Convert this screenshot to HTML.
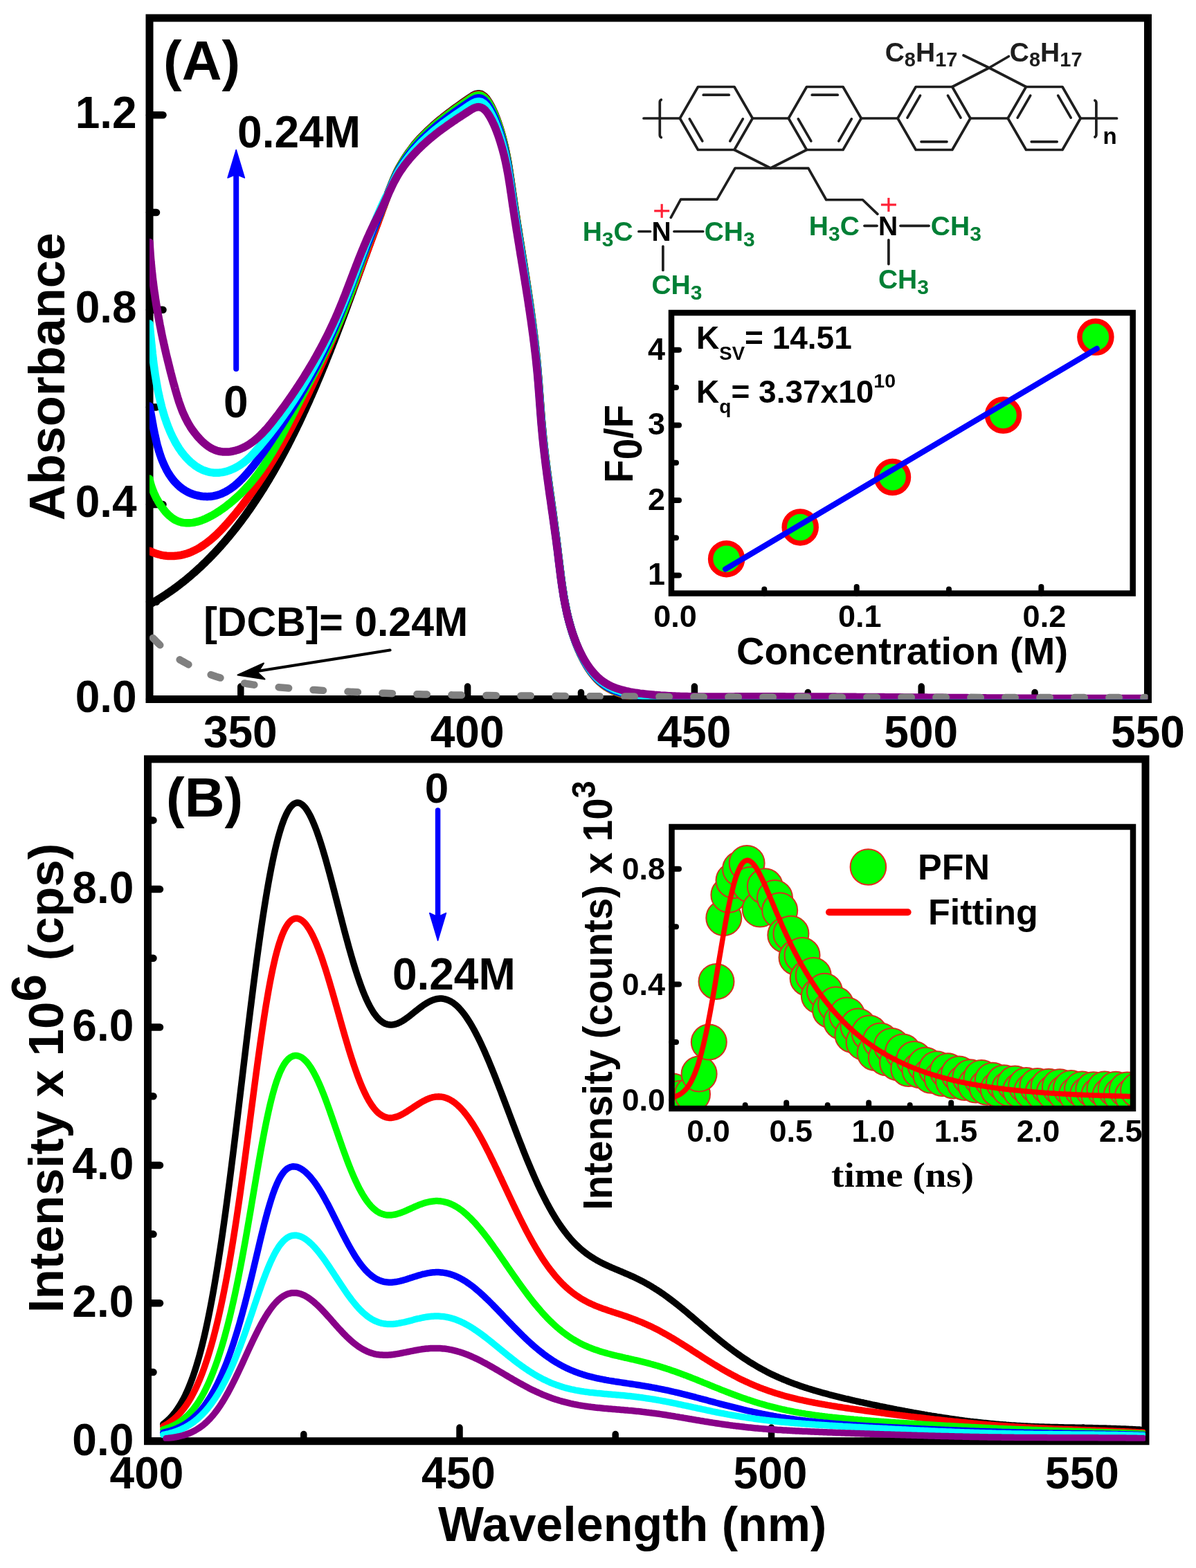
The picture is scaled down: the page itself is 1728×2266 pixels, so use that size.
<!DOCTYPE html>
<html><head><meta charset="utf-8"><title>PFN absorption and emission quenching</title>
<style>html,body{margin:0;padding:0;background:#fff;}svg{display:block;}</style>
</head><body>
<svg xmlns="http://www.w3.org/2000/svg" width="1728" height="2266" viewBox="0 0 1728 2266">
<rect x="0" y="0" width="1728" height="2266" fill="#fff"/>
<rect x="216" y="26" width="1442.5" height="984.5" fill="none" stroke="#000" stroke-width="11" stroke-linejoin="miter"/>
<rect x="213.5" y="1097" width="1441.5" height="985.7" fill="none" stroke="#000" stroke-width="11" stroke-linejoin="miter"/>
<line x1="216" y1="1010.5" x2="235.5" y2="1010.5" stroke="#000" stroke-width="10.5" stroke-linecap="round"/>
<line x1="216" y1="869.8" x2="226" y2="869.8" stroke="#000" stroke-width="10.5" stroke-linecap="round"/>
<line x1="216" y1="729.1" x2="235.5" y2="729.1" stroke="#000" stroke-width="10.5" stroke-linecap="round"/>
<line x1="216" y1="588.4" x2="226" y2="588.4" stroke="#000" stroke-width="10.5" stroke-linecap="round"/>
<line x1="216" y1="447.7" x2="235.5" y2="447.7" stroke="#000" stroke-width="10.5" stroke-linecap="round"/>
<line x1="216" y1="307" x2="226" y2="307" stroke="#000" stroke-width="10.5" stroke-linecap="round"/>
<line x1="216" y1="166.3" x2="235.5" y2="166.3" stroke="#000" stroke-width="10.5" stroke-linecap="round"/>
<line x1="347.8" y1="1010.5" x2="347.8" y2="992" stroke="#000" stroke-width="9.5" stroke-linecap="round"/>
<line x1="675.6" y1="1010.5" x2="675.6" y2="992" stroke="#000" stroke-width="9.5" stroke-linecap="round"/>
<line x1="839.5" y1="1010.5" x2="839.5" y2="1000.5" stroke="#000" stroke-width="9.5" stroke-linecap="round"/>
<line x1="1003.4" y1="1010.5" x2="1003.4" y2="992" stroke="#000" stroke-width="9.5" stroke-linecap="round"/>
<line x1="1167.3" y1="1010.5" x2="1167.3" y2="1000.5" stroke="#000" stroke-width="9.5" stroke-linecap="round"/>
<line x1="1331.2" y1="1010.5" x2="1331.2" y2="992" stroke="#000" stroke-width="9.5" stroke-linecap="round"/>
<line x1="1495.1" y1="1010.5" x2="1495.1" y2="1000.5" stroke="#000" stroke-width="9.5" stroke-linecap="round"/>
<line x1="213.5" y1="2082.7" x2="231" y2="2082.7" stroke="#000" stroke-width="10.5" stroke-linecap="round"/>
<line x1="213.5" y1="1983" x2="221.5" y2="1983" stroke="#000" stroke-width="10.5" stroke-linecap="round"/>
<line x1="213.5" y1="1883.3" x2="231" y2="1883.3" stroke="#000" stroke-width="10.5" stroke-linecap="round"/>
<line x1="213.5" y1="1783.6" x2="221.5" y2="1783.6" stroke="#000" stroke-width="10.5" stroke-linecap="round"/>
<line x1="213.5" y1="1683.9" x2="231" y2="1683.9" stroke="#000" stroke-width="10.5" stroke-linecap="round"/>
<line x1="213.5" y1="1584.2" x2="221.5" y2="1584.2" stroke="#000" stroke-width="10.5" stroke-linecap="round"/>
<line x1="213.5" y1="1484.5" x2="231" y2="1484.5" stroke="#000" stroke-width="10.5" stroke-linecap="round"/>
<line x1="213.5" y1="1384.8" x2="221.5" y2="1384.8" stroke="#000" stroke-width="10.5" stroke-linecap="round"/>
<line x1="213.5" y1="1285.1" x2="231" y2="1285.1" stroke="#000" stroke-width="10.5" stroke-linecap="round"/>
<line x1="213.5" y1="1185.4" x2="221.5" y2="1185.4" stroke="#000" stroke-width="10.5" stroke-linecap="round"/>
<line x1="438.8" y1="2082.7" x2="438.8" y2="2072.5" stroke="#000" stroke-width="9.5" stroke-linecap="round"/>
<line x1="664" y1="2082.7" x2="664" y2="2063" stroke="#000" stroke-width="9.5" stroke-linecap="round"/>
<line x1="889.2" y1="2082.7" x2="889.2" y2="2072.5" stroke="#000" stroke-width="9.5" stroke-linecap="round"/>
<line x1="1114.5" y1="2082.7" x2="1114.5" y2="2063" stroke="#000" stroke-width="9.5" stroke-linecap="round"/>
<line x1="1339.8" y1="2082.7" x2="1339.8" y2="2072.5" stroke="#000" stroke-width="9.5" stroke-linecap="round"/>
<line x1="1565" y1="2082.7" x2="1565" y2="2063" stroke="#000" stroke-width="9.5" stroke-linecap="round"/>
<defs><clipPath id="clipA"><rect x="216" y="26" width="1442.5" height="984.5"/></clipPath><clipPath id="clipB"><rect x="213.5" y="1097" width="1441.5" height="985.7"/></clipPath><clipPath id="clipIB"><rect x="970.5" y="1195" width="666.5" height="407"/></clipPath></defs>
<g clip-path="url(#clipA)">
<path d="M216.6 873.2 L218.7 872 L220.8 870.8 L222.9 869.6 L224.9 868.4 L227 867.2 L229 865.9 L231 864.7 L233.1 863.4 L235.1 862.1 L237.1 860.8 L239.1 859.5 L241 858.2 L243 856.8 L245 855.5 L246.9 854.1 L248.9 852.8 L250.8 851.4 L252.7 850 L254.6 848.6 L256.5 847.2 L258.4 845.7 L260.3 844.3 L262.2 842.8 L264 841.4 L265.9 839.9 L267.7 838.4 L269.6 836.9 L271.4 835.4 L273.2 833.9 L275 832.3 L276.8 830.8 L278.6 829.2 L280.4 827.7 L282.2 826.1 L283.9 824.5 L285.7 822.9 L287.4 821.3 L289.2 819.7 L290.9 818.1 L292.6 816.4 L294.3 814.8 L296 813.2 L297.7 811.5 L299.4 809.8 L301.1 808.1 L302.8 806.4 L304.4 804.8 L306.1 803 L307.7 801.3 L309.4 799.6 L311 797.9 L312.6 796.1 L314.2 794.4 L315.8 792.6 L317.4 790.9 L319 789.1 L320.6 787.3 L322.1 785.5 L323.7 783.7 L325.3 781.9 L326.8 780.1 L328.3 778.3 L329.9 776.5 L331.4 774.6 L332.9 772.8 L334.4 770.9 L335.9 769.1 L337.4 767.2 L338.9 765.3 L340.4 763.5 L341.9 761.6 L343.3 759.7 L344.8 757.8 L346.2 755.9 L347.7 754 L349.1 752.1 L350.5 750.2 L351.9 748.2 L353.4 746.3 L354.8 744.4 L356.2 742.4 L357.5 740.5 L358.9 738.5 L360.3 736.6 L361.7 734.6 L363 732.6 L364.4 730.6 L365.8 728.7 L367.1 726.7 L368.4 724.7 L369.8 722.7 L371.1 720.7 L372.4 718.7 L373.7 716.7 L375 714.6 L376.3 712.6 L377.6 710.6 L378.9 708.5 L380.2 706.5 L381.5 704.5 L382.7 702.4 L384 700.4 L385.2 698.3 L386.5 696.2 L387.7 694.2 L389 692.1 L390.2 690 L391.4 688 L392.6 685.9 L393.9 683.8 L395.1 681.7 L396.3 679.6 L397.5 677.5 L398.7 675.4 L399.8 673.3 L401 671.2 L402.2 669.1 L403.4 667 L404.5 664.8 L405.7 662.7 L406.8 660.6 L408 658.5 L409.1 656.3 L410.3 654.2 L411.4 652.1 L412.5 649.9 L413.6 647.8 L414.8 645.6 L415.9 643.5 L417 641.3 L418.1 639.2 L419.2 637 L420.3 634.9 L421.3 632.7 L422.4 630.5 L423.5 628.4 L424.6 626.2 L425.6 624 L426.7 621.9 L427.8 619.7 L428.8 617.5 L429.9 615.3 L430.9 613.2 L432 611 L433 608.8 L434 606.6 L435.1 604.4 L436.1 602.2 L437.1 600 L438.1 597.9 L439.1 595.7 L440.1 593.5 L441.1 591.3 L442.1 589.1 L443.1 586.9 L444.1 584.7 L445.1 582.5 L446.1 580.3 L447.1 578.1 L448 575.9 L449 573.7 L450 571.5 L450.9 569.3 L451.9 567.1 L452.9 564.9 L453.8 562.7 L454.8 560.5 L455.7 558.3 L456.7 556.1 L457.6 553.9 L458.5 551.6 L459.5 549.4 L460.4 547.2 L461.3 545 L462.3 542.8 L463.2 540.6 L464.1 538.4 L465 536.2 L465.9 534 L466.8 531.7 L467.8 529.5 L468.7 527.3 L469.6 525.1 L470.5 522.9 L471.4 520.7 L472.2 518.4 L473.1 516.2 L474 514 L474.9 511.8 L475.8 509.6 L476.7 507.3 L477.6 505.1 L478.4 502.9 L479.3 500.7 L480.2 498.4 L481 496.2 L481.9 494 L482.8 491.8 L483.6 489.5 L484.5 487.3 L485.4 485.1 L486.2 482.8 L487.1 480.6 L487.9 478.4 L488.8 476.1 L489.6 473.9 L490.5 471.7 L491.3 469.5 L492.2 467.2 L493 465 L493.8 462.8 L494.7 460.5 L495.5 458.3 L496.4 456 L497.2 453.8 L498 451.6 L498.9 449.3 L499.7 447.1 L500.5 444.9 L501.4 442.6 L502.2 440.4 L503 438.1 L503.8 435.9 L504.7 433.7 L505.5 431.4 L506.3 429.2 L507.1 426.9 L507.9 424.7 L508.8 422.5 L509.6 420.2 L510.4 418 L511.2 415.7 L512 413.5 L512.8 411.2 L513.7 409 L514.5 406.8 L515.3 404.5 L516.1 402.3 L516.9 400 L517.7 397.8 L518.5 395.5 L519.3 393.3 L520.2 391 L521 388.8 L521.8 386.5 L522.6 384.3 L523.4 382 L524.2 379.8 L525 377.6 L525.8 375.3 L526.6 373.1 L527.4 370.8 L528.3 368.6 L529.1 366.3 L529.9 364.1 L530.7 361.8 L531.5 359.6 L532.3 357.3 L533.1 355.1 L533.9 352.8 L534.7 350.6 L535.6 348.3 L536.4 346.1 L537.2 343.8 L538 341.6 L538.8 339.3 L539.6 337 L540.5 334.8 L541.3 332.5 L542.1 330.3 L542.9 328 L543.7 325.8 L544.6 323.5 L545.4 321.3 L546.2 319 L547 316.8 L547.9 314.5 L548.7 312.3 L549.5 310 L550.3 307.8 L551.2 305.5 L552 303.3 L552.8 301 L553.7 298.8 L554.5 296.5 L555.3 294.3 L556.2 292 L557 289.7 L557.9 287.5 L558.7 285.2 L559.3 283.1 L561.6 277 L564 271 L566.4 265 L568.8 259 L571.5 252.9 L574.2 246.9 L577.2 241.3 L580.4 235.8 L583.8 230.4 L587.3 225 L591 219.6 L594.9 214.3 L598.9 209 L603.1 204.1 L607.3 199.5 L611.7 195 L616.2 190.5 L620.8 186.2 L625.4 181.9 L630.1 177.7 L634.9 173.8 L639.7 169.9 L644.6 166.1 L649.4 162.3 L654.3 158.7 L659.1 155.1 L664 151.7 L668.8 148.3 L673.5 145 L678.2 141.7 L682.7 138.7 L687.2 136.4 L691.5 135.7 L695.6 136.5 L699.4 139 L703 142.8 L706.3 147.7 L709.4 153.1 L712.3 159 L715 165.1 L717.4 171.3 L719.7 177.7 L721.8 184 L723.7 190.2 L725.5 196.4 L727.1 202.5 L728.6 208.6 L730 214.6 L731.2 220.5 L732.4 226.4 L733.5 232.3 L734.5 238.2 L735.4 244 L736.3 249.8 L737.2 255.6 L738 261.4 L738.9 267.1 L739.7 272.9 L740.5 278.7 L741.4 284.5 L742.2 290.3 L743.1 296.1 L744 301.9 L744.9 307.7 L745.8 313.6 L746.7 319.4 L747.6 325.3 L748.6 331.1 L749.5 337 L750.4 342.9 L751.4 348.8 L752.3 354.7 L753.3 360.6 L754.2 366.5 L755.2 372.4 L756.1 378.3 L757.1 384.2 L758 390.2 L758.9 396.1 L759.9 402 L760.8 408 L761.7 413.9 L762.6 419.9 L763.5 425.8 L764.4 431.8 L765.3 437.8 L766.1 443.7 L767 449.7 L767.8 455.7 L768.6 461.6 L769.4 467.6 L770.2 473.6 L770.9 479.6 L771.7 485.5 L772.4 491.5 L773.1 497.5 L773.8 503.5 L774.4 509.5 L775 515.5 L775.6 521.4 L776.2 527.4 L776.7 533.4 L777.2 539.4 L777.7 545.4 L778.2 551.3 L778.6 557.3 L779.1 563.3 L779.5 569.3 L780 575.2 L780.4 581.2 L780.8 587.2 L781.3 593.1 L781.7 599.1 L782.2 605.1 L782.7 611 L783.3 617 L783.8 623 L784.4 628.9 L785 634.9 L785.7 640.9 L786.3 646.8 L787 652.8 L787.7 658.7 L788.4 664.7 L789.2 670.7 L789.9 676.6 L790.7 682.6 L791.5 688.5 L792.3 694.5 L793.1 700.4 L793.9 706.4 L794.7 712.3 L795.6 718.3 L796.4 724.3 L797.2 730.2 L798.1 736.2 L798.9 742.1 L799.7 748.1 L800.5 754 L801.3 760 L802.1 765.9 L802.9 771.9 L803.7 777.8 L804.4 783.8 L805.2 789.7 L805.9 795.7 L806.6 801.6 L807.3 807.6 L808 813.5 L808.8 819.5 L809.5 825.4 L810.2 831.4 L811 837.3 L811.8 843.3 L812.7 849.2 L813.6 855.2 L814.5 861.1 L815.6 867 L816.7 873 L817.9 878.9 L819.1 884.8 L820.5 890.8 L822 896.7 L823.6 902.6 L825.3 908.5 L827.1 914.4 L829.1 920.3 L831.2 926.2 L833.5 932.1 L835.9 937.9 L838.5 943.7 L841.3 949.4 L844.2 955 L847.4 960.4 L850.7 965.6 L854.2 970.6 L858 975.3 L861.9 979.8 L866.1 983.9 L870.6 987.6 L875.2 990.9 L880.1 993.8 L885.2 996.4 L890.5 998.6 L896 1000.5 L901.6 1002.1 L907.3 1003.5 L913.1 1004.7 L918.9 1005.7 L924.8 1006.5 L930.7 1007.3 L936.6 1008 L942.5 1008.6 L948.4 1009.1 L954.3 1009.6 L960.2 1010 L966.1 1010.4 L972 1010.7 L977.8 1010.9 L983.7 1011.1 L989.6 1011.3 L995.4 1011.4 L1001.3 1011.5 L1007.2 1011.6 L1013 1011.7 L1018.9 1011.7 L1024.7 1011.7 L1030.6 1011.7 L1036.5 1011.7 L1042.3 1011.7 L1048.2 1011.6 L1054 1011.6 L1059.9 1011.6 L1065.7 1011.6 L1071.6 1011.6 L1077.4 1011.6 L1083.3 1011.6 L1089.2 1011.6 L1095 1011.6 L1100.9 1011.6 L1106.7 1011.6 L1112.6 1011.6 L1118.5 1011.6 L1124.3 1011.6 L1130.2 1011.6 L1136 1011.6 L1141.9 1011.6 L1147.8 1011.6 L1153.6 1011.7 L1159.5 1011.7 L1165.3 1011.7 L1171.2 1011.7 L1177.1 1011.8 L1182.9 1011.8 L1188.8 1011.8 L1194.7 1011.9 L1200.5 1011.9 L1206.4 1011.9 L1212.2 1012 L1218.1 1012 L1224 1012 L1229.8 1012.1 L1235.7 1012.1 L1241.6 1012.2 L1247.4 1012.2 L1253.3 1012.3 L1259.2 1012.3 L1265 1012.3 L1270.9 1012.4 L1276.8 1012.4 L1282.6 1012.5 L1288.5 1012.5 L1294.3 1012.6 L1300.2 1012.6 L1306.1 1012.7 L1311.9 1012.7 L1317.8 1012.8 L1323.7 1012.8 L1329.5 1012.9 L1335.4 1013 L1341.3 1013 L1347.1 1013.1 L1353 1013.1 L1358.9 1013.2 L1364.7 1013.2 L1370.6 1013.3 L1376.5 1013.3 L1382.3 1013.4 L1388.2 1013.4 L1394.1 1013.5 L1399.9 1013.5 L1405.8 1013.6 L1411.7 1013.6 L1417.5 1013.7 L1423.4 1013.7 L1429.3 1013.8 L1435.1 1013.8 L1441 1013.9 L1446.9 1013.9 L1452.7 1014 L1458.6 1014 L1464.5 1014 L1470.3 1014.1 L1476.2 1014.1 L1482.1 1014.2 L1487.9 1014.2 L1493.8 1014.2 L1499.6 1014.3 L1505.5 1014.3 L1511.4 1014.3 L1517.2 1014.4 L1523.1 1014.4 L1529 1014.4 L1534.8 1014.4 L1540.7 1014.5 L1546.6 1014.5 L1552.4 1014.5 L1558.3 1014.5 L1564.2 1014.5 L1570 1014.5 L1575.9 1014.5 L1581.7 1014.6 L1587.6 1014.6 L1593.5 1014.6 L1599.3 1014.6 L1605.2 1014.6 L1611 1014.6 L1616.9 1014.5 L1622.8 1014.5 L1628.6 1014.5 L1634.5 1014.5 L1640.4 1014.5 L1646.2 1014.5 L1652.1 1014.4" fill="none" stroke="#000000" stroke-width="11.5" stroke-linejoin="round" stroke-linecap="round"/>
<path d="M216.4 796.2 L218.6 797.2 L220.8 798.2 L223 799.1 L225.2 799.9 L227.4 800.6 L229.6 801.2 L231.8 801.8 L234 802.3 L236.2 802.7 L238.5 803 L240.6 803.3 L242.8 803.5 L245 803.6 L247.2 803.6 L249.4 803.6 L251.5 803.5 L253.7 803.3 L255.8 803.1 L257.9 802.8 L260 802.5 L262.1 802.1 L264.2 801.6 L266.3 801.1 L268.3 800.5 L270.3 799.9 L272.3 799.2 L274.3 798.5 L276.2 797.7 L278.2 796.8 L280.1 795.9 L282 795 L283.9 794 L285.8 793 L287.7 791.9 L289.5 790.8 L291.3 789.6 L293.1 788.4 L294.9 787.2 L296.7 785.9 L298.5 784.6 L300.2 783.3 L302 781.9 L303.7 780.5 L305.4 779.1 L307.1 777.6 L308.8 776.1 L310.5 774.6 L312.2 773.1 L313.8 771.5 L315.4 769.9 L317.1 768.3 L318.7 766.6 L320.3 765 L321.9 763.3 L323.5 761.6 L325 759.9 L326.6 758.2 L328.1 756.5 L329.7 754.8 L331.2 753 L332.7 751.2 L334.2 749.5 L335.7 747.7 L337.2 745.9 L338.7 744.2 L340.2 742.4 L341.7 740.6 L343.1 738.8 L344.6 737 L346 735.2 L347.5 733.4 L348.9 731.6 L350.3 729.7 L351.7 727.9 L353.1 726.1 L354.5 724.2 L355.9 722.4 L357.3 720.5 L358.7 718.7 L360 716.8 L361.4 715 L362.7 713.1 L364.1 711.3 L365.4 709.4 L366.7 707.5 L368 705.6 L369.4 703.7 L370.7 701.8 L372 700 L373.3 698.1 L374.5 696.2 L375.8 694.2 L377.1 692.3 L378.4 690.4 L379.6 688.5 L380.9 686.6 L382.1 684.7 L383.3 682.7 L384.6 680.8 L385.8 678.9 L387 676.9 L388.2 675 L389.4 673 L390.6 671.1 L391.8 669.1 L393 667.2 L394.2 665.2 L395.4 663.3 L396.6 661.3 L397.7 659.3 L398.9 657.4 L400 655.4 L401.2 653.4 L402.3 651.4 L403.5 649.4 L404.6 647.5 L405.7 645.5 L406.9 643.5 L408 641.5 L409.1 639.5 L410.2 637.5 L411.3 635.5 L412.4 633.5 L413.5 631.5 L414.6 629.5 L415.7 627.5 L416.7 625.5 L417.8 623.4 L418.9 621.4 L420 619.4 L421 617.4 L422.1 615.4 L423.1 613.4 L424.2 611.3 L425.2 609.3 L426.3 607.3 L427.3 605.2 L428.3 603.2 L429.4 601.2 L430.4 599.1 L431.4 597.1 L432.4 595.1 L433.5 593 L434.5 591 L435.5 589 L436.5 586.9 L437.5 584.9 L438.5 582.8 L439.5 580.8 L440.5 578.7 L441.5 576.7 L442.4 574.6 L443.4 572.6 L444.4 570.6 L445.4 568.5 L446.4 566.5 L447.3 564.4 L448.3 562.3 L449.3 560.3 L450.2 558.2 L451.2 556.2 L452.1 554.1 L453.1 552.1 L454 550 L455 548 L455.9 545.9 L456.9 543.8 L457.8 541.8 L458.8 539.7 L459.7 537.6 L460.6 535.6 L461.5 533.5 L462.5 531.4 L463.4 529.4 L464.3 527.3 L465.2 525.2 L466.2 523.2 L467.1 521.1 L468 519 L468.9 516.9 L469.8 514.9 L470.7 512.8 L471.6 510.7 L472.5 508.6 L473.4 506.6 L474.3 504.5 L475.2 502.4 L476.1 500.3 L477 498.3 L477.8 496.2 L478.7 494.1 L479.6 492 L480.5 489.9 L481.4 487.8 L482.2 485.8 L483.1 483.7 L484 481.6 L484.9 479.5 L485.7 477.4 L486.6 475.3 L487.4 473.2 L488.3 471.1 L489.2 469 L490 466.9 L490.9 464.9 L491.7 462.8 L492.6 460.7 L493.4 458.6 L494.3 456.5 L495.1 454.4 L496 452.3 L496.8 450.2 L497.7 448.1 L498.5 446 L499.3 443.9 L500.2 441.8 L501 439.7 L501.8 437.6 L502.7 435.5 L503.5 433.4 L504.3 431.3 L505.2 429.1 L506 427 L506.8 424.9 L507.6 422.8 L508.4 420.7 L509.3 418.6 L510.1 416.5 L510.9 414.4 L511.7 412.3 L512.5 410.2 L513.4 408 L514.2 405.9 L515 403.8 L515.8 401.7 L516.6 399.6 L517.4 397.5 L518.2 395.4 L519 393.2 L519.8 391.1 L520.6 389 L521.4 386.9 L522.2 384.8 L523 382.6 L523.8 380.5 L524.6 378.4 L525.4 376.3 L526.2 374.1 L527 372 L527.8 369.9 L528.6 367.8 L529.4 365.7 L530.2 363.5 L531 361.4 L531.8 359.3 L532.6 357.1 L533.4 355 L534.2 352.9 L534.9 350.8 L535.7 348.6 L536.5 346.5 L537.3 344.4 L538.1 342.2 L538.9 340.1 L539.7 338 L540.5 335.8 L541.2 333.7 L542 331.6 L542.8 329.4 L543.6 327.3 L544.4 325.2 L545.2 323 L546 320.9 L546.7 318.7 L547.5 316.6 L548.3 314.5 L549.1 312.3 L549.9 310.2 L550.7 308.1 L551.4 305.9 L552.2 303.8 L553 301.6 L553.8 299.5 L554.6 297.3 L555.3 295.2 L556.1 293.1 L556.9 290.9 L557.7 288.8 L558.5 286.6 L559.3 284.5 L559.3 283.2 L561.6 277.2 L564 271.2 L566.4 265.2 L568.8 259.2 L571.5 253.3 L574.2 247.3 L577.2 241.7 L580.4 236.3 L583.8 230.9 L587.3 225.5 L591 220.2 L594.9 214.9 L598.9 209.6 L603.1 204.8 L607.3 200.2 L611.7 195.7 L616.2 191.3 L620.8 186.9 L625.4 182.7 L630.1 178.5 L634.9 174.6 L639.7 170.7 L644.6 166.9 L649.4 163.2 L654.3 159.6 L659.1 156 L664 152.6 L668.8 149.2 L673.5 145.9 L678.2 142.7 L682.7 139.7 L687.2 137.4 L691.5 136.7 L695.6 137.5 L699.4 140 L703 143.8 L706.3 148.7 L709.4 154.1 L712.3 159.9 L715 166 L717.4 172.3 L719.7 178.6 L721.8 184.9 L723.7 191.2 L725.5 197.3 L727.1 203.4 L728.6 209.5 L730 215.5 L731.2 221.4 L732.4 227.3 L733.5 233.2 L734.5 239.1 L735.4 244.9 L736.3 250.7 L737.2 256.4 L738 262.2 L738.9 268 L739.7 273.7 L740.5 279.5 L741.4 285.3 L742.2 291.1 L743.1 296.9 L744 302.7 L744.9 308.5 L745.8 314.4 L746.7 320.2 L747.6 326.1 L748.6 331.9 L749.5 337.8 L750.4 343.7 L751.4 349.5 L752.3 355.4 L753.3 361.3 L754.2 367.2 L755.2 373.1 L756.1 379 L757.1 385 L758 390.9 L758.9 396.8 L759.9 402.7 L760.8 408.7 L761.7 414.6 L762.6 420.6 L763.5 426.5 L764.4 432.5 L765.3 438.4 L766.1 444.4 L767 450.3 L767.8 456.3 L768.6 462.3 L769.4 468.2 L770.2 474.2 L770.9 480.2 L771.7 486.1 L772.4 492.1 L773.1 498.1 L773.8 504.1 L774.4 510 L775 516 L775.6 522 L776.2 528 L776.7 533.9 L777.2 539.9 L777.7 545.9 L778.2 551.9 L778.6 557.8 L779.1 563.8 L779.5 569.8 L780 575.7 L780.4 581.7 L780.8 587.7 L781.3 593.6 L781.7 599.6 L782.2 605.5 L782.7 611.5 L783.3 617.5 L783.8 623.4 L784.4 629.4 L785 635.3 L785.7 641.3 L786.3 647.3 L787 653.2 L787.7 659.2 L788.4 665.1 L789.2 671.1 L789.9 677 L790.7 683 L791.5 688.9 L792.3 694.9 L793.1 700.9 L793.9 706.8 L794.7 712.8 L795.6 718.7 L796.4 724.7 L797.2 730.6 L798.1 736.6 L798.9 742.5 L799.7 748.5 L800.5 754.4 L801.3 760.4 L802.1 766.3 L802.9 772.3 L803.7 778.3 L804.4 784.2 L805.2 790.2 L805.9 796.1 L806.6 802.1 L807.3 808.1 L808 814 L808.8 820 L809.5 825.9 L810.2 831.9 L811 837.9 L811.8 843.8 L812.7 849.8 L813.6 855.8 L814.5 861.7 L815.6 867.7 L816.7 873.6 L817.9 879.6 L819.1 885.6 L820.5 891.5 L822 897.5 L823.6 903.4 L825.3 909.3 L827.1 915.3 L829.1 921.2 L831.2 927.1 L833.5 933.1 L835.9 939 L838.5 944.8 L841.3 950.6 L844.2 956.2 L847.4 961.7 L850.7 967 L854.2 972 L858 976.8 L861.9 981.3 L866.1 985.4 L870.6 989.2 L875.2 992.6 L880.1 995.5 L885.2 998.1 L890.5 1000.3 L896 1002.2 L901.6 1003.9 L907.3 1005.3 L913.1 1006.5 L918.9 1007.5 L924.8 1008.4 L930.7 1009.1 L936.6 1009.8 L942.5 1010.5 L948.4 1011 L954.3 1011.5 L960.2 1011.9 L966.1 1012.3 L972 1012.6 L977.8 1012.8 L983.7 1013.1 L989.6 1013.2 L995.4 1013.4 L1001.3 1013.5 L1007.2 1013.6 L1013 1013.6 L1018.9 1013.6 L1024.7 1013.6 L1030.6 1013.6 L1036.5 1013.6 L1042.3 1013.6 L1048.2 1013.6 L1054 1013.6 L1059.9 1013.5 L1065.7 1013.5 L1071.6 1013.5 L1077.4 1013.5 L1083.3 1013.5 L1089.2 1013.5 L1095 1013.5 L1100.9 1013.5 L1106.7 1013.5 L1112.6 1013.5 L1118.5 1013.5 L1124.3 1013.5 L1130.2 1013.5 L1136 1013.5 L1141.9 1013.6 L1147.8 1013.6 L1153.6 1013.6 L1159.5 1013.6 L1165.3 1013.6 L1171.2 1013.7 L1177.1 1013.7 L1182.9 1013.7 L1188.8 1013.8 L1194.7 1013.8 L1200.5 1013.8 L1206.4 1013.9 L1212.2 1013.9 L1218.1 1013.9 L1224 1014 L1229.8 1014 L1235.7 1014.1 L1241.6 1014.1 L1247.4 1014.2 L1253.3 1014.2 L1259.2 1014.2 L1265 1014.3 L1270.9 1014.3 L1276.8 1014.4 L1282.6 1014.4 L1288.5 1014.5 L1294.3 1014.5 L1300.2 1014.6 L1306.1 1014.6 L1311.9 1014.7 L1317.8 1014.8 L1323.7 1014.8 L1329.5 1014.9 L1335.4 1014.9 L1341.3 1015 L1347.1 1015 L1353 1015.1 L1358.9 1015.1 L1364.7 1015.2 L1370.6 1015.2 L1376.5 1015.3 L1382.3 1015.3 L1388.2 1015.4 L1394.1 1015.4 L1399.9 1015.5 L1405.8 1015.5 L1411.7 1015.6 L1417.5 1015.7 L1423.4 1015.7 L1429.3 1015.7 L1435.1 1015.8 L1441 1015.8 L1446.9 1015.9 L1452.7 1015.9 L1458.6 1016 L1464.5 1016 L1470.3 1016.1 L1476.2 1016.1 L1482.1 1016.1 L1487.9 1016.2 L1493.8 1016.2 L1499.6 1016.2 L1505.5 1016.3 L1511.4 1016.3 L1517.2 1016.3 L1523.1 1016.4 L1529 1016.4 L1534.8 1016.4 L1540.7 1016.4 L1546.6 1016.5 L1552.4 1016.5 L1558.3 1016.5 L1564.2 1016.5 L1570 1016.5 L1575.9 1016.5 L1581.7 1016.5 L1587.6 1016.5 L1593.5 1016.5 L1599.3 1016.5 L1605.2 1016.5 L1611 1016.5 L1616.9 1016.5 L1622.8 1016.5 L1628.6 1016.5 L1634.5 1016.5 L1640.4 1016.5 L1646.2 1016.5 L1652.1 1016.4" fill="none" stroke="#ff0000" stroke-width="11.5" stroke-linejoin="round" stroke-linecap="round"/>
<path d="M215.9 692 L216.3 693.8 L216.7 695.7 L217.2 697.7 L217.8 699.7 L218.4 701.8 L219.1 703.9 L219.8 706 L220.7 708.2 L221.6 710.4 L222.5 712.7 L223.5 714.9 L224.6 717.1 L225.7 719.4 L226.9 721.6 L228.1 723.8 L229.4 726 L230.7 728.2 L232.1 730.3 L233.5 732.4 L235 734.4 L236.5 736.4 L238 738.3 L239.6 740.2 L241.2 741.9 L242.9 743.6 L244.6 745.2 L246.4 746.7 L248.1 748.1 L249.9 749.4 L251.8 750.6 L253.6 751.6 L255.5 752.5 L257.5 753.3 L259.4 754 L261.4 754.6 L263.3 755.1 L265.4 755.4 L267.4 755.6 L269.4 755.8 L271.5 755.8 L273.5 755.8 L275.6 755.6 L277.7 755.4 L279.8 755.1 L281.9 754.6 L284 754.2 L286.1 753.6 L288.3 753 L290.4 752.3 L292.5 751.5 L294.6 750.6 L296.7 749.8 L298.8 748.8 L300.9 747.8 L303 746.7 L305.1 745.6 L307.2 744.5 L309.3 743.3 L311.3 742.1 L313.3 740.8 L315.4 739.5 L317.4 738.2 L319.3 736.8 L321.3 735.5 L323.2 734.1 L325.2 732.7 L327 731.3 L328.9 729.8 L330.7 728.4 L332.6 726.9 L334.4 725.4 L336.1 724 L337.9 722.4 L339.6 720.9 L341.3 719.4 L343 717.8 L344.7 716.3 L346.3 714.7 L348 713.1 L349.6 711.5 L351.2 709.9 L352.8 708.3 L354.3 706.6 L355.8 705 L357.4 703.3 L358.9 701.7 L360.4 700 L361.8 698.3 L363.3 696.6 L364.7 694.8 L366.1 693.1 L367.5 691.4 L368.9 689.6 L370.3 687.8 L371.7 686.1 L373 684.3 L374.3 682.5 L375.7 680.7 L377 678.9 L378.3 677 L379.5 675.2 L380.8 673.4 L382.1 671.5 L383.3 669.7 L384.5 667.8 L385.8 665.9 L387 664 L388.2 662.1 L389.4 660.2 L390.5 658.3 L391.7 656.4 L392.9 654.5 L394 652.6 L395.2 650.6 L396.3 648.7 L397.5 646.8 L398.6 644.8 L399.7 642.8 L400.8 640.9 L401.9 638.9 L403 636.9 L404.1 635 L405.2 633 L406.3 631 L407.4 629 L408.4 627 L409.5 625 L410.6 623 L411.6 621 L412.7 618.9 L413.7 616.9 L414.8 614.9 L415.9 612.9 L416.9 610.8 L418 608.8 L419 606.8 L420 604.7 L421.1 602.7 L422.1 600.6 L423.2 598.6 L424.2 596.6 L425.3 594.5 L426.3 592.5 L427.4 590.4 L428.4 588.4 L429.5 586.3 L430.6 584.3 L431.6 582.2 L432.7 580.2 L433.8 578.1 L434.8 576.1 L435.9 574 L437 571.9 L438 569.9 L439.1 567.8 L440.2 565.8 L441.3 563.7 L442.4 561.7 L443.4 559.6 L444.5 557.6 L445.6 555.5 L446.7 553.4 L447.8 551.4 L448.8 549.3 L449.9 547.3 L451 545.2 L452.1 543.1 L453.2 541.1 L454.2 539 L455.3 537 L456.4 534.9 L457.5 532.8 L458.5 530.8 L459.6 528.7 L460.7 526.6 L461.7 524.6 L462.8 522.5 L463.8 520.5 L464.9 518.4 L465.9 516.3 L467 514.3 L468 512.2 L469.1 510.1 L470.1 508 L471.1 506 L472.1 503.9 L473.2 501.8 L474.2 499.8 L475.2 497.7 L476.2 495.6 L477.2 493.6 L478.2 491.5 L479.2 489.4 L480.1 487.3 L481.1 485.3 L482.1 483.2 L483 481.1 L484 479 L484.9 476.9 L485.9 474.9 L486.8 472.8 L487.7 470.7 L488.6 468.6 L489.5 466.6 L490.4 464.5 L491.3 462.4 L492.2 460.3 L493.1 458.2 L493.9 456.1 L494.8 454.1 L495.6 452 L496.5 449.9 L497.3 447.8 L498.1 445.7 L498.9 443.6 L499.7 441.5 L500.5 439.4 L501.3 437.4 L502.1 435.3 L502.9 433.2 L503.7 431.1 L504.4 429 L505.2 426.9 L505.9 424.8 L506.7 422.7 L507.5 420.6 L508.2 418.5 L509 416.4 L509.7 414.3 L510.4 412.2 L511.2 410.1 L511.9 408 L512.6 405.9 L513.4 403.8 L514.1 401.7 L514.8 399.6 L515.6 397.5 L516.3 395.4 L517 393.3 L517.8 391.2 L518.5 389.1 L519.3 387 L520 384.9 L520.7 382.8 L521.5 380.7 L522.2 378.5 L523 376.4 L523.7 374.3 L524.5 372.2 L525.2 370.1 L526 368 L526.8 365.9 L527.5 363.7 L528.3 361.6 L529.1 359.5 L529.9 357.4 L530.7 355.3 L531.5 353.1 L532.3 351 L533.1 348.9 L533.9 346.8 L534.7 344.6 L535.6 342.5 L536.4 340.4 L537.2 338.3 L538.1 336.1 L538.9 334 L539.8 331.9 L540.6 329.7 L541.5 327.6 L542.3 325.5 L543.2 323.4 L544 321.2 L544.9 319.1 L545.8 316.9 L546.6 314.8 L547.5 312.7 L548.4 310.5 L549.2 308.4 L550.1 306.2 L551 304.1 L551.8 302 L552.7 299.8 L553.6 297.7 L554.4 295.5 L555.3 293.4 L556.2 291.2 L557 289.1 L557.9 286.9 L558.7 284.8 L559.3 283.3 L561.6 277.3 L564 271.3 L566.4 265.4 L568.8 259.5 L571.5 253.6 L574.2 247.7 L577.2 242.1 L580.4 236.7 L583.8 231.4 L587.3 226 L591 220.7 L594.9 215.5 L598.9 210.3 L603.1 205.5 L607.3 200.9 L611.7 196.4 L616.2 192 L620.8 187.7 L625.4 183.5 L630.1 179.4 L634.9 175.4 L639.7 171.6 L644.6 167.8 L649.4 164.1 L654.3 160.5 L659.1 157 L664 153.5 L668.8 150.2 L673.5 146.9 L678.2 143.6 L682.7 140.6 L687.2 138.4 L691.5 137.7 L695.6 138.5 L699.4 141 L703 144.8 L706.3 149.6 L709.4 155.1 L712.3 160.9 L715 167 L717.4 173.2 L719.7 179.6 L721.8 185.9 L723.7 192.1 L725.5 198.3 L727.1 204.4 L728.6 210.4 L730 216.4 L731.2 222.3 L732.4 228.2 L733.5 234.1 L734.5 239.9 L735.4 245.7 L736.3 251.5 L737.2 257.3 L738 263.1 L738.9 268.8 L739.7 274.6 L740.5 280.4 L741.4 286.1 L742.2 291.9 L743.1 297.7 L744 303.5 L744.9 309.3 L745.8 315.2 L746.7 321 L747.6 326.8 L748.6 332.7 L749.5 338.6 L750.4 344.4 L751.4 350.3 L752.3 356.2 L753.3 362.1 L754.2 368 L755.2 373.8 L756.1 379.8 L757.1 385.7 L758 391.6 L758.9 397.5 L759.9 403.4 L760.8 409.4 L761.7 415.3 L762.6 421.2 L763.5 427.2 L764.4 433.1 L765.3 439.1 L766.1 445 L767 451 L767.8 456.9 L768.6 462.9 L769.4 468.9 L770.2 474.8 L770.9 480.8 L771.7 486.7 L772.4 492.7 L773.1 498.7 L773.8 504.6 L774.4 510.6 L775 516.6 L775.6 522.6 L776.2 528.5 L776.7 534.5 L777.2 540.4 L777.7 546.4 L778.2 552.4 L778.6 558.3 L779.1 564.3 L779.5 570.3 L780 576.2 L780.4 582.2 L780.8 588.1 L781.3 594.1 L781.7 600 L782.2 606 L782.7 612 L783.3 617.9 L783.8 623.9 L784.4 629.8 L785 635.8 L785.7 641.7 L786.3 647.7 L787 653.6 L787.7 659.6 L788.4 665.5 L789.2 671.5 L789.9 677.4 L790.7 683.3 L791.5 689.3 L792.3 695.2 L793.1 701.2 L793.9 707.1 L794.7 713.1 L795.6 719 L796.4 724.9 L797.2 730.9 L798.1 736.8 L798.9 742.8 L799.7 748.7 L800.5 754.7 L801.3 760.6 L802.1 766.5 L802.9 772.5 L803.7 778.4 L804.4 784.4 L805.2 790.3 L805.9 796.3 L806.6 802.2 L807.3 808.2 L808 814.1 L808.8 820.1 L809.5 826 L810.2 832 L811 837.9 L811.8 843.9 L812.7 849.8 L813.6 855.7 L814.5 861.7 L815.6 867.6 L816.7 873.6 L817.9 879.5 L819.1 885.4 L820.5 891.3 L822 897.3 L823.6 903.2 L825.3 909.1 L827.1 915 L829.1 920.9 L831.2 926.8 L833.5 932.7 L835.9 938.6 L838.5 944.4 L841.3 950.1 L844.2 955.7 L847.4 961.1 L850.7 966.4 L854.2 971.4 L858 976.1 L861.9 980.6 L866.1 984.7 L870.6 988.4 L875.2 991.8 L880.1 994.7 L885.2 997.3 L890.5 999.5 L896 1001.4 L901.6 1003 L907.3 1004.4 L913.1 1005.6 L918.9 1006.6 L924.8 1007.5 L930.7 1008.2 L936.6 1008.9 L942.5 1009.5 L948.4 1010.1 L954.3 1010.5 L960.2 1011 L966.1 1011.3 L972 1011.6 L977.8 1011.9 L983.7 1012.1 L989.6 1012.3 L995.4 1012.4 L1001.3 1012.5 L1007.2 1012.6 L1013 1012.6 L1018.9 1012.7 L1024.7 1012.7 L1030.6 1012.7 L1036.5 1012.7 L1042.3 1012.6 L1048.2 1012.6 L1054 1012.6 L1059.9 1012.6 L1065.7 1012.6 L1071.6 1012.5 L1077.4 1012.5 L1083.3 1012.5 L1089.2 1012.5 L1095 1012.5 L1100.9 1012.5 L1106.7 1012.5 L1112.6 1012.5 L1118.5 1012.5 L1124.3 1012.6 L1130.2 1012.6 L1136 1012.6 L1141.9 1012.6 L1147.8 1012.6 L1153.6 1012.6 L1159.5 1012.7 L1165.3 1012.7 L1171.2 1012.7 L1177.1 1012.7 L1182.9 1012.8 L1188.8 1012.8 L1194.7 1012.8 L1200.5 1012.9 L1206.4 1012.9 L1212.2 1012.9 L1218.1 1013 L1224 1013 L1229.8 1013.1 L1235.7 1013.1 L1241.6 1013.1 L1247.4 1013.2 L1253.3 1013.2 L1259.2 1013.3 L1265 1013.3 L1270.9 1013.4 L1276.8 1013.4 L1282.6 1013.5 L1288.5 1013.5 L1294.3 1013.6 L1300.2 1013.6 L1306.1 1013.7 L1311.9 1013.7 L1317.8 1013.8 L1323.7 1013.8 L1329.5 1013.9 L1335.4 1013.9 L1341.3 1014 L1347.1 1014 L1353 1014.1 L1358.9 1014.2 L1364.7 1014.2 L1370.6 1014.3 L1376.5 1014.3 L1382.3 1014.4 L1388.2 1014.4 L1394.1 1014.5 L1399.9 1014.5 L1405.8 1014.6 L1411.7 1014.6 L1417.5 1014.7 L1423.4 1014.7 L1429.3 1014.8 L1435.1 1014.8 L1441 1014.9 L1446.9 1014.9 L1452.7 1014.9 L1458.6 1015 L1464.5 1015 L1470.3 1015.1 L1476.2 1015.1 L1482.1 1015.2 L1487.9 1015.2 L1493.8 1015.2 L1499.6 1015.3 L1505.5 1015.3 L1511.4 1015.3 L1517.2 1015.4 L1523.1 1015.4 L1529 1015.4 L1534.8 1015.4 L1540.7 1015.5 L1546.6 1015.5 L1552.4 1015.5 L1558.3 1015.5 L1564.2 1015.5 L1570 1015.5 L1575.9 1015.5 L1581.7 1015.6 L1587.6 1015.6 L1593.5 1015.6 L1599.3 1015.6 L1605.2 1015.6 L1611 1015.6 L1616.9 1015.5 L1622.8 1015.5 L1628.6 1015.5 L1634.5 1015.5 L1640.4 1015.5 L1646.2 1015.5 L1652.1 1015.4" fill="none" stroke="#00ff00" stroke-width="11.5" stroke-linejoin="round" stroke-linecap="round"/>
<path d="M216 587 L216.4 589 L216.8 591.1 L217.1 593.1 L217.5 595.2 L217.9 597.4 L218.3 599.6 L218.7 601.8 L219.1 604.1 L219.5 606.3 L219.9 608.6 L220.3 611 L220.8 613.3 L221.2 615.7 L221.6 618.1 L222.1 620.5 L222.6 622.9 L223.1 625.3 L223.6 627.8 L224.1 630.2 L224.7 632.7 L225.2 635.1 L225.8 637.6 L226.4 640.1 L227 642.5 L227.7 645 L228.4 647.4 L229.1 649.9 L229.8 652.3 L230.6 654.7 L231.3 657.1 L232.2 659.5 L233 661.9 L233.9 664.2 L234.8 666.5 L235.8 668.8 L236.8 671.1 L237.8 673.3 L238.9 675.5 L240 677.7 L241.1 679.9 L242.3 682 L243.5 684 L244.8 686.1 L246.1 688 L247.5 690 L248.9 691.9 L250.3 693.7 L251.8 695.5 L253.4 697.2 L255 698.9 L256.6 700.5 L258.3 702.1 L260 703.6 L261.8 705 L263.7 706.4 L265.6 707.7 L267.5 708.9 L269.5 710.1 L271.6 711.2 L273.7 712.2 L275.9 713.1 L278.1 714 L280.4 714.7 L282.7 715.4 L285.1 716 L287.5 716.5 L289.8 717 L292.2 717.3 L294.6 717.5 L297 717.6 L299.3 717.7 L301.6 717.6 L303.9 717.5 L306.1 717.2 L308.3 716.9 L310.5 716.4 L312.7 715.9 L314.8 715.3 L316.9 714.6 L318.9 713.9 L320.9 713.1 L322.9 712.1 L324.9 711.2 L326.9 710.1 L328.8 709 L330.7 707.8 L332.6 706.6 L334.4 705.3 L336.3 704 L338.1 702.6 L339.8 701.2 L341.6 699.7 L343.3 698.1 L345 696.6 L346.7 695 L348.4 693.3 L350.1 691.6 L351.7 689.9 L353.3 688.2 L354.9 686.4 L356.5 684.6 L358.1 682.8 L359.6 681 L361.2 679.1 L362.7 677.3 L364.2 675.4 L365.7 673.6 L367.2 671.7 L368.6 669.8 L370.1 667.9 L371.5 666 L373 664.1 L374.4 662.1 L375.8 660.2 L377.2 658.3 L378.6 656.3 L380 654.4 L381.4 652.4 L382.7 650.5 L384.1 648.5 L385.5 646.6 L386.8 644.6 L388.1 642.6 L389.5 640.6 L390.8 638.6 L392.2 636.6 L393.5 634.7 L394.8 632.7 L396.1 630.7 L397.5 628.7 L398.8 626.7 L400.1 624.7 L401.4 622.6 L402.7 620.6 L404 618.6 L405.4 616.6 L406.7 614.6 L408 612.6 L409.3 610.5 L410.6 608.5 L411.9 606.5 L413.1 604.5 L414.4 602.4 L415.7 600.4 L417 598.4 L418.3 596.3 L419.6 594.3 L420.8 592.2 L422.1 590.2 L423.4 588.1 L424.6 586.1 L425.9 584 L427.1 582 L428.4 579.9 L429.6 577.9 L430.8 575.8 L432.1 573.7 L433.3 571.7 L434.5 569.6 L435.7 567.5 L436.9 565.5 L438.2 563.4 L439.4 561.3 L440.6 559.2 L441.7 557.1 L442.9 555.1 L444.1 553 L445.3 550.9 L446.4 548.8 L447.6 546.7 L448.8 544.6 L449.9 542.5 L451.1 540.4 L452.2 538.3 L453.3 536.2 L454.4 534.1 L455.6 532 L456.7 529.9 L457.8 527.8 L458.9 525.7 L460 523.6 L461 521.5 L462.1 519.3 L463.2 517.2 L464.2 515.1 L465.3 513 L466.3 510.9 L467.4 508.7 L468.4 506.6 L469.4 504.5 L470.4 502.4 L471.4 500.2 L472.4 498.1 L473.4 496 L474.4 493.8 L475.4 491.7 L476.3 489.6 L477.3 487.4 L478.3 485.3 L479.2 483.1 L480.2 481 L481.1 478.8 L482 476.7 L483 474.6 L483.9 472.4 L484.8 470.2 L485.7 468.1 L486.6 465.9 L487.5 463.8 L488.4 461.6 L489.3 459.5 L490.2 457.3 L491.1 455.2 L492 453 L492.8 450.8 L493.7 448.7 L494.6 446.5 L495.5 444.3 L496.3 442.2 L497.2 440 L498 437.8 L498.9 435.6 L499.7 433.5 L500.6 431.3 L501.4 429.1 L502.3 427 L503.1 424.8 L504 422.6 L504.8 420.4 L505.7 418.2 L506.5 416.1 L507.3 413.9 L508.2 411.7 L509 409.5 L509.8 407.3 L510.7 405.1 L511.5 402.9 L512.3 400.8 L513.2 398.6 L514 396.4 L514.9 394.2 L515.7 392 L516.5 389.8 L517.4 387.6 L518.2 385.4 L519 383.2 L519.9 381 L520.7 378.8 L521.6 376.6 L522.4 374.4 L523.3 372.2 L524.1 370 L525 367.8 L525.8 365.6 L526.7 363.4 L527.5 361.2 L528.4 359 L529.3 356.8 L530.1 354.6 L531 352.4 L531.9 350.2 L532.8 348 L533.7 345.8 L534.5 343.6 L535.4 341.4 L536.3 339.2 L537.2 337 L538.1 334.8 L539 332.6 L539.9 330.4 L540.8 328.2 L541.7 326 L542.6 323.7 L543.5 321.5 L544.4 319.3 L545.3 317.1 L546.2 314.9 L547.1 312.7 L548.1 310.5 L549 308.3 L549.9 306.1 L550.8 303.9 L551.7 301.6 L552.6 299.4 L553.5 297.2 L554.5 295 L555.4 292.8 L556.3 290.6 L557.2 288.4 L558.1 286.2 L559 283.9 L559.3 283.5 L561.6 277.7 L564 272 L566.4 266.3 L568.8 260.6 L571.5 254.9 L574.2 249.2 L577.2 243.8 L580.4 238.6 L583.8 233.4 L587.3 228.2 L591 223.1 L594.9 218 L598.9 213 L603.1 208.3 L607.3 203.8 L611.7 199.4 L616.2 195.1 L620.8 190.8 L625.4 186.7 L630.1 182.6 L634.9 178.8 L639.7 175 L644.6 171.3 L649.4 167.6 L654.3 164.1 L659.1 160.6 L664 157.2 L668.8 153.9 L673.5 150.7 L678.2 147.5 L682.7 144.6 L687.2 142.4 L691.5 141.7 L695.6 142.5 L699.4 144.9 L703 148.8 L706.3 153.6 L709.4 159 L712.3 164.8 L715 170.9 L717.4 177.1 L719.7 183.4 L721.8 189.6 L723.7 195.8 L725.5 202 L727.1 208 L728.6 214.1 L730 220 L731.2 225.9 L732.4 231.8 L733.5 237.6 L734.5 243.5 L735.4 249.2 L736.3 255 L737.2 260.7 L738 266.5 L738.9 272.2 L739.7 277.9 L740.5 283.7 L741.4 289.4 L742.2 295.2 L743.1 301 L744 306.8 L744.9 312.5 L745.8 318.3 L746.7 324.2 L747.6 330 L748.6 335.8 L749.5 341.6 L750.4 347.5 L751.4 353.3 L752.3 359.2 L753.3 365 L754.2 370.9 L755.2 376.8 L756.1 382.6 L757.1 388.5 L758 394.4 L758.9 400.3 L759.9 406.2 L760.8 412.1 L761.7 418 L762.6 423.9 L763.5 429.8 L764.4 435.8 L765.3 441.7 L766.1 447.6 L767 453.5 L767.8 459.5 L768.6 465.4 L769.4 471.3 L770.2 477.3 L770.9 483.2 L771.7 489.1 L772.4 495.1 L773.1 501 L773.8 507 L774.4 512.9 L775 518.8 L775.6 524.8 L776.2 530.7 L776.7 536.7 L777.2 542.6 L777.7 548.5 L778.2 554.5 L778.6 560.4 L779.1 566.3 L779.5 572.3 L780 578.2 L780.4 584.1 L780.8 590.1 L781.3 596 L781.7 601.9 L782.2 607.8 L782.7 613.8 L783.3 619.7 L783.8 625.6 L784.4 631.5 L785 637.5 L785.7 643.4 L786.3 649.3 L787 655.2 L787.7 661.1 L788.4 667.1 L789.2 673 L789.9 678.9 L790.7 684.8 L791.5 690.7 L792.3 696.6 L793.1 702.6 L793.9 708.5 L794.7 714.4 L795.6 720.3 L796.4 726.2 L797.2 732.1 L798.1 738 L798.9 743.9 L799.7 749.9 L800.5 755.8 L801.3 761.7 L802.1 767.6 L802.9 773.5 L803.7 779.4 L804.4 785.3 L805.2 791.2 L805.9 797.1 L806.6 803.1 L807.3 809 L808 814.9 L808.8 820.8 L809.5 826.7 L810.2 832.6 L811 838.5 L811.8 844.4 L812.7 850.3 L813.6 856.2 L814.5 862.1 L815.6 868 L816.7 873.9 L817.9 879.8 L819.1 885.7 L820.5 891.6 L822 897.5 L823.6 903.3 L825.3 909.2 L827.1 915.1 L829.1 920.9 L831.2 926.8 L833.5 932.6 L835.9 938.4 L838.5 944.2 L841.3 949.8 L844.2 955.4 L847.4 960.8 L850.7 966 L854.2 970.9 L858 975.6 L861.9 980 L866.1 984.1 L870.6 987.8 L875.2 991.1 L880.1 994 L885.2 996.5 L890.5 998.7 L896 1000.6 L901.6 1002.2 L907.3 1003.6 L913.1 1004.7 L918.9 1005.7 L924.8 1006.6 L930.7 1007.3 L936.6 1008 L942.5 1008.6 L948.4 1009.1 L954.3 1009.6 L960.2 1010 L966.1 1010.4 L972 1010.7 L977.8 1011 L983.7 1011.2 L989.6 1011.3 L995.4 1011.5 L1001.3 1011.6 L1007.2 1011.6 L1013 1011.7 L1018.9 1011.7 L1024.7 1011.7 L1030.6 1011.7 L1036.5 1011.7 L1042.3 1011.7 L1048.2 1011.7 L1054 1011.6 L1059.9 1011.6 L1065.7 1011.6 L1071.6 1011.6 L1077.4 1011.6 L1083.3 1011.6 L1089.2 1011.6 L1095 1011.6 L1100.9 1011.6 L1106.7 1011.6 L1112.6 1011.6 L1118.5 1011.6 L1124.3 1011.6 L1130.2 1011.6 L1136 1011.6 L1141.9 1011.6 L1147.8 1011.7 L1153.6 1011.7 L1159.5 1011.7 L1165.3 1011.7 L1171.2 1011.8 L1177.1 1011.8 L1182.9 1011.8 L1188.8 1011.8 L1194.7 1011.9 L1200.5 1011.9 L1206.4 1011.9 L1212.2 1012 L1218.1 1012 L1224 1012.1 L1229.8 1012.1 L1235.7 1012.1 L1241.6 1012.2 L1247.4 1012.2 L1253.3 1012.3 L1259.2 1012.3 L1265 1012.4 L1270.9 1012.4 L1276.8 1012.5 L1282.6 1012.5 L1288.5 1012.6 L1294.3 1012.6 L1300.2 1012.7 L1306.1 1012.7 L1311.9 1012.8 L1317.8 1012.8 L1323.7 1012.9 L1329.5 1012.9 L1335.4 1013 L1341.3 1013 L1347.1 1013.1 L1353 1013.1 L1358.9 1013.2 L1364.7 1013.2 L1370.6 1013.3 L1376.5 1013.3 L1382.3 1013.4 L1388.2 1013.4 L1394.1 1013.5 L1399.9 1013.5 L1405.8 1013.6 L1411.7 1013.6 L1417.5 1013.7 L1423.4 1013.7 L1429.3 1013.8 L1435.1 1013.8 L1441 1013.9 L1446.9 1013.9 L1452.7 1014 L1458.6 1014 L1464.5 1014.1 L1470.3 1014.1 L1476.2 1014.1 L1482.1 1014.2 L1487.9 1014.2 L1493.8 1014.2 L1499.6 1014.3 L1505.5 1014.3 L1511.4 1014.3 L1517.2 1014.4 L1523.1 1014.4 L1529 1014.4 L1534.8 1014.4 L1540.7 1014.5 L1546.6 1014.5 L1552.4 1014.5 L1558.3 1014.5 L1564.2 1014.5 L1570 1014.5 L1575.9 1014.6 L1581.7 1014.6 L1587.6 1014.6 L1593.5 1014.6 L1599.3 1014.6 L1605.2 1014.6 L1611 1014.6 L1616.9 1014.6 L1622.8 1014.5 L1628.6 1014.5 L1634.5 1014.5 L1640.4 1014.5 L1646.2 1014.5 L1652.1 1014.5" fill="none" stroke="#0000ff" stroke-width="11.5" stroke-linejoin="round" stroke-linecap="round"/>
<path d="M216 468 L216.3 470.7 L216.5 473.4 L216.8 476 L217 478.6 L217.3 481.2 L217.5 483.8 L217.8 486.3 L218 488.9 L218.3 491.4 L218.5 493.9 L218.8 496.4 L219 498.9 L219.3 501.4 L219.5 503.8 L219.8 506.3 L220.1 508.7 L220.3 511.1 L220.6 513.6 L220.9 516 L221.1 518.4 L221.4 520.8 L221.7 523.2 L222 525.6 L222.3 528 L222.7 530.4 L223 532.8 L223.3 535.2 L223.7 537.7 L224 540.1 L224.4 542.5 L224.8 544.9 L225.2 547.4 L225.6 549.8 L226 552.3 L226.4 554.7 L226.9 557.2 L227.3 559.7 L227.8 562.2 L228.3 564.8 L228.8 567.3 L229.4 569.8 L229.9 572.4 L230.5 575 L231.1 577.5 L231.7 580.1 L232.3 582.7 L233 585.3 L233.6 587.9 L234.3 590.5 L235 593 L235.8 595.6 L236.5 598.2 L237.3 600.8 L238.1 603.3 L239 605.9 L239.9 608.4 L240.7 610.9 L241.7 613.5 L242.6 616 L243.6 618.4 L244.6 620.9 L245.6 623.4 L246.7 625.8 L247.8 628.2 L248.9 630.6 L250.1 632.9 L251.3 635.2 L252.5 637.5 L253.7 639.8 L255 642 L256.4 644.2 L257.7 646.4 L259.1 648.6 L260.6 650.6 L262 652.7 L263.5 654.7 L265.1 656.7 L266.7 658.6 L268.3 660.5 L270 662.3 L271.7 664.1 L273.4 665.8 L275.2 667.5 L277 669.1 L278.9 670.6 L280.8 672.1 L282.7 673.5 L284.7 674.8 L286.7 676 L288.8 677.2 L290.8 678.2 L293 679.2 L295.2 680.1 L297.4 680.8 L299.6 681.5 L301.9 682.1 L304.3 682.6 L306.6 682.9 L309 683.2 L311.4 683.3 L313.8 683.3 L316.2 683.2 L318.6 682.9 L321 682.6 L323.4 682.1 L325.8 681.6 L328.2 680.9 L330.6 680.1 L332.9 679.3 L335.2 678.3 L337.5 677.3 L339.8 676.1 L342.1 674.9 L344.3 673.6 L346.4 672.3 L348.6 670.9 L350.7 669.4 L352.7 667.9 L354.7 666.3 L356.7 664.7 L358.5 663 L360.4 661.3 L362.2 659.5 L363.9 657.7 L365.6 655.9 L367.3 654.1 L369 652.2 L370.6 650.4 L372.2 648.5 L373.9 646.6 L375.5 644.7 L377.1 642.8 L378.7 640.9 L380.3 639 L381.9 637 L383.5 635.1 L385 633.2 L386.6 631.2 L388.2 629.3 L389.7 627.3 L391.3 625.3 L392.8 623.3 L394.3 621.4 L395.9 619.4 L397.4 617.4 L398.9 615.3 L400.4 613.3 L401.9 611.3 L403.4 609.3 L404.9 607.2 L406.3 605.2 L407.8 603.1 L409.3 601.1 L410.7 599 L412.2 596.9 L413.6 594.9 L415.1 592.8 L416.5 590.7 L417.9 588.6 L419.3 586.5 L420.7 584.4 L422.1 582.3 L423.5 580.1 L424.9 578 L426.3 575.9 L427.6 573.7 L429 571.6 L430.3 569.5 L431.7 567.3 L433 565.1 L434.3 563 L435.7 560.8 L437 558.6 L438.3 556.4 L439.6 554.3 L440.9 552.1 L442.2 549.9 L443.4 547.7 L444.7 545.5 L446 543.2 L447.2 541 L448.5 538.8 L449.7 536.6 L450.9 534.4 L452.2 532.1 L453.4 529.9 L454.6 527.6 L455.8 525.4 L457 523.1 L458.2 520.9 L459.3 518.6 L460.5 516.4 L461.7 514.1 L462.8 511.8 L464 509.6 L465.1 507.3 L466.3 505 L467.4 502.7 L468.5 500.4 L469.6 498.1 L470.8 495.9 L471.9 493.6 L473 491.3 L474.1 489 L475.1 486.6 L476.2 484.3 L477.3 482 L478.4 479.7 L479.4 477.4 L480.5 475.1 L481.5 472.8 L482.6 470.4 L483.6 468.1 L484.6 465.8 L485.7 463.5 L486.7 461.1 L487.7 458.8 L488.7 456.5 L489.7 454.1 L490.7 451.8 L491.7 449.4 L492.7 447.1 L493.7 444.7 L494.6 442.4 L495.6 440 L496.6 437.7 L497.5 435.3 L498.5 433 L499.4 430.6 L500.4 428.3 L501.3 425.9 L502.3 423.6 L503.2 421.2 L504.1 418.9 L505.1 416.5 L506 414.1 L506.9 411.8 L507.8 409.4 L508.7 407.1 L509.6 404.7 L510.5 402.3 L511.4 400 L512.3 397.6 L513.2 395.3 L514.1 392.9 L514.9 390.5 L515.8 388.2 L516.7 385.8 L517.6 383.5 L518.5 381.1 L519.3 378.7 L520.2 376.4 L521.1 374 L522 371.7 L522.8 369.3 L523.7 366.9 L524.6 364.6 L525.5 362.2 L526.4 359.9 L527.2 357.5 L528.1 355.2 L529 352.8 L529.9 350.5 L530.8 348.1 L531.7 345.8 L532.6 343.4 L533.5 341.1 L534.4 338.8 L535.3 336.4 L536.3 334.1 L537.2 331.7 L538.1 329.4 L539.1 327.1 L540 324.7 L541 322.4 L541.9 320.1 L542.9 317.8 L543.8 315.4 L544.8 313.1 L545.8 310.8 L546.8 308.5 L547.8 306.2 L548.8 303.9 L549.8 301.6 L550.9 299.3 L551.9 297 L552.9 294.7 L554 292.4 L555.1 290.1 L556.2 287.8 L557.3 285.5 L558.4 283.3 L559.3 283.9 L561.6 278.3 L564 272.8 L566.4 267.4 L568.8 261.9 L571.5 256.5 L574.2 251.1 L577.2 245.9 L580.4 240.9 L583.8 235.8 L587.3 230.9 L591 226 L594.9 221.1 L598.9 216.3 L603.1 211.8 L607.3 207.4 L611.7 203.1 L616.2 198.8 L620.8 194.7 L625.4 190.7 L630.1 186.7 L634.9 183 L639.7 179.2 L644.6 175.6 L649.4 172.1 L654.3 168.6 L659.1 165.2 L664 161.9 L668.8 158.7 L673.5 155.5 L678.2 152.4 L682.7 149.5 L687.2 147.4 L691.5 146.7 L695.6 147.5 L699.4 149.9 L703 153.7 L706.3 158.5 L709.4 163.9 L712.3 169.6 L715 175.7 L717.4 181.9 L719.7 188.1 L721.8 194.4 L723.7 200.5 L725.5 206.6 L727.1 212.7 L728.6 218.6 L730 224.6 L731.2 230.4 L732.4 236.3 L733.5 242.1 L734.5 247.9 L735.4 253.6 L736.3 259.3 L737.2 265 L738 270.7 L738.9 276.5 L739.7 282.2 L740.5 287.9 L741.4 293.6 L742.2 299.3 L743.1 305 L744 310.8 L744.9 316.6 L745.8 322.3 L746.7 328.1 L747.6 333.9 L748.6 339.7 L749.5 345.5 L750.4 351.3 L751.4 357.1 L752.3 362.9 L753.3 368.7 L754.2 374.6 L755.2 380.4 L756.1 386.2 L757.1 392.1 L758 397.9 L758.9 403.8 L759.9 409.7 L760.8 415.5 L761.7 421.4 L762.6 427.3 L763.5 433.2 L764.4 439.1 L765.3 444.9 L766.1 450.8 L767 456.7 L767.8 462.6 L768.6 468.5 L769.4 474.4 L770.2 480.3 L770.9 486.2 L771.7 492.1 L772.4 498 L773.1 503.9 L773.8 509.8 L774.4 515.8 L775 521.7 L775.6 527.6 L776.2 533.5 L776.7 539.4 L777.2 545.3 L777.7 551.2 L778.2 557.1 L778.6 563 L779.1 568.9 L779.5 574.8 L780 580.7 L780.4 586.6 L780.8 592.5 L781.3 598.4 L781.7 604.3 L782.2 610.1 L782.7 616 L783.3 621.9 L783.8 627.8 L784.4 633.7 L785 639.6 L785.7 645.5 L786.3 651.4 L787 657.2 L787.7 663.1 L788.4 669 L789.2 674.9 L789.9 680.8 L790.7 686.6 L791.5 692.5 L792.3 698.4 L793.1 704.3 L793.9 710.1 L794.7 716 L795.6 721.9 L796.4 727.8 L797.2 733.6 L798.1 739.5 L798.9 745.4 L799.7 751.2 L800.5 757.1 L801.3 763 L802.1 768.8 L802.9 774.7 L803.7 780.6 L804.4 786.4 L805.2 792.3 L805.9 798.2 L806.6 804 L807.3 809.9 L808 815.8 L808.8 821.6 L809.5 827.5 L810.2 833.3 L811 839.2 L811.8 845 L812.7 850.9 L813.6 856.7 L814.5 862.6 L815.6 868.4 L816.7 874.2 L817.9 880 L819.1 885.9 L820.5 891.7 L822 897.5 L823.6 903.3 L825.3 909.1 L827.1 914.8 L829.1 920.6 L831.2 926.4 L833.5 932.1 L835.9 937.9 L838.5 943.5 L841.3 949.1 L844.2 954.6 L847.4 959.9 L850.7 965 L854.2 969.8 L858 974.4 L861.9 978.8 L866.1 982.7 L870.6 986.4 L875.2 989.6 L880.1 992.4 L885.2 994.9 L890.5 997.1 L896 998.9 L901.6 1000.5 L907.3 1001.8 L913.1 1003 L918.9 1003.9 L924.8 1004.8 L930.7 1005.5 L936.6 1006.2 L942.5 1006.8 L948.4 1007.3 L954.3 1007.8 L960.2 1008.2 L966.1 1008.5 L972 1008.8 L977.8 1009.1 L983.7 1009.3 L989.6 1009.4 L995.4 1009.6 L1001.3 1009.7 L1007.2 1009.7 L1013 1009.8 L1018.9 1009.8 L1024.7 1009.8 L1030.6 1009.8 L1036.5 1009.8 L1042.3 1009.8 L1048.2 1009.8 L1054 1009.7 L1059.9 1009.7 L1065.7 1009.7 L1071.6 1009.7 L1077.4 1009.7 L1083.3 1009.7 L1089.2 1009.7 L1095 1009.7 L1100.9 1009.7 L1106.7 1009.7 L1112.6 1009.7 L1118.5 1009.7 L1124.3 1009.7 L1130.2 1009.7 L1136 1009.7 L1141.9 1009.7 L1147.8 1009.7 L1153.6 1009.8 L1159.5 1009.8 L1165.3 1009.8 L1171.2 1009.8 L1177.1 1009.9 L1182.9 1009.9 L1188.8 1009.9 L1194.7 1010 L1200.5 1010 L1206.4 1010 L1212.2 1010.1 L1218.1 1010.1 L1224 1010.1 L1229.8 1010.2 L1235.7 1010.2 L1241.6 1010.3 L1247.4 1010.3 L1253.3 1010.3 L1259.2 1010.4 L1265 1010.4 L1270.9 1010.5 L1276.8 1010.5 L1282.6 1010.6 L1288.5 1010.6 L1294.3 1010.7 L1300.2 1010.7 L1306.1 1010.8 L1311.9 1010.8 L1317.8 1010.9 L1323.7 1010.9 L1329.5 1011 L1335.4 1011 L1341.3 1011.1 L1347.1 1011.1 L1353 1011.2 L1358.9 1011.2 L1364.7 1011.3 L1370.6 1011.3 L1376.5 1011.4 L1382.3 1011.4 L1388.2 1011.5 L1394.1 1011.5 L1399.9 1011.6 L1405.8 1011.6 L1411.7 1011.7 L1417.5 1011.7 L1423.4 1011.8 L1429.3 1011.8 L1435.1 1011.9 L1441 1011.9 L1446.9 1012 L1452.7 1012 L1458.6 1012 L1464.5 1012.1 L1470.3 1012.1 L1476.2 1012.2 L1482.1 1012.2 L1487.9 1012.2 L1493.8 1012.3 L1499.6 1012.3 L1505.5 1012.3 L1511.4 1012.4 L1517.2 1012.4 L1523.1 1012.4 L1529 1012.4 L1534.8 1012.5 L1540.7 1012.5 L1546.6 1012.5 L1552.4 1012.5 L1558.3 1012.5 L1564.2 1012.6 L1570 1012.6 L1575.9 1012.6 L1581.7 1012.6 L1587.6 1012.6 L1593.5 1012.6 L1599.3 1012.6 L1605.2 1012.6 L1611 1012.6 L1616.9 1012.6 L1622.8 1012.6 L1628.6 1012.6 L1634.5 1012.5 L1640.4 1012.5 L1646.2 1012.5 L1652.1 1012.5" fill="none" stroke="#00ffff" stroke-width="11.5" stroke-linejoin="round" stroke-linecap="round"/>
<path d="M216.1 350.4 L216.3 353.3 L216.4 356.2 L216.6 359.1 L216.8 362 L217 364.9 L217.2 367.8 L217.4 370.7 L217.6 373.6 L217.9 376.5 L218.1 379.4 L218.4 382.4 L218.7 385.3 L218.9 388.2 L219.2 391.1 L219.6 394 L219.9 396.9 L220.2 399.8 L220.5 402.8 L220.9 405.7 L221.3 408.6 L221.6 411.5 L222 414.4 L222.4 417.4 L222.8 420.3 L223.2 423.2 L223.7 426.1 L224.1 429 L224.5 432 L225 434.9 L225.4 437.8 L225.9 440.7 L226.4 443.6 L226.9 446.5 L227.4 449.4 L227.9 452.4 L228.4 455.3 L228.9 458.2 L229.5 461.1 L230 464 L230.6 466.9 L231.1 469.8 L231.7 472.7 L232.3 475.6 L232.8 478.5 L233.4 481.4 L234 484.3 L234.6 487.1 L235.2 490 L235.9 492.9 L236.5 495.8 L237.1 498.7 L237.8 501.5 L238.4 504.4 L239.1 507.3 L239.7 510.1 L240.4 513 L241.1 515.8 L241.8 518.7 L242.5 521.5 L243.2 524.4 L243.9 527.2 L244.6 530 L245.3 532.9 L246 535.7 L246.7 538.5 L247.5 541.3 L248.2 544.1 L248.9 547 L249.7 549.8 L250.4 552.6 L251.2 555.3 L252 558.1 L252.7 560.9 L253.5 563.7 L254.3 566.5 L255.1 569.2 L255.9 572 L256.7 574.7 L257.6 577.4 L258.4 580.2 L259.4 582.9 L260.3 585.6 L261.3 588.3 L262.3 591 L263.3 593.6 L264.4 596.3 L265.6 598.9 L266.8 601.5 L268 604.2 L269.3 606.7 L270.7 609.3 L272.1 611.9 L273.6 614.4 L275.1 616.9 L276.8 619.4 L278.5 621.9 L280.3 624.4 L282.2 626.8 L284.1 629.2 L286.2 631.6 L288.3 633.9 L290.5 636.2 L292.8 638.5 L295.2 640.6 L297.6 642.6 L300.1 644.5 L302.6 646.2 L305.2 647.8 L307.9 649.1 L310.5 650.3 L313.2 651.2 L315.9 652 L318.7 652.5 L321.4 652.9 L324.2 653.1 L327 653.1 L329.7 653 L332.4 652.7 L335.2 652.3 L337.9 651.7 L340.5 651.1 L343.2 650.3 L345.8 649.3 L348.3 648.3 L350.8 647.2 L353.3 646 L355.7 644.7 L358 643.3 L360.4 641.9 L362.7 640.3 L364.9 638.7 L367.1 637 L369.3 635.2 L371.4 633.4 L373.5 631.5 L375.6 629.6 L377.6 627.5 L379.7 625.5 L381.6 623.4 L383.6 621.2 L385.6 619.1 L387.5 616.8 L389.4 614.6 L391.3 612.3 L393.1 610 L395 607.6 L396.8 605.3 L398.6 602.9 L400.5 600.5 L402.3 598.2 L404.1 595.8 L405.8 593.4 L407.6 591 L409.4 588.5 L411.2 586.1 L412.9 583.7 L414.6 581.3 L416.4 578.8 L418.1 576.4 L419.8 573.9 L421.5 571.4 L423.2 569 L424.9 566.5 L426.6 564 L428.2 561.5 L429.9 559 L431.5 556.6 L433.2 554 L434.8 551.5 L436.4 549 L438 546.5 L439.6 544 L441.1 541.4 L442.7 538.9 L444.3 536.4 L445.8 533.8 L447.3 531.3 L448.9 528.7 L450.4 526.1 L451.9 523.6 L453.4 521 L454.8 518.4 L456.3 515.9 L457.7 513.3 L459.2 510.7 L460.6 508.1 L462 505.5 L463.4 502.9 L464.8 500.3 L466.2 497.7 L467.5 495.1 L468.9 492.4 L470.2 489.8 L471.6 487.2 L472.9 484.6 L474.2 481.9 L475.5 479.3 L476.7 476.7 L478 474 L479.2 471.4 L480.5 468.7 L481.7 466.1 L482.9 463.4 L484.1 460.8 L485.3 458.1 L486.4 455.5 L487.6 452.8 L488.7 450.2 L489.8 447.5 L490.9 444.8 L492 442.1 L493.1 439.5 L494.2 436.8 L495.3 434.1 L496.3 431.4 L497.4 428.8 L498.5 426.1 L499.5 423.4 L500.5 420.7 L501.6 418 L502.6 415.4 L503.6 412.7 L504.7 410 L505.7 407.3 L506.7 404.6 L507.7 401.9 L508.8 399.2 L509.8 396.5 L510.8 393.8 L511.8 391.2 L512.9 388.5 L513.9 385.8 L514.9 383.1 L516 380.4 L517 377.7 L518.1 375 L519.1 372.3 L520.2 369.6 L521.3 366.9 L522.4 364.2 L523.5 361.5 L524.6 358.9 L525.7 356.2 L526.8 353.5 L528 350.8 L529.1 348.1 L530.3 345.4 L531.5 342.7 L532.7 340.1 L533.9 337.4 L535.1 334.7 L536.4 332 L537.6 329.4 L538.9 326.7 L540.2 324 L541.5 321.3 L542.9 318.7 L544.2 316 L545.6 313.3 L546.9 310.7 L548.2 308 L549.6 305.4 L550.9 302.7 L552.1 300.1 L553.4 297.5 L554.6 294.9 L555.8 292.2 L557 289.6 L558.2 287 L559.3 284.4 L560.5 281.9 L561.6 279.3 L562.8 276.7 L564 274.2 L565.2 271.6 L566.4 269.1 L567.6 266.6 L568.8 264.1 L570.1 261.6 L571.5 259.1 L572.8 256.7 L574.2 254.2 L575.7 251.8 L577.2 249.3 L578.8 246.9 L580.4 244.6 L582.1 242.2 L583.8 239.8 L585.5 237.5 L587.3 235.2 L589.2 232.9 L591 230.6 L593 228.3 L594.9 226.1 L596.9 223.9 L598.9 221.7 L601 219.5 L603.1 217.3 L605.2 215.2 L607.3 213.1 L609.5 211 L611.7 208.9 L613.9 206.9 L616.2 204.9 L618.5 202.9 L620.8 200.9 L623.1 199 L625.4 197.1 L627.8 195.2 L630.1 193.3 L632.5 191.5 L634.9 189.6 L637.3 187.8 L639.7 186.1 L642.2 184.3 L644.6 182.6 L647 180.8 L649.4 179.2 L651.9 177.5 L654.3 175.8 L656.7 174.2 L659.1 172.5 L661.6 170.9 L664 169.3 L666.4 167.8 L668.8 166.2 L671.1 164.7 L673.5 163.1 L675.8 161.6 L678.2 160.1 L680.5 158.7 L682.7 157.4 L685 156.2 L687.2 155.3 L689.4 154.8 L691.5 154.6 L693.6 154.9 L695.6 155.5 L697.5 156.5 L699.4 157.9 L701.3 159.6 L703 161.6 L704.7 163.9 L706.3 166.4 L707.9 169 L709.4 171.7 L710.9 174.5 L712.3 177.4 L713.7 180.4 L715 183.4 L716.2 186.4 L717.4 189.5 L718.6 192.6 L719.7 195.7 L720.8 198.8 L721.8 201.9 L722.8 205 L723.7 208 L724.6 211 L725.5 214 L726.3 217 L727.1 220 L727.9 223 L728.6 225.9 L729.3 228.9 L730 231.8 L730.6 234.7 L731.2 237.6 L731.8 240.5 L732.4 243.4 L732.9 246.3 L733.5 249.2 L734 252 L734.5 254.9 L735 257.7 L735.4 260.6 L735.9 263.4 L736.3 266.3 L736.8 269.1 L737.2 271.9 L737.6 274.8 L738 277.6 L738.5 280.4 L738.9 283.2 L739.3 286.1 L739.7 288.9 L740.1 291.7 L740.5 294.5 L740.9 297.4 L741.4 300.2 L741.8 303 L742.2 305.9 L742.7 308.7 L743.1 311.6 L743.5 314.4 L744 317.3 L744.4 320.1 L744.9 323 L745.3 325.8 L745.8 328.7 L746.2 331.5 L746.7 334.4 L747.2 337.3 L747.6 340.1 L748.1 343 L748.6 345.9 L749 348.7 L749.5 351.6 L750 354.5 L750.4 357.4 L750.9 360.2 L751.4 363.1 L751.8 366 L752.3 368.9 L752.8 371.8 L753.3 374.7 L753.7 377.5 L754.2 380.4 L754.7 383.3 L755.2 386.2 L755.6 389.1 L756.1 392 L756.6 394.9 L757.1 397.8 L757.5 400.7 L758 403.6 L758.5 406.5 L758.9 409.4 L759.4 412.3 L759.9 415.2 L760.3 418.1 L760.8 421 L761.2 423.9 L761.7 426.9 L762.2 429.8 L762.6 432.7 L763.1 435.6 L763.5 438.5 L763.9 441.4 L764.4 444.3 L764.8 447.2 L765.3 450.2 L765.7 453.1 L766.1 456 L766.5 458.9 L767 461.8 L767.4 464.8 L767.8 467.7 L768.2 470.6 L768.6 473.5 L769 476.4 L769.4 479.4 L769.8 482.3 L770.2 485.2 L770.6 488.1 L770.9 491.1 L771.3 494 L771.7 496.9 L772 499.8 L772.4 502.8 L772.7 505.7 L773.1 508.6 L773.4 511.5 L773.8 514.5 L774.1 517.4 L774.4 520.3 L774.7 523.2 L775 526.2 L775.3 529.1 L775.6 532 L775.9 534.9 L776.2 537.9 L776.5 540.8 L776.7 543.7 L777 546.6 L777.2 549.6 L777.5 552.5 L777.7 555.4 L778 558.3 L778.2 561.3 L778.4 564.2 L778.6 567.1 L778.9 570 L779.1 572.9 L779.3 575.9 L779.5 578.8 L779.7 581.7 L780 584.6 L780.2 587.6 L780.4 590.5 L780.6 593.4 L780.8 596.3 L781.1 599.2 L781.3 602.1 L781.5 605.1 L781.7 608 L782 610.9 L782.2 613.8 L782.5 616.7 L782.7 619.7 L783 622.6 L783.3 625.5 L783.5 628.4 L783.8 631.3 L784.1 634.2 L784.4 637.1 L784.7 640.1 L785 643 L785.3 645.9 L785.7 648.8 L786 651.7 L786.3 654.6 L786.7 657.5 L787 660.5 L787.4 663.4 L787.7 666.3 L788.1 669.2 L788.4 672.1 L788.8 675 L789.2 677.9 L789.6 680.8 L789.9 683.7 L790.3 686.6 L790.7 689.6 L791.1 692.5 L791.5 695.4 L791.9 698.3 L792.3 701.2 L792.7 704.1 L793.1 707 L793.5 709.9 L793.9 712.8 L794.3 715.7 L794.7 718.6 L795.2 721.5 L795.6 724.4 L796 727.3 L796.4 730.2 L796.8 733.1 L797.2 736 L797.6 739 L798.1 741.9 L798.5 744.8 L798.9 747.7 L799.3 750.6 L799.7 753.5 L800.1 756.4 L800.5 759.3 L800.9 762.2 L801.3 765.1 L801.7 768 L802.1 770.9 L802.5 773.8 L802.9 776.6 L803.3 779.5 L803.7 782.4 L804.1 785.3 L804.4 788.2 L804.8 791.1 L805.2 794 L805.6 796.9 L805.9 799.8 L806.3 802.7 L806.6 805.6 L807 808.5 L807.3 811.4 L807.7 814.3 L808 817.2 L808.4 820.1 L808.8 822.9 L809.1 825.8 L809.5 828.7 L809.8 831.6 L810.2 834.5 L810.6 837.4 L811 840.3 L811.4 843.1 L811.8 846 L812.2 848.9 L812.7 851.8 L813.1 854.6 L813.6 857.5 L814 860.4 L814.5 863.3 L815 866.1 L815.6 869 L816.1 871.9 L816.7 874.7 L817.3 877.6 L817.9 880.4 L818.5 883.3 L819.1 886.2 L819.8 889 L820.5 891.9 L821.2 894.7 L822 897.6 L822.8 900.4 L823.6 903.2 L824.4 906.1 L825.3 908.9 L826.2 911.7 L827.1 914.6 L828.1 917.4 L829.1 920.2 L830.2 923.1 L831.2 925.9 L832.3 928.7 L833.5 931.5 L834.7 934.3 L835.9 937.1 L837.2 939.9 L838.5 942.6 L839.9 945.4 L841.3 948.1 L842.7 950.7 L844.2 953.4 L845.8 956 L847.4 958.5 L849 961 L850.7 963.5 L852.4 965.9 L854.2 968.2 L856.1 970.5 L858 972.7 L859.9 974.8 L861.9 976.9 L864 978.9 L866.1 980.8 L868.3 982.6 L870.6 984.3 L872.9 985.9 L875.2 987.4 L877.6 988.8 L880.1 990.2 L882.6 991.4 L885.2 992.6 L887.9 993.6 L890.5 994.6 L893.2 995.5 L896 996.4 L898.8 997.2 L901.6 997.9 L904.4 998.6 L907.3 999.2 L910.2 999.8 L913.1 1000.3 L916 1000.8 L918.9 1001.3 L921.9 1001.7 L924.8 1002.1 L927.8 1002.4 L930.7 1002.8 L933.7 1003.1 L936.6 1003.4 L939.6 1003.7 L942.5 1004 L945.5 1004.3 L948.4 1004.5 L951.4 1004.7 L954.3 1005 L957.3 1005.2 L960.2 1005.3 L963.1 1005.5 L966.1 1005.7 L969 1005.8 L972 1006 L974.9 1006.1 L977.8 1006.2 L980.8 1006.3 L983.7 1006.4 L986.6 1006.5 L989.6 1006.6 L992.5 1006.6 L995.4 1006.7 L998.4 1006.8 L1001.3 1006.8 L1004.2 1006.8 L1007.2 1006.9 L1010.1 1006.9 L1013 1006.9 L1016 1006.9 L1018.9 1006.9 L1021.8 1006.9 L1024.7 1006.9 L1027.7 1006.9 L1030.6 1006.9 L1033.5 1006.9 L1036.5 1006.9 L1039.4 1006.9 L1042.3 1006.9 L1045.2 1006.9 L1048.2 1006.9 L1051.1 1006.9 L1054 1006.9 L1056.9 1006.9 L1059.9 1006.9 L1062.8 1006.8 L1065.7 1006.8 L1068.7 1006.8 L1071.6 1006.8 L1074.5 1006.8 L1077.4 1006.8 L1080.4 1006.8 L1083.3 1006.8 L1086.2 1006.8 L1089.2 1006.8 L1092.1 1006.8 L1095 1006.8 L1097.9 1006.8 L1100.9 1006.8 L1103.8 1006.8 L1106.7 1006.8 L1109.7 1006.8 L1112.6 1006.8 L1115.5 1006.8 L1118.5 1006.8 L1121.4 1006.8 L1124.3 1006.8 L1127.2 1006.8 L1130.2 1006.8 L1133.1 1006.8 L1136 1006.9 L1139 1006.9 L1141.9 1006.9 L1144.8 1006.9 L1147.8 1006.9 L1150.7 1006.9 L1153.6 1006.9 L1156.5 1006.9 L1159.5 1006.9 L1162.4 1006.9 L1165.3 1006.9 L1168.3 1007 L1171.2 1007 L1174.1 1007 L1177.1 1007 L1180 1007 L1182.9 1007 L1185.9 1007 L1188.8 1007.1 L1191.7 1007.1 L1194.7 1007.1 L1197.6 1007.1 L1200.5 1007.1 L1203.4 1007.1 L1206.4 1007.1 L1209.3 1007.2 L1212.2 1007.2 L1215.2 1007.2 L1218.1 1007.2 L1221 1007.2 L1224 1007.3 L1226.9 1007.3 L1229.8 1007.3 L1232.8 1007.3 L1235.7 1007.3 L1238.6 1007.4 L1241.6 1007.4 L1244.5 1007.4 L1247.4 1007.4 L1250.4 1007.4 L1253.3 1007.5 L1256.2 1007.5 L1259.2 1007.5 L1262.1 1007.5 L1265 1007.5 L1268 1007.6 L1270.9 1007.6 L1273.8 1007.6 L1276.8 1007.6 L1279.7 1007.7 L1282.6 1007.7 L1285.5 1007.7 L1288.5 1007.7 L1291.4 1007.8 L1294.3 1007.8 L1297.3 1007.8 L1300.2 1007.8 L1303.1 1007.8 L1306.1 1007.9 L1309 1007.9 L1311.9 1007.9 L1314.9 1007.9 L1317.8 1008 L1320.7 1008 L1323.7 1008 L1326.6 1008 L1329.5 1008.1 L1332.5 1008.1 L1335.4 1008.1 L1338.3 1008.1 L1341.3 1008.2 L1344.2 1008.2 L1347.1 1008.2 L1350.1 1008.2 L1353 1008.3 L1355.9 1008.3 L1358.9 1008.3 L1361.8 1008.3 L1364.7 1008.4 L1367.7 1008.4 L1370.6 1008.4 L1373.5 1008.4 L1376.5 1008.5 L1379.4 1008.5 L1382.3 1008.5 L1385.3 1008.5 L1388.2 1008.6 L1391.1 1008.6 L1394.1 1008.6 L1397 1008.6 L1399.9 1008.7 L1402.9 1008.7 L1405.8 1008.7 L1408.7 1008.7 L1411.7 1008.8 L1414.6 1008.8 L1417.5 1008.8 L1420.5 1008.8 L1423.4 1008.8 L1426.3 1008.9 L1429.3 1008.9 L1432.2 1008.9 L1435.1 1008.9 L1438.1 1009 L1441 1009 L1443.9 1009 L1446.9 1009 L1449.8 1009 L1452.7 1009.1 L1455.7 1009.1 L1458.6 1009.1 L1461.5 1009.1 L1464.5 1009.1 L1467.4 1009.2 L1470.3 1009.2 L1473.3 1009.2 L1476.2 1009.2 L1479.1 1009.2 L1482.1 1009.2 L1485 1009.3 L1487.9 1009.3 L1490.9 1009.3 L1493.8 1009.3 L1496.7 1009.3 L1499.6 1009.3 L1502.6 1009.4 L1505.5 1009.4 L1508.4 1009.4 L1511.4 1009.4 L1514.3 1009.4 L1517.2 1009.4 L1520.2 1009.4 L1523.1 1009.5 L1526 1009.5 L1529 1009.5 L1531.9 1009.5 L1534.8 1009.5 L1537.8 1009.5 L1540.7 1009.5 L1543.6 1009.5 L1546.6 1009.5 L1549.5 1009.6 L1552.4 1009.6 L1555.4 1009.6 L1558.3 1009.6 L1561.2 1009.6 L1564.2 1009.6 L1567.1 1009.6 L1570 1009.6 L1572.9 1009.6 L1575.9 1009.6 L1578.8 1009.6 L1581.7 1009.6 L1584.7 1009.6 L1587.6 1009.6 L1590.5 1009.6 L1593.5 1009.6 L1596.4 1009.6 L1599.3 1009.6 L1602.3 1009.6 L1605.2 1009.6 L1608.1 1009.6 L1611 1009.6 L1614 1009.6 L1616.9 1009.6 L1619.8 1009.6 L1622.8 1009.6 L1625.7 1009.6 L1628.6 1009.6 L1631.6 1009.6 L1634.5 1009.6 L1637.4 1009.6 L1640.4 1009.6 L1643.3 1009.5 L1646.2 1009.5 L1649.1 1009.5 L1652.1 1009.5 L1655 1009.5" fill="none" stroke="#880088" stroke-width="11.5" stroke-linejoin="round" stroke-linecap="round"/>
<path d="M221 922 L222.2 923.2 L223.5 924.5 L224.7 925.7 L225.9 927 L227.1 928.2 L228.4 929.5 L229.6 930.7 L231 932 L232.6 933.5 L234.2 935 L235.8 936.5 L237.5 938 L239.3 939.5 L241.1 941 L243 942.5 L245 944 L247.6 945.8 L250.3 947.6 L253.1 949.4 L256.1 951.2 L259.1 953 L262.1 954.7 L265.1 956.4 L268 958 L270.7 959.5 L273.5 961 L276.2 962.4 L278.9 963.8 L281.7 965.1 L284.4 966.4 L287.2 967.7 L290 969 L292.8 970.2 L295.7 971.5 L298.5 972.7 L301.4 973.8 L304.3 974.9 L307.2 976 L310.1 977 L313 978 L316 978.9 L318.9 979.7 L321.9 980.5 L324.9 981.3 L327.9 982 L331 982.7 L334 983.3 L337 984 L339.9 984.7 L342.8 985.3 L345.6 985.9 L348.4 986.5 L351.3 987.1 L354.4 987.7 L357.6 988.3 L361 988.8 L366.5 989.6 L372.4 990.3 L378.8 991 L385.4 991.6 L392.1 992.3 L398.9 992.9 L405.5 993.4 L412 994 L418.2 994.5 L424.3 995 L430.4 995.5 L436.5 995.9 L442.6 996.3 L448.7 996.7 L454.8 997.1 L461 997.5 L467.3 997.9 L473.7 998.2 L480.1 998.5 L486.5 998.8 L492.9 999.1 L499.3 999.4 L505.6 999.7 L512 1000 L518.3 1000.3 L524.5 1000.5 L530.8 1000.8 L537 1001.1 L543.3 1001.3 L549.5 1001.5 L555.8 1001.8 L562 1002 L568.3 1002.2 L574.5 1002.4 L580.8 1002.6 L587 1002.8 L593.3 1003 L599.5 1003.2 L605.8 1003.3 L612 1003.5 L618 1003.6 L623.9 1003.8 L629.7 1003.9 L635.5 1004 L641.4 1004.2 L647.6 1004.3 L654.1 1004.4 L661 1004.5 L671.6 1004.6 L682.9 1004.8 L694.8 1004.9 L707.3 1005 L720.1 1005.2 L733.2 1005.3 L746.6 1005.4 L760 1005.5 L776.2 1005.6 L792.7 1005.8 L809.6 1005.9 L826.9 1006 L844.6 1006.1 L862.7 1006.3 L881.1 1006.4 L900 1006.5 L922.6 1006.6 L945.2 1006.8 L968 1006.9 L991.5 1007 L1016.1 1007.2 L1042.1 1007.3 L1070 1007.4 L1100 1007.5 L1156.1 1007.6 L1219.3 1007.7 L1287.8 1007.8 L1360.2 1007.8 L1434.7 1007.9 L1509.8 1007.9 L1583.7 1007.9 L1655 1008" fill="none" stroke="#808080" stroke-width="10.5" stroke-linejoin="round" stroke-linecap="round" stroke-dasharray="14.5 35.5"/>
</g>
<g clip-path="url(#clipB)">
<path d="M235.8 2058.1 L237.8 2056.6 L239.8 2054.9 L241.8 2053.2 L243.8 2051.3 L245.8 2049.3 L247.8 2047.1 L249.8 2044.8 L251.8 2042.4 L253.8 2039.8 L255.8 2037 L257.8 2034 L259.8 2030.9 L261.8 2027.5 L263.8 2023.9 L265.8 2020.1 L267.8 2016.1 L269.8 2011.8 L271.8 2007.3 L273.8 2002.4 L275.8 1997.3 L277.8 1992 L279.8 1986.3 L281.8 1980.2 L283.8 1973.9 L285.8 1967.2 L287.8 1960.2 L289.8 1952.8 L291.8 1945 L293.8 1936.9 L295.8 1928.3 L297.8 1919.4 L299.8 1910.1 L301.8 1900.3 L303.8 1890.2 L305.8 1879.6 L307.8 1868.6 L309.8 1857.2 L311.8 1845.4 L313.8 1833.2 L315.8 1820.6 L317.8 1807.5 L319.8 1794.1 L321.8 1780.3 L323.8 1766.2 L325.8 1751.7 L327.8 1736.9 L329.8 1721.7 L331.8 1706.3 L333.8 1690.6 L335.8 1674.6 L337.8 1658.5 L339.8 1642.1 L341.8 1625.6 L343.8 1609 L345.8 1592.2 L347.8 1575.4 L349.8 1558.6 L351.8 1541.8 L353.8 1525 L355.8 1508.2 L357.8 1491.6 L359.8 1475.2 L361.8 1458.9 L363.8 1442.8 L365.8 1426.9 L367.8 1411.3 L369.8 1396 L371.8 1381.1 L373.8 1366.5 L375.8 1352.3 L377.8 1338.5 L379.8 1325.1 L381.8 1312.2 L383.8 1299.7 L385.8 1287.7 L387.8 1276.3 L389.8 1265.3 L391.8 1254.9 L393.8 1245 L395.8 1235.6 L397.8 1226.8 L399.8 1218.5 L401.8 1210.8 L403.8 1203.7 L405.8 1197.1 L407.8 1191 L409.8 1185.6 L411.8 1180.6 L413.8 1176.2 L415.8 1172.4 L417.8 1169.1 L419.8 1166.3 L421.8 1164.1 L423.8 1162.3 L425.8 1161.1 L427.8 1160.3 L429.8 1160.1 L431.8 1160.3 L433.8 1161 L435.8 1162.2 L437.8 1163.8 L439.8 1165.8 L441.8 1168.3 L443.8 1171.2 L445.8 1174.5 L447.8 1178.1 L449.8 1182.2 L451.8 1186.6 L453.8 1191.3 L455.8 1196.3 L457.8 1201.7 L459.8 1207.4 L461.8 1213.3 L463.8 1219.5 L465.8 1225.9 L467.8 1232.6 L469.8 1239.4 L471.8 1246.5 L473.8 1253.7 L475.8 1261 L477.8 1268.5 L479.8 1276.1 L481.8 1283.8 L483.8 1291.5 L485.8 1299.3 L487.8 1307.1 L489.8 1314.9 L491.8 1322.6 L493.8 1330.4 L495.8 1338.1 L497.8 1345.7 L499.8 1353.2 L501.8 1360.6 L503.8 1367.9 L505.8 1375.1 L507.8 1382 L509.8 1388.9 L511.8 1395.5 L513.8 1401.9 L515.8 1408.1 L517.8 1414.1 L519.8 1419.9 L521.8 1425.4 L523.8 1430.7 L525.8 1435.7 L527.8 1440.5 L529.8 1445 L531.8 1449.2 L533.8 1453.2 L535.8 1456.8 L537.8 1460.2 L539.8 1463.4 L541.8 1466.2 L543.8 1468.8 L545.8 1471.2 L547.8 1473.2 L549.8 1475 L551.8 1476.6 L553.8 1477.9 L555.8 1479 L557.8 1479.8 L559.8 1480.4 L561.8 1480.8 L563.8 1481 L565.8 1481 L567.8 1480.8 L569.8 1480.5 L571.8 1479.9 L573.8 1479.3 L575.8 1478.4 L577.8 1477.5 L579.8 1476.4 L581.8 1475.3 L583.8 1474 L585.8 1472.6 L587.8 1471.2 L589.8 1469.7 L591.8 1468.2 L593.8 1466.6 L595.8 1465 L597.8 1463.4 L599.8 1461.8 L601.8 1460.2 L603.8 1458.6 L605.8 1457.1 L607.8 1455.6 L609.8 1454.1 L611.8 1452.7 L613.8 1451.3 L615.8 1450.1 L617.8 1448.9 L619.8 1447.8 L621.8 1446.8 L623.8 1445.9 L625.8 1445.1 L627.8 1444.5 L629.8 1443.9 L631.8 1443.5 L633.8 1443.3 L635.8 1443.1 L637.8 1443.1 L639.8 1443.3 L641.8 1443.6 L643.8 1444.1 L645.8 1444.7 L647.8 1445.4 L649.8 1446.4 L651.8 1447.5 L653.8 1448.7 L655.8 1450.1 L657.8 1451.7 L659.8 1453.4 L661.8 1455.3 L663.8 1457.4 L665.8 1459.6 L667.8 1462 L669.8 1464.5 L671.8 1467.2 L673.8 1470 L675.8 1473 L677.8 1476.1 L679.8 1479.3 L681.8 1482.7 L683.8 1486.3 L685.8 1489.9 L687.8 1493.7 L689.8 1497.6 L691.8 1501.6 L693.8 1505.8 L695.8 1510 L697.8 1514.4 L699.8 1518.8 L701.8 1523.4 L703.8 1528 L705.8 1532.7 L707.8 1537.5 L709.8 1542.4 L711.8 1547.3 L713.8 1552.3 L715.8 1557.3 L717.8 1562.4 L719.8 1567.6 L721.8 1572.7 L723.8 1577.9 L725.8 1583.2 L727.8 1588.5 L729.8 1593.7 L731.8 1599 L733.8 1604.3 L735.8 1609.6 L737.8 1614.9 L739.8 1620.2 L741.8 1625.5 L743.8 1630.8 L745.8 1636 L747.8 1641.2 L749.8 1646.4 L751.8 1651.5 L753.8 1656.6 L755.8 1661.7 L757.8 1666.7 L759.8 1671.7 L761.8 1676.6 L763.8 1681.4 L765.8 1686.2 L767.8 1690.9 L769.8 1695.5 L771.8 1700.1 L773.8 1704.6 L775.8 1709.1 L777.8 1713.4 L779.8 1717.7 L781.8 1721.9 L783.8 1726 L785.8 1730 L787.8 1733.9 L789.8 1737.8 L791.8 1741.5 L793.8 1745.2 L795.8 1748.8 L797.8 1752.3 L799.8 1755.7 L801.8 1759 L803.8 1762.2 L805.8 1765.3 L807.8 1768.4 L809.8 1771.3 L811.8 1774.2 L813.8 1776.9 L815.8 1779.6 L817.8 1782.2 L819.8 1784.7 L821.8 1787.2 L823.8 1789.5 L825.8 1791.8 L827.8 1794 L829.8 1796.1 L831.8 1798.1 L833.8 1800.1 L835.8 1801.9 L837.8 1803.8 L839.8 1805.5 L841.8 1807.2 L843.8 1808.8 L845.8 1810.4 L847.8 1811.9 L849.8 1813.3 L851.8 1814.7 L853.8 1816.1 L855.8 1817.3 L857.8 1818.6 L859.8 1819.8 L861.8 1821 L863.8 1822.1 L865.8 1823.2 L867.8 1824.2 L869.8 1825.3 L871.8 1826.3 L873.8 1827.2 L875.8 1828.2 L877.8 1829.1 L879.8 1830 L881.8 1830.9 L883.8 1831.8 L885.8 1832.6 L887.8 1833.5 L889.8 1834.4 L891.8 1835.2 L893.8 1836 L895.8 1836.9 L897.8 1837.7 L899.8 1838.6 L901.8 1839.4 L903.8 1840.3 L905.8 1841.1 L907.8 1842 L909.8 1842.9 L911.8 1843.8 L913.8 1844.7 L915.8 1845.6 L917.8 1846.6 L919.8 1847.5 L921.8 1848.5 L923.8 1849.5 L925.8 1850.5 L927.8 1851.6 L929.8 1852.6 L931.8 1853.7 L933.8 1854.8 L935.8 1855.9 L937.8 1857.1 L939.8 1858.2 L941.8 1859.4 L943.8 1860.7 L945.8 1861.9 L947.8 1863.2 L949.8 1864.4 L951.8 1865.8 L953.8 1867.1 L955.8 1868.5 L957.8 1869.8 L959.8 1871.2 L961.8 1872.7 L963.8 1874.1 L965.8 1875.6 L967.8 1877.1 L969.8 1878.6 L971.8 1880.1 L973.8 1881.6 L975.8 1883.2 L977.8 1884.8 L979.8 1886.4 L981.8 1888 L983.8 1889.6 L985.8 1891.2 L987.8 1892.9 L989.8 1894.5 L991.8 1896.2 L993.8 1897.9 L995.8 1899.6 L997.8 1901.3 L999.8 1902.9 L1001.8 1904.7 L1003.8 1906.4 L1005.8 1908.1 L1007.8 1909.8 L1009.8 1911.5 L1011.8 1913.2 L1013.8 1914.9 L1015.8 1916.6 L1017.8 1918.3 L1019.8 1920.1 L1021.8 1921.8 L1023.8 1923.5 L1025.8 1925.1 L1027.8 1926.8 L1029.8 1928.5 L1031.8 1930.2 L1033.8 1931.8 L1035.8 1933.5 L1037.8 1935.1 L1039.8 1936.8 L1041.8 1938.4 L1043.8 1940 L1045.8 1941.6 L1047.8 1943.1 L1049.8 1944.7 L1051.8 1946.2 L1053.8 1947.8 L1055.8 1949.3 L1057.8 1950.8 L1059.8 1952.3 L1061.8 1953.7 L1063.8 1955.2 L1065.8 1956.6 L1067.8 1958 L1069.8 1959.4 L1071.8 1960.8 L1073.8 1962.2 L1075.8 1963.5 L1077.8 1964.8 L1079.8 1966.1 L1081.8 1967.4 L1083.8 1968.7 L1085.8 1969.9 L1087.8 1971.1 L1089.8 1972.3 L1091.8 1973.5 L1093.8 1974.7 L1095.8 1975.9 L1097.8 1977 L1099.8 1978.1 L1101.8 1979.2 L1103.8 1980.3 L1105.8 1981.3 L1107.8 1982.4 L1109.8 1983.4 L1111.8 1984.4 L1113.8 1985.4 L1115.8 1986.4 L1117.8 1987.3 L1119.8 1988.3 L1121.8 1989.2 L1123.8 1990.1 L1125.8 1991 L1127.8 1991.9 L1129.8 1992.7 L1131.8 1993.6 L1133.8 1994.4 L1135.8 1995.2 L1137.8 1996 L1139.8 1996.8 L1141.8 1997.6 L1143.8 1998.4 L1145.8 1999.1 L1147.8 1999.9 L1149.8 2000.6 L1151.8 2001.3 L1153.8 2002 L1155.8 2002.7 L1157.8 2003.4 L1159.8 2004.1 L1161.8 2004.7 L1163.8 2005.4 L1165.8 2006 L1167.8 2006.7 L1169.8 2007.3 L1171.8 2007.9 L1173.8 2008.5 L1175.8 2009.1 L1177.8 2009.7 L1179.8 2010.3 L1181.8 2010.9 L1183.8 2011.4 L1185.8 2012 L1187.8 2012.6 L1189.8 2013.1 L1191.8 2013.7 L1193.8 2014.2 L1195.8 2014.7 L1197.8 2015.3 L1199.8 2015.8 L1201.8 2016.3 L1203.8 2016.8 L1205.8 2017.3 L1207.8 2017.8 L1209.8 2018.3 L1211.8 2018.8 L1213.8 2019.3 L1215.8 2019.8 L1217.8 2020.3 L1219.8 2020.8 L1221.8 2021.3 L1223.8 2021.7 L1225.8 2022.2 L1227.8 2022.7 L1229.8 2023.1 L1231.8 2023.6 L1233.8 2024 L1235.8 2024.5 L1237.8 2025 L1239.8 2025.4 L1241.8 2025.8 L1243.8 2026.3 L1245.8 2026.7 L1247.8 2027.2 L1249.8 2027.6 L1251.8 2028 L1253.8 2028.5 L1255.8 2028.9 L1257.8 2029.3 L1259.8 2029.8 L1261.8 2030.2 L1263.8 2030.6 L1265.8 2031 L1267.8 2031.4 L1269.8 2031.9 L1271.8 2032.3 L1273.8 2032.7 L1275.8 2033.1 L1277.8 2033.5 L1279.8 2033.9 L1281.8 2034.3 L1283.8 2034.7 L1285.8 2035.1 L1287.8 2035.5 L1289.8 2035.9 L1291.8 2036.3 L1293.8 2036.7 L1295.8 2037.1 L1297.8 2037.4 L1299.8 2037.8 L1301.8 2038.2 L1303.8 2038.6 L1305.8 2039 L1307.8 2039.4 L1309.8 2039.7 L1311.8 2040.1 L1313.8 2040.5 L1315.8 2040.8 L1317.8 2041.2 L1319.8 2041.6 L1321.8 2041.9 L1323.8 2042.3 L1325.8 2042.6 L1327.8 2043 L1329.8 2043.3 L1331.8 2043.7 L1333.8 2044 L1335.8 2044.4 L1337.8 2044.7 L1339.8 2045.1 L1341.8 2045.4 L1343.8 2045.7 L1345.8 2046.1 L1347.8 2046.4 L1349.8 2046.7 L1351.8 2047 L1353.8 2047.4 L1355.8 2047.7 L1357.8 2048 L1359.8 2048.3 L1361.8 2048.6 L1363.8 2048.9 L1365.8 2049.2 L1367.8 2049.5 L1369.8 2049.8 L1371.8 2050.1 L1373.8 2050.4 L1375.8 2050.7 L1377.8 2051 L1379.8 2051.3 L1381.8 2051.6 L1383.8 2051.8 L1385.8 2052.1 L1387.8 2052.4 L1389.8 2052.6 L1391.8 2052.9 L1393.8 2053.2 L1395.8 2053.4 L1397.8 2053.7 L1399.8 2053.9 L1401.8 2054.2 L1403.8 2054.4 L1405.8 2054.6 L1407.8 2054.9 L1409.8 2055.1 L1411.8 2055.3 L1413.8 2055.6 L1415.8 2055.8 L1417.8 2056 L1419.8 2056.2 L1421.8 2056.4 L1423.8 2056.6 L1425.8 2056.8 L1427.8 2057 L1429.8 2057.2 L1431.8 2057.4 L1433.8 2057.6 L1435.8 2057.8 L1437.8 2058 L1439.8 2058.2 L1441.8 2058.3 L1443.8 2058.5 L1445.8 2058.7 L1447.8 2058.8 L1449.8 2059 L1451.8 2059.1 L1453.8 2059.3 L1455.8 2059.4 L1457.8 2059.6 L1459.8 2059.7 L1461.8 2059.9 L1463.8 2060 L1465.8 2060.1 L1467.8 2060.2 L1469.8 2060.4 L1471.8 2060.5 L1473.8 2060.6 L1475.8 2060.7 L1477.8 2060.8 L1479.8 2060.9 L1481.8 2061 L1483.8 2061.1 L1485.8 2061.2 L1487.8 2061.3 L1489.8 2061.4 L1491.8 2061.5 L1493.8 2061.6 L1495.8 2061.7 L1497.8 2061.7 L1499.8 2061.8 L1501.8 2061.9 L1503.8 2062 L1505.8 2062 L1507.8 2062.1 L1509.8 2062.2 L1511.8 2062.2 L1513.8 2062.3 L1515.8 2062.3 L1517.8 2062.4 L1519.8 2062.4 L1521.8 2062.5 L1523.8 2062.6 L1525.8 2062.6 L1527.8 2062.6 L1529.8 2062.7 L1531.8 2062.7 L1533.8 2062.8 L1535.8 2062.8 L1537.8 2062.9 L1539.8 2062.9 L1541.8 2062.9 L1543.8 2063 L1545.8 2063 L1547.8 2063.1 L1549.8 2063.1 L1551.8 2063.1 L1553.8 2063.2 L1555.8 2063.2 L1557.8 2063.2 L1559.8 2063.3 L1561.8 2063.3 L1563.8 2063.4 L1565.8 2063.4 L1567.8 2063.4 L1569.8 2063.5 L1571.8 2063.5 L1573.8 2063.6 L1575.8 2063.6 L1577.8 2063.6 L1579.8 2063.7 L1581.8 2063.7 L1583.8 2063.8 L1585.8 2063.8 L1587.8 2063.9 L1589.8 2063.9 L1591.8 2064 L1593.8 2064 L1595.8 2064.1 L1597.8 2064.1 L1599.8 2064.2 L1601.8 2064.3 L1603.8 2064.3 L1605.8 2064.4 L1607.8 2064.4 L1609.8 2064.5 L1611.8 2064.6 L1613.8 2064.7 L1615.8 2064.7 L1617.8 2064.8 L1619.8 2064.9 L1621.8 2065 L1623.8 2065.1 L1625.8 2065.1 L1627.8 2065.2 L1629.8 2065.3 L1631.8 2065.4 L1633.8 2065.5 L1635.8 2065.6 L1637.8 2065.7 L1639.8 2065.8 L1641.8 2065.9 L1643.8 2066 L1645.8 2066.1 L1647.8 2066.3 L1649.8 2066.4 L1651.8 2066.5" fill="none" stroke="#000000" stroke-width="9.5" stroke-linejoin="round" stroke-linecap="round"/>
<path d="M235.8 2061.2 L237.8 2060.1 L239.8 2059 L241.8 2057.8 L243.8 2056.5 L245.8 2055.1 L247.8 2053.6 L249.8 2052.1 L251.8 2050.4 L253.8 2048.6 L255.8 2046.7 L257.8 2044.7 L259.8 2042.5 L261.8 2040.2 L263.8 2037.8 L265.8 2035.3 L267.8 2032.5 L269.8 2029.7 L271.8 2026.6 L273.8 2023.4 L275.8 2020 L277.8 2016.4 L279.8 2012.6 L281.8 2008.6 L283.8 2004.4 L285.8 2000 L287.8 1995.4 L289.8 1990.5 L291.8 1985.4 L293.8 1980.1 L295.8 1974.5 L297.8 1968.6 L299.8 1962.5 L301.8 1956.1 L303.8 1949.4 L305.8 1942.5 L307.8 1935.2 L309.8 1927.6 L311.8 1919.8 L313.8 1911.6 L315.8 1903.1 L317.8 1894.2 L319.8 1885 L321.8 1875.5 L323.8 1865.6 L325.8 1855.4 L327.8 1844.8 L329.8 1833.8 L331.8 1822.5 L333.8 1810.8 L335.8 1798.7 L337.8 1786.3 L339.8 1773.5 L341.8 1760.4 L343.8 1746.9 L345.8 1733.2 L347.8 1719.1 L349.8 1704.7 L351.8 1690.1 L353.8 1675.3 L355.8 1660.2 L357.8 1645.1 L359.8 1629.8 L361.8 1614.5 L363.8 1599.1 L365.8 1583.8 L367.8 1568.5 L369.8 1553.4 L371.8 1538.5 L373.8 1523.9 L375.8 1509.5 L377.8 1495.5 L379.8 1481.9 L381.8 1468.8 L383.8 1456.1 L385.8 1444 L387.8 1432.4 L389.8 1421.4 L391.8 1411 L393.8 1401.3 L395.8 1392.2 L397.8 1383.7 L399.8 1375.9 L401.8 1368.7 L403.8 1362.2 L405.8 1356.3 L407.8 1351 L409.8 1346.3 L411.8 1342.1 L413.8 1338.6 L415.8 1335.5 L417.8 1333 L419.8 1330.9 L421.8 1329.3 L423.8 1328.2 L425.8 1327.5 L427.8 1327.2 L429.8 1327.3 L431.8 1327.8 L433.8 1328.7 L435.8 1329.9 L437.8 1331.5 L439.8 1333.4 L441.8 1335.7 L443.8 1338.3 L445.8 1341.3 L447.8 1344.5 L449.8 1348.1 L451.8 1352 L453.8 1356.2 L455.8 1360.6 L457.8 1365.4 L459.8 1370.4 L461.8 1375.7 L463.8 1381.2 L465.8 1386.9 L467.8 1392.9 L469.8 1399 L471.8 1405.4 L473.8 1411.9 L475.8 1418.5 L477.8 1425.3 L479.8 1432.1 L481.8 1439.1 L483.8 1446.1 L485.8 1453.2 L487.8 1460.3 L489.8 1467.4 L491.8 1474.5 L493.8 1481.6 L495.8 1488.6 L497.8 1495.6 L499.8 1502.4 L501.8 1509.2 L503.8 1515.8 L505.8 1522.3 L507.8 1528.6 L509.8 1534.8 L511.8 1540.7 L513.8 1546.5 L515.8 1552.1 L517.8 1557.5 L519.8 1562.7 L521.8 1567.6 L523.8 1572.3 L525.8 1576.7 L527.8 1580.9 L529.8 1584.9 L531.8 1588.6 L533.8 1592.1 L535.8 1595.3 L537.8 1598.2 L539.8 1600.9 L541.8 1603.4 L543.8 1605.6 L545.8 1607.6 L547.8 1609.3 L549.8 1610.8 L551.8 1612.1 L553.8 1613.1 L555.8 1614 L557.8 1614.6 L559.8 1615.1 L561.8 1615.4 L563.8 1615.4 L565.8 1615.4 L567.8 1615.1 L569.8 1614.7 L571.8 1614.2 L573.8 1613.6 L575.8 1612.8 L577.8 1612 L579.8 1611 L581.8 1609.9 L583.8 1608.8 L585.8 1607.6 L587.8 1606.4 L589.8 1605.1 L591.8 1603.8 L593.8 1602.5 L595.8 1601.2 L597.8 1599.8 L599.8 1598.5 L601.8 1597.2 L603.8 1595.9 L605.8 1594.7 L607.8 1593.4 L609.8 1592.3 L611.8 1591.2 L613.8 1590.2 L615.8 1589.2 L617.8 1588.3 L619.8 1587.5 L621.8 1586.8 L623.8 1586.2 L625.8 1585.7 L627.8 1585.3 L629.8 1585.1 L631.8 1584.9 L633.8 1584.8 L635.8 1584.9 L637.8 1585.1 L639.8 1585.4 L641.8 1585.9 L643.8 1586.5 L645.8 1587.2 L647.8 1588.1 L649.8 1589 L651.8 1590.2 L653.8 1591.4 L655.8 1592.8 L657.8 1594.3 L659.8 1596 L661.8 1597.8 L663.8 1599.7 L665.8 1601.7 L667.8 1603.9 L669.8 1606.2 L671.8 1608.6 L673.8 1611.2 L675.8 1613.8 L677.8 1616.6 L679.8 1619.5 L681.8 1622.5 L683.8 1625.5 L685.8 1628.7 L687.8 1632 L689.8 1635.4 L691.8 1638.9 L693.8 1642.4 L695.8 1646 L697.8 1649.7 L699.8 1653.5 L701.8 1657.4 L703.8 1661.3 L705.8 1665.2 L707.8 1669.2 L709.8 1673.3 L711.8 1677.4 L713.8 1681.5 L715.8 1685.7 L717.8 1689.9 L719.8 1694.1 L721.8 1698.4 L723.8 1702.6 L725.8 1706.9 L727.8 1711.2 L729.8 1715.5 L731.8 1719.7 L733.8 1724 L735.8 1728.3 L737.8 1732.5 L739.8 1736.8 L741.8 1741 L743.8 1745.1 L745.8 1749.3 L747.8 1753.4 L749.8 1757.5 L751.8 1761.5 L753.8 1765.5 L755.8 1769.5 L757.8 1773.4 L759.8 1777.3 L761.8 1781.1 L763.8 1784.8 L765.8 1788.5 L767.8 1792.1 L769.8 1795.7 L771.8 1799.2 L773.8 1802.6 L775.8 1806 L777.8 1809.3 L779.8 1812.5 L781.8 1815.7 L783.8 1818.8 L785.8 1821.8 L787.8 1824.7 L789.8 1827.6 L791.8 1830.4 L793.8 1833.1 L795.8 1835.8 L797.8 1838.3 L799.8 1840.8 L801.8 1843.3 L803.8 1845.6 L805.8 1847.9 L807.8 1850.1 L809.8 1852.2 L811.8 1854.3 L813.8 1856.3 L815.8 1858.2 L817.8 1860.1 L819.8 1861.9 L821.8 1863.6 L823.8 1865.3 L825.8 1866.9 L827.8 1868.5 L829.8 1870 L831.8 1871.4 L833.8 1872.8 L835.8 1874.1 L837.8 1875.4 L839.8 1876.7 L841.8 1877.9 L843.8 1879 L845.8 1880.1 L847.8 1881.2 L849.8 1882.2 L851.8 1883.2 L853.8 1884.1 L855.8 1885 L857.8 1885.9 L859.8 1886.8 L861.8 1887.6 L863.8 1888.4 L865.8 1889.2 L867.8 1889.9 L869.8 1890.7 L871.8 1891.4 L873.8 1892.1 L875.8 1892.8 L877.8 1893.5 L879.8 1894.2 L881.8 1894.8 L883.8 1895.5 L885.8 1896.2 L887.8 1896.8 L889.8 1897.5 L891.8 1898.1 L893.8 1898.8 L895.8 1899.4 L897.8 1900.1 L899.8 1900.8 L901.8 1901.4 L903.8 1902.1 L905.8 1902.8 L907.8 1903.5 L909.8 1904.2 L911.8 1904.9 L913.8 1905.7 L915.8 1906.4 L917.8 1907.2 L919.8 1908 L921.8 1908.8 L923.8 1909.6 L925.8 1910.4 L927.8 1911.2 L929.8 1912.1 L931.8 1913 L933.8 1913.8 L935.8 1914.8 L937.8 1915.7 L939.8 1916.6 L941.8 1917.6 L943.8 1918.6 L945.8 1919.5 L947.8 1920.6 L949.8 1921.6 L951.8 1922.6 L953.8 1923.7 L955.8 1924.8 L957.8 1925.9 L959.8 1927 L961.8 1928.1 L963.8 1929.2 L965.8 1930.4 L967.8 1931.5 L969.8 1932.7 L971.8 1933.9 L973.8 1935.1 L975.8 1936.3 L977.8 1937.5 L979.8 1938.8 L981.8 1940 L983.8 1941.2 L985.8 1942.5 L987.8 1943.8 L989.8 1945 L991.8 1946.3 L993.8 1947.6 L995.8 1948.8 L997.8 1950.1 L999.8 1951.4 L1001.8 1952.7 L1003.8 1954 L1005.8 1955.3 L1007.8 1956.6 L1009.8 1957.8 L1011.8 1959.1 L1013.8 1960.4 L1015.8 1961.7 L1017.8 1963 L1019.8 1964.2 L1021.8 1965.5 L1023.8 1966.7 L1025.8 1968 L1027.8 1969.2 L1029.8 1970.5 L1031.8 1971.7 L1033.8 1972.9 L1035.8 1974.1 L1037.8 1975.3 L1039.8 1976.5 L1041.8 1977.7 L1043.8 1978.9 L1045.8 1980 L1047.8 1981.2 L1049.8 1982.3 L1051.8 1983.4 L1053.8 1984.5 L1055.8 1985.6 L1057.8 1986.7 L1059.8 1987.8 L1061.8 1988.8 L1063.8 1989.8 L1065.8 1990.9 L1067.8 1991.9 L1069.8 1992.9 L1071.8 1993.9 L1073.8 1994.8 L1075.8 1995.8 L1077.8 1996.7 L1079.8 1997.6 L1081.8 1998.6 L1083.8 1999.4 L1085.8 2000.3 L1087.8 2001.2 L1089.8 2002 L1091.8 2002.9 L1093.8 2003.7 L1095.8 2004.5 L1097.8 2005.3 L1099.8 2006.1 L1101.8 2006.8 L1103.8 2007.6 L1105.8 2008.3 L1107.8 2009 L1109.8 2009.7 L1111.8 2010.4 L1113.8 2011.1 L1115.8 2011.8 L1117.8 2012.4 L1119.8 2013.1 L1121.8 2013.7 L1123.8 2014.3 L1125.8 2014.9 L1127.8 2015.5 L1129.8 2016.1 L1131.8 2016.7 L1133.8 2017.3 L1135.8 2017.8 L1137.8 2018.3 L1139.8 2018.9 L1141.8 2019.4 L1143.8 2019.9 L1145.8 2020.4 L1147.8 2020.9 L1149.8 2021.4 L1151.8 2021.9 L1153.8 2022.3 L1155.8 2022.8 L1157.8 2023.2 L1159.8 2023.7 L1161.8 2024.1 L1163.8 2024.5 L1165.8 2025 L1167.8 2025.4 L1169.8 2025.8 L1171.8 2026.2 L1173.8 2026.6 L1175.8 2027 L1177.8 2027.4 L1179.8 2027.7 L1181.8 2028.1 L1183.8 2028.5 L1185.8 2028.8 L1187.8 2029.2 L1189.8 2029.5 L1191.8 2029.9 L1193.8 2030.2 L1195.8 2030.6 L1197.8 2030.9 L1199.8 2031.2 L1201.8 2031.6 L1203.8 2031.9 L1205.8 2032.2 L1207.8 2032.5 L1209.8 2032.9 L1211.8 2033.2 L1213.8 2033.5 L1215.8 2033.8 L1217.8 2034.1 L1219.8 2034.4 L1221.8 2034.7 L1223.8 2035 L1225.8 2035.3 L1227.8 2035.6 L1229.8 2035.9 L1231.8 2036.1 L1233.8 2036.4 L1235.8 2036.7 L1237.8 2037 L1239.8 2037.3 L1241.8 2037.6 L1243.8 2037.8 L1245.8 2038.1 L1247.8 2038.4 L1249.8 2038.7 L1251.8 2038.9 L1253.8 2039.2 L1255.8 2039.5 L1257.8 2039.8 L1259.8 2040 L1261.8 2040.3 L1263.8 2040.6 L1265.8 2040.8 L1267.8 2041.1 L1269.8 2041.3 L1271.8 2041.6 L1273.8 2041.9 L1275.8 2042.1 L1277.8 2042.4 L1279.8 2042.7 L1281.8 2042.9 L1283.8 2043.2 L1285.8 2043.4 L1287.8 2043.7 L1289.8 2043.9 L1291.8 2044.2 L1293.8 2044.4 L1295.8 2044.7 L1297.8 2044.9 L1299.8 2045.2 L1301.8 2045.4 L1303.8 2045.7 L1305.8 2045.9 L1307.8 2046.2 L1309.8 2046.4 L1311.8 2046.7 L1313.8 2046.9 L1315.8 2047.2 L1317.8 2047.4 L1319.8 2047.6 L1321.8 2047.9 L1323.8 2048.1 L1325.8 2048.4 L1327.8 2048.6 L1329.8 2048.8 L1331.8 2049.1 L1333.8 2049.3 L1335.8 2049.5 L1337.8 2049.8 L1339.8 2050 L1341.8 2050.2 L1343.8 2050.5 L1345.8 2050.7 L1347.8 2050.9 L1349.8 2051.2 L1351.8 2051.4 L1353.8 2051.6 L1355.8 2051.8 L1357.8 2052 L1359.8 2052.3 L1361.8 2052.5 L1363.8 2052.7 L1365.8 2052.9 L1367.8 2053.1 L1369.8 2053.4 L1371.8 2053.6 L1373.8 2053.8 L1375.8 2054 L1377.8 2054.2 L1379.8 2054.4 L1381.8 2054.6 L1383.8 2054.8 L1385.8 2055 L1387.8 2055.2 L1389.8 2055.4 L1391.8 2055.6 L1393.8 2055.8 L1395.8 2056 L1397.8 2056.2 L1399.8 2056.4 L1401.8 2056.6 L1403.8 2056.8 L1405.8 2057 L1407.8 2057.2 L1409.8 2057.3 L1411.8 2057.5 L1413.8 2057.7 L1415.8 2057.9 L1417.8 2058.1 L1419.8 2058.2 L1421.8 2058.4 L1423.8 2058.6 L1425.8 2058.8 L1427.8 2058.9 L1429.8 2059.1 L1431.8 2059.3 L1433.8 2059.4 L1435.8 2059.6 L1437.8 2059.7 L1439.8 2059.9 L1441.8 2060.1 L1443.8 2060.2 L1445.8 2060.4 L1447.8 2060.5 L1449.8 2060.7 L1451.8 2060.8 L1453.8 2060.9 L1455.8 2061.1 L1457.8 2061.2 L1459.8 2061.4 L1461.8 2061.5 L1463.8 2061.6 L1465.8 2061.8 L1467.8 2061.9 L1469.8 2062 L1471.8 2062.2 L1473.8 2062.3 L1475.8 2062.4 L1477.8 2062.5 L1479.8 2062.6 L1481.8 2062.8 L1483.8 2062.9 L1485.8 2063 L1487.8 2063.1 L1489.8 2063.2 L1491.8 2063.3 L1493.8 2063.4 L1495.8 2063.5 L1497.8 2063.6 L1499.8 2063.7 L1501.8 2063.8 L1503.8 2063.9 L1505.8 2064 L1507.8 2064.1 L1509.8 2064.2 L1511.8 2064.3 L1513.8 2064.4 L1515.8 2064.5 L1517.8 2064.6 L1519.8 2064.7 L1521.8 2064.8 L1523.8 2064.9 L1525.8 2065 L1527.8 2065 L1529.8 2065.1 L1531.8 2065.2 L1533.8 2065.3 L1535.8 2065.4 L1537.8 2065.4 L1539.8 2065.5 L1541.8 2065.6 L1543.8 2065.7 L1545.8 2065.8 L1547.8 2065.8 L1549.8 2065.9 L1551.8 2066 L1553.8 2066.1 L1555.8 2066.1 L1557.8 2066.2 L1559.8 2066.3 L1561.8 2066.4 L1563.8 2066.4 L1565.8 2066.5 L1567.8 2066.6 L1569.8 2066.7 L1571.8 2066.7 L1573.8 2066.8 L1575.8 2066.9 L1577.8 2067 L1579.8 2067 L1581.8 2067.1 L1583.8 2067.2 L1585.8 2067.3 L1587.8 2067.3 L1589.8 2067.4 L1591.8 2067.5 L1593.8 2067.6 L1595.8 2067.6 L1597.8 2067.7 L1599.8 2067.8 L1601.8 2067.9 L1603.8 2068 L1605.8 2068.1 L1607.8 2068.1 L1609.8 2068.2 L1611.8 2068.3 L1613.8 2068.4 L1615.8 2068.5 L1617.8 2068.6 L1619.8 2068.7 L1621.8 2068.7 L1623.8 2068.8 L1625.8 2068.9 L1627.8 2069 L1629.8 2069.1 L1631.8 2069.2 L1633.8 2069.3 L1635.8 2069.4 L1637.8 2069.5 L1639.8 2069.6 L1641.8 2069.7 L1643.8 2069.8 L1645.8 2069.9 L1647.8 2070 L1649.8 2070.1 L1651.8 2070.2" fill="none" stroke="#ff0000" stroke-width="9.5" stroke-linejoin="round" stroke-linecap="round"/>
<path d="M235.8 2065.8 L237.8 2065.2 L239.8 2064.5 L241.8 2063.8 L243.8 2063.1 L245.8 2062.3 L247.8 2061.4 L249.8 2060.5 L251.8 2059.4 L253.8 2058.4 L255.8 2057.2 L257.8 2056 L259.8 2054.7 L261.8 2053.3 L263.8 2051.8 L265.8 2050.2 L267.8 2048.4 L269.8 2046.6 L271.8 2044.7 L273.8 2042.6 L275.8 2040.4 L277.8 2038.1 L279.8 2035.6 L281.8 2033 L283.8 2030.3 L285.8 2027.3 L287.8 2024.3 L289.8 2021 L291.8 2017.6 L293.8 2014 L295.8 2010.2 L297.8 2006.2 L299.8 2002 L301.8 1997.6 L303.8 1993 L305.8 1988.2 L307.8 1983.2 L309.8 1977.9 L311.8 1972.4 L313.8 1966.7 L315.8 1960.7 L317.8 1954.5 L319.8 1948.1 L321.8 1941.3 L323.8 1934.4 L325.8 1927.1 L327.8 1919.6 L329.8 1911.9 L331.8 1903.8 L333.8 1895.5 L335.8 1886.8 L337.8 1877.9 L339.8 1868.7 L341.8 1859.2 L343.8 1849.5 L345.8 1839.4 L347.8 1829.1 L349.8 1818.5 L351.8 1807.7 L353.8 1796.6 L355.8 1785.4 L357.8 1773.9 L359.8 1762.3 L361.8 1750.6 L363.8 1738.8 L365.8 1726.9 L367.8 1715 L369.8 1703.2 L371.8 1691.5 L373.8 1679.9 L375.8 1668.5 L377.8 1657.4 L379.8 1646.6 L381.8 1636 L383.8 1625.9 L385.8 1616.2 L387.8 1606.9 L389.8 1598.1 L391.8 1589.9 L393.8 1582.1 L395.8 1574.9 L397.8 1568.2 L399.8 1562.1 L401.8 1556.5 L403.8 1551.4 L405.8 1546.9 L407.8 1542.8 L409.8 1539.2 L411.8 1536.1 L413.8 1533.4 L415.8 1531.2 L417.8 1529.3 L419.8 1527.9 L421.8 1526.8 L423.8 1526 L425.8 1525.6 L427.8 1525.5 L429.8 1525.7 L431.8 1526.3 L433.8 1527.1 L435.8 1528.2 L437.8 1529.6 L439.8 1531.3 L441.8 1533.3 L443.8 1535.5 L445.8 1538.1 L447.8 1540.9 L449.8 1543.9 L451.8 1547.3 L453.8 1550.9 L455.8 1554.7 L457.8 1558.7 L459.8 1563 L461.8 1567.5 L463.8 1572.2 L465.8 1577.1 L467.8 1582.1 L469.8 1587.3 L471.8 1592.7 L473.8 1598.2 L475.8 1603.7 L477.8 1609.4 L479.8 1615.1 L481.8 1620.9 L483.8 1626.7 L485.8 1632.5 L487.8 1638.3 L489.8 1644.1 L491.8 1649.8 L493.8 1655.5 L495.8 1661.2 L497.8 1666.7 L499.8 1672.1 L501.8 1677.5 L503.8 1682.7 L505.8 1687.8 L507.8 1692.7 L509.8 1697.5 L511.8 1702.1 L513.8 1706.5 L515.8 1710.8 L517.8 1714.9 L519.8 1718.8 L521.8 1722.4 L523.8 1725.9 L525.8 1729.2 L527.8 1732.3 L529.8 1735.2 L531.8 1737.9 L533.8 1740.4 L535.8 1742.7 L537.8 1744.8 L539.8 1746.7 L541.8 1748.4 L543.8 1749.9 L545.8 1751.2 L547.8 1752.4 L549.8 1753.4 L551.8 1754.2 L553.8 1754.8 L555.8 1755.4 L557.8 1755.7 L559.8 1755.9 L561.8 1756 L563.8 1756 L565.8 1755.9 L567.8 1755.6 L569.8 1755.3 L571.8 1754.8 L573.8 1754.3 L575.8 1753.7 L577.8 1753.1 L579.8 1752.4 L581.8 1751.6 L583.8 1750.8 L585.8 1750 L587.8 1749.1 L589.8 1748.2 L591.8 1747.3 L593.8 1746.4 L595.8 1745.5 L597.8 1744.6 L599.8 1743.7 L601.8 1742.9 L603.8 1742 L605.8 1741.2 L607.8 1740.4 L609.8 1739.7 L611.8 1739 L613.8 1738.4 L615.8 1737.8 L617.8 1737.3 L619.8 1736.9 L621.8 1736.5 L623.8 1736.2 L625.8 1735.9 L627.8 1735.7 L629.8 1735.6 L631.8 1735.6 L633.8 1735.7 L635.8 1735.8 L637.8 1736.1 L639.8 1736.4 L641.8 1736.8 L643.8 1737.3 L645.8 1737.8 L647.8 1738.5 L649.8 1739.2 L651.8 1740.1 L653.8 1741 L655.8 1742 L657.8 1743.1 L659.8 1744.3 L661.8 1745.5 L663.8 1746.9 L665.8 1748.3 L667.8 1749.8 L669.8 1751.4 L671.8 1753.1 L673.8 1754.8 L675.8 1756.7 L677.8 1758.6 L679.8 1760.5 L681.8 1762.6 L683.8 1764.7 L685.8 1766.8 L687.8 1769 L689.8 1771.3 L691.8 1773.7 L693.8 1776 L695.8 1778.5 L697.8 1781 L699.8 1783.5 L701.8 1786.1 L703.8 1788.7 L705.8 1791.4 L707.8 1794.1 L709.8 1796.8 L711.8 1799.6 L713.8 1802.4 L715.8 1805.2 L717.8 1808 L719.8 1810.8 L721.8 1813.7 L723.8 1816.6 L725.8 1819.5 L727.8 1822.4 L729.8 1825.3 L731.8 1828.2 L733.8 1831.1 L735.8 1834 L737.8 1836.9 L739.8 1839.7 L741.8 1842.6 L743.8 1845.5 L745.8 1848.3 L747.8 1851.2 L749.8 1854 L751.8 1856.8 L753.8 1859.5 L755.8 1862.3 L757.8 1865 L759.8 1867.7 L761.8 1870.4 L763.8 1873 L765.8 1875.6 L767.8 1878.2 L769.8 1880.7 L771.8 1883.2 L773.8 1885.6 L775.8 1888 L777.8 1890.4 L779.8 1892.7 L781.8 1895 L783.8 1897.3 L785.8 1899.5 L787.8 1901.6 L789.8 1903.8 L791.8 1905.8 L793.8 1907.8 L795.8 1909.8 L797.8 1911.7 L799.8 1913.6 L801.8 1915.5 L803.8 1917.3 L805.8 1919 L807.8 1920.7 L809.8 1922.3 L811.8 1924 L813.8 1925.5 L815.8 1927 L817.8 1928.5 L819.8 1929.9 L821.8 1931.3 L823.8 1932.7 L825.8 1934 L827.8 1935.2 L829.8 1936.4 L831.8 1937.6 L833.8 1938.7 L835.8 1939.8 L837.8 1940.9 L839.8 1941.9 L841.8 1942.9 L843.8 1943.9 L845.8 1944.8 L847.8 1945.7 L849.8 1946.6 L851.8 1947.4 L853.8 1948.2 L855.8 1949 L857.8 1949.7 L859.8 1950.4 L861.8 1951.1 L863.8 1951.8 L865.8 1952.5 L867.8 1953.1 L869.8 1953.7 L871.8 1954.3 L873.8 1954.9 L875.8 1955.4 L877.8 1956 L879.8 1956.5 L881.8 1957 L883.8 1957.6 L885.8 1958.1 L887.8 1958.6 L889.8 1959 L891.8 1959.5 L893.8 1960 L895.8 1960.4 L897.8 1960.9 L899.8 1961.4 L901.8 1961.8 L903.8 1962.3 L905.8 1962.7 L907.8 1963.2 L909.8 1963.6 L911.8 1964.1 L913.8 1964.5 L915.8 1965 L917.8 1965.5 L919.8 1965.9 L921.8 1966.4 L923.8 1966.9 L925.8 1967.4 L927.8 1967.9 L929.8 1968.4 L931.8 1968.9 L933.8 1969.4 L935.8 1969.9 L937.8 1970.4 L939.8 1971 L941.8 1971.5 L943.8 1972.1 L945.8 1972.6 L947.8 1973.2 L949.8 1973.8 L951.8 1974.4 L953.8 1975 L955.8 1975.6 L957.8 1976.2 L959.8 1976.9 L961.8 1977.5 L963.8 1978.2 L965.8 1978.8 L967.8 1979.5 L969.8 1980.2 L971.8 1980.9 L973.8 1981.6 L975.8 1982.3 L977.8 1983 L979.8 1983.7 L981.8 1984.4 L983.8 1985.2 L985.8 1985.9 L987.8 1986.7 L989.8 1987.4 L991.8 1988.2 L993.8 1989 L995.8 1989.7 L997.8 1990.5 L999.8 1991.3 L1001.8 1992.1 L1003.8 1992.9 L1005.8 1993.7 L1007.8 1994.5 L1009.8 1995.3 L1011.8 1996.1 L1013.8 1996.9 L1015.8 1997.8 L1017.8 1998.6 L1019.8 1999.4 L1021.8 2000.2 L1023.8 2001 L1025.8 2001.8 L1027.8 2002.7 L1029.8 2003.5 L1031.8 2004.3 L1033.8 2005.1 L1035.8 2005.9 L1037.8 2006.7 L1039.8 2007.5 L1041.8 2008.3 L1043.8 2009.1 L1045.8 2009.9 L1047.8 2010.7 L1049.8 2011.5 L1051.8 2012.2 L1053.8 2013 L1055.8 2013.8 L1057.8 2014.5 L1059.8 2015.3 L1061.8 2016 L1063.8 2016.8 L1065.8 2017.5 L1067.8 2018.2 L1069.8 2019 L1071.8 2019.7 L1073.8 2020.4 L1075.8 2021.1 L1077.8 2021.8 L1079.8 2022.5 L1081.8 2023.1 L1083.8 2023.8 L1085.8 2024.4 L1087.8 2025.1 L1089.8 2025.7 L1091.8 2026.4 L1093.8 2027 L1095.8 2027.6 L1097.8 2028.2 L1099.8 2028.8 L1101.8 2029.4 L1103.8 2029.9 L1105.8 2030.5 L1107.8 2031.1 L1109.8 2031.6 L1111.8 2032.1 L1113.8 2032.7 L1115.8 2033.2 L1117.8 2033.7 L1119.8 2034.2 L1121.8 2034.7 L1123.8 2035.2 L1125.8 2035.6 L1127.8 2036.1 L1129.8 2036.6 L1131.8 2037 L1133.8 2037.4 L1135.8 2037.9 L1137.8 2038.3 L1139.8 2038.7 L1141.8 2039.1 L1143.8 2039.5 L1145.8 2039.9 L1147.8 2040.3 L1149.8 2040.7 L1151.8 2041 L1153.8 2041.4 L1155.8 2041.7 L1157.8 2042.1 L1159.8 2042.4 L1161.8 2042.7 L1163.8 2043.1 L1165.8 2043.4 L1167.8 2043.7 L1169.8 2044 L1171.8 2044.3 L1173.8 2044.6 L1175.8 2044.9 L1177.8 2045.2 L1179.8 2045.4 L1181.8 2045.7 L1183.8 2046 L1185.8 2046.2 L1187.8 2046.5 L1189.8 2046.7 L1191.8 2047 L1193.8 2047.2 L1195.8 2047.5 L1197.8 2047.7 L1199.8 2047.9 L1201.8 2048.1 L1203.8 2048.4 L1205.8 2048.6 L1207.8 2048.8 L1209.8 2049 L1211.8 2049.2 L1213.8 2049.4 L1215.8 2049.6 L1217.8 2049.8 L1219.8 2050 L1221.8 2050.2 L1223.8 2050.4 L1225.8 2050.5 L1227.8 2050.7 L1229.8 2050.9 L1231.8 2051.1 L1233.8 2051.3 L1235.8 2051.4 L1237.8 2051.6 L1239.8 2051.8 L1241.8 2051.9 L1243.8 2052.1 L1245.8 2052.3 L1247.8 2052.4 L1249.8 2052.6 L1251.8 2052.7 L1253.8 2052.9 L1255.8 2053 L1257.8 2053.2 L1259.8 2053.4 L1261.8 2053.5 L1263.8 2053.7 L1265.8 2053.8 L1267.8 2053.9 L1269.8 2054.1 L1271.8 2054.2 L1273.8 2054.4 L1275.8 2054.5 L1277.8 2054.7 L1279.8 2054.8 L1281.8 2054.9 L1283.8 2055.1 L1285.8 2055.2 L1287.8 2055.4 L1289.8 2055.5 L1291.8 2055.6 L1293.8 2055.8 L1295.8 2055.9 L1297.8 2056 L1299.8 2056.2 L1301.8 2056.3 L1303.8 2056.4 L1305.8 2056.6 L1307.8 2056.7 L1309.8 2056.8 L1311.8 2056.9 L1313.8 2057.1 L1315.8 2057.2 L1317.8 2057.3 L1319.8 2057.5 L1321.8 2057.6 L1323.8 2057.7 L1325.8 2057.8 L1327.8 2058 L1329.8 2058.1 L1331.8 2058.2 L1333.8 2058.3 L1335.8 2058.5 L1337.8 2058.6 L1339.8 2058.7 L1341.8 2058.8 L1343.8 2059 L1345.8 2059.1 L1347.8 2059.2 L1349.8 2059.3 L1351.8 2059.4 L1353.8 2059.6 L1355.8 2059.7 L1357.8 2059.8 L1359.8 2059.9 L1361.8 2060 L1363.8 2060.2 L1365.8 2060.3 L1367.8 2060.4 L1369.8 2060.5 L1371.8 2060.6 L1373.8 2060.7 L1375.8 2060.8 L1377.8 2061 L1379.8 2061.1 L1381.8 2061.2 L1383.8 2061.3 L1385.8 2061.4 L1387.8 2061.5 L1389.8 2061.6 L1391.8 2061.7 L1393.8 2061.9 L1395.8 2062 L1397.8 2062.1 L1399.8 2062.2 L1401.8 2062.3 L1403.8 2062.4 L1405.8 2062.5 L1407.8 2062.6 L1409.8 2062.7 L1411.8 2062.8 L1413.8 2062.9 L1415.8 2063 L1417.8 2063.1 L1419.8 2063.2 L1421.8 2063.3 L1423.8 2063.4 L1425.8 2063.5 L1427.8 2063.6 L1429.8 2063.7 L1431.8 2063.8 L1433.8 2063.9 L1435.8 2064 L1437.8 2064.1 L1439.8 2064.2 L1441.8 2064.3 L1443.8 2064.4 L1445.8 2064.5 L1447.8 2064.6 L1449.8 2064.6 L1451.8 2064.7 L1453.8 2064.8 L1455.8 2064.9 L1457.8 2065 L1459.8 2065.1 L1461.8 2065.2 L1463.8 2065.3 L1465.8 2065.3 L1467.8 2065.4 L1469.8 2065.5 L1471.8 2065.6 L1473.8 2065.7 L1475.8 2065.7 L1477.8 2065.8 L1479.8 2065.9 L1481.8 2066 L1483.8 2066.1 L1485.8 2066.1 L1487.8 2066.2 L1489.8 2066.3 L1491.8 2066.4 L1493.8 2066.4 L1495.8 2066.5 L1497.8 2066.6 L1499.8 2066.7 L1501.8 2066.7 L1503.8 2066.8 L1505.8 2066.9 L1507.8 2066.9 L1509.8 2067 L1511.8 2067.1 L1513.8 2067.1 L1515.8 2067.2 L1517.8 2067.3 L1519.8 2067.3 L1521.8 2067.4 L1523.8 2067.5 L1525.8 2067.5 L1527.8 2067.6 L1529.8 2067.7 L1531.8 2067.7 L1533.8 2067.8 L1535.8 2067.9 L1537.8 2067.9 L1539.8 2068 L1541.8 2068 L1543.8 2068.1 L1545.8 2068.2 L1547.8 2068.2 L1549.8 2068.3 L1551.8 2068.4 L1553.8 2068.4 L1555.8 2068.5 L1557.8 2068.5 L1559.8 2068.6 L1561.8 2068.7 L1563.8 2068.7 L1565.8 2068.8 L1567.8 2068.9 L1569.8 2068.9 L1571.8 2069 L1573.8 2069 L1575.8 2069.1 L1577.8 2069.2 L1579.8 2069.2 L1581.8 2069.3 L1583.8 2069.4 L1585.8 2069.4 L1587.8 2069.5 L1589.8 2069.6 L1591.8 2069.6 L1593.8 2069.7 L1595.8 2069.8 L1597.8 2069.8 L1599.8 2069.9 L1601.8 2070 L1603.8 2070 L1605.8 2070.1 L1607.8 2070.2 L1609.8 2070.2 L1611.8 2070.3 L1613.8 2070.4 L1615.8 2070.4 L1617.8 2070.5 L1619.8 2070.6 L1621.8 2070.7 L1623.8 2070.7 L1625.8 2070.8 L1627.8 2070.9 L1629.8 2071 L1631.8 2071 L1633.8 2071.1 L1635.8 2071.2 L1637.8 2071.3 L1639.8 2071.3 L1641.8 2071.4 L1643.8 2071.5 L1645.8 2071.6 L1647.8 2071.7 L1649.8 2071.7 L1651.8 2071.8" fill="none" stroke="#00ff00" stroke-width="9.5" stroke-linejoin="round" stroke-linecap="round"/>
<path d="M235.8 2070.3 L237.8 2069.9 L239.8 2069.4 L241.8 2068.9 L243.8 2068.3 L245.8 2067.7 L247.8 2067.1 L249.8 2066.4 L251.8 2065.7 L253.8 2064.9 L255.8 2064.1 L257.8 2063.2 L259.8 2062.3 L261.8 2061.2 L263.8 2060.2 L265.8 2059 L267.8 2057.8 L269.8 2056.5 L271.8 2055.1 L273.8 2053.6 L275.8 2052.1 L277.8 2050.4 L279.8 2048.7 L281.8 2046.8 L283.8 2044.9 L285.8 2042.8 L287.8 2040.6 L289.8 2038.4 L291.8 2035.9 L293.8 2033.4 L295.8 2030.8 L297.8 2028 L299.8 2025 L301.8 2022 L303.8 2018.8 L305.8 2015.4 L307.8 2011.9 L309.8 2008.3 L311.8 2004.5 L313.8 2000.5 L315.8 1996.4 L317.8 1992.1 L319.8 1987.6 L321.8 1983 L323.8 1978.2 L325.8 1973.3 L327.8 1968.1 L329.8 1962.8 L331.8 1957.3 L333.8 1951.6 L335.8 1945.8 L337.8 1939.7 L339.8 1933.4 L341.8 1927 L343.8 1920.3 L345.8 1913.5 L347.8 1906.4 L349.8 1899.2 L351.8 1891.8 L353.8 1884.2 L355.8 1876.4 L357.8 1868.5 L359.8 1860.4 L361.8 1852.2 L363.8 1843.9 L365.8 1835.5 L367.8 1827 L369.8 1818.5 L371.8 1810.1 L373.8 1801.6 L375.8 1793.2 L377.8 1784.9 L379.8 1776.8 L381.8 1768.9 L383.8 1761.2 L385.8 1753.7 L387.8 1746.6 L389.8 1739.8 L391.8 1733.3 L393.8 1727.2 L395.8 1721.6 L397.8 1716.3 L399.8 1711.5 L401.8 1707.1 L403.8 1703.2 L405.8 1699.7 L407.8 1696.6 L409.8 1694 L411.8 1691.7 L413.8 1689.9 L415.8 1688.4 L417.8 1687.3 L419.8 1686.5 L421.8 1686 L423.8 1685.8 L425.8 1685.9 L427.8 1686.2 L429.8 1686.7 L431.8 1687.5 L433.8 1688.5 L435.8 1689.6 L437.8 1691 L439.8 1692.5 L441.8 1694.2 L443.8 1696.1 L445.8 1698.1 L447.8 1700.3 L449.8 1702.6 L451.8 1705.1 L453.8 1707.7 L455.8 1710.4 L457.8 1713.3 L459.8 1716.3 L461.8 1719.5 L463.8 1722.7 L465.8 1726.1 L467.8 1729.6 L469.8 1733.2 L471.8 1736.9 L473.8 1740.6 L475.8 1744.5 L477.8 1748.4 L479.8 1752.3 L481.8 1756.3 L483.8 1760.3 L485.8 1764.3 L487.8 1768.3 L489.8 1772.4 L491.8 1776.4 L493.8 1780.3 L495.8 1784.3 L497.8 1788.2 L499.8 1792 L501.8 1795.7 L503.8 1799.4 L505.8 1803 L507.8 1806.5 L509.8 1809.9 L511.8 1813.2 L513.8 1816.4 L515.8 1819.5 L517.8 1822.4 L519.8 1825.2 L521.8 1827.9 L523.8 1830.4 L525.8 1832.8 L527.8 1835.1 L529.8 1837.2 L531.8 1839.2 L533.8 1841 L535.8 1842.7 L537.8 1844.3 L539.8 1845.7 L541.8 1847 L543.8 1848.2 L545.8 1849.2 L547.8 1850.1 L549.8 1850.9 L551.8 1851.5 L553.8 1852.1 L555.8 1852.5 L557.8 1852.8 L559.8 1853.1 L561.8 1853.2 L563.8 1853.2 L565.8 1853.2 L567.8 1853 L569.8 1852.8 L571.8 1852.5 L573.8 1852.2 L575.8 1851.8 L577.8 1851.4 L579.8 1850.9 L581.8 1850.4 L583.8 1849.8 L585.8 1849.2 L587.8 1848.6 L589.8 1847.9 L591.8 1847.3 L593.8 1846.6 L595.8 1846 L597.8 1845.3 L599.8 1844.7 L601.8 1844.1 L603.8 1843.4 L605.8 1842.8 L607.8 1842.3 L609.8 1841.7 L611.8 1841.2 L613.8 1840.8 L615.8 1840.3 L617.8 1839.9 L619.8 1839.6 L621.8 1839.3 L623.8 1839 L625.8 1838.8 L627.8 1838.7 L629.8 1838.6 L631.8 1838.6 L633.8 1838.6 L635.8 1838.7 L637.8 1838.9 L639.8 1839.1 L641.8 1839.4 L643.8 1839.7 L645.8 1840.1 L647.8 1840.6 L649.8 1841.1 L651.8 1841.7 L653.8 1842.4 L655.8 1843.2 L657.8 1844 L659.8 1844.8 L661.8 1845.8 L663.8 1846.8 L665.8 1847.8 L667.8 1848.9 L669.8 1850.1 L671.8 1851.3 L673.8 1852.6 L675.8 1854 L677.8 1855.4 L679.8 1856.8 L681.8 1858.3 L683.8 1859.8 L685.8 1861.4 L687.8 1863.1 L689.8 1864.8 L691.8 1866.5 L693.8 1868.3 L695.8 1870.1 L697.8 1871.9 L699.8 1873.8 L701.8 1875.7 L703.8 1877.6 L705.8 1879.5 L707.8 1881.5 L709.8 1883.5 L711.8 1885.5 L713.8 1887.6 L715.8 1889.6 L717.8 1891.7 L719.8 1893.8 L721.8 1895.9 L723.8 1897.9 L725.8 1900 L727.8 1902.2 L729.8 1904.3 L731.8 1906.4 L733.8 1908.5 L735.8 1910.6 L737.8 1912.6 L739.8 1914.7 L741.8 1916.8 L743.8 1918.8 L745.8 1920.9 L747.8 1922.9 L749.8 1924.9 L751.8 1926.9 L753.8 1928.9 L755.8 1930.9 L757.8 1932.8 L759.8 1934.7 L761.8 1936.6 L763.8 1938.5 L765.8 1940.3 L767.8 1942.1 L769.8 1943.9 L771.8 1945.6 L773.8 1947.3 L775.8 1949 L777.8 1950.7 L779.8 1952.3 L781.8 1953.9 L783.8 1955.4 L785.8 1957 L787.8 1958.5 L789.8 1959.9 L791.8 1961.3 L793.8 1962.7 L795.8 1964.1 L797.8 1965.4 L799.8 1966.7 L801.8 1967.9 L803.8 1969.2 L805.8 1970.3 L807.8 1971.5 L809.8 1972.6 L811.8 1973.7 L813.8 1974.7 L815.8 1975.7 L817.8 1976.7 L819.8 1977.7 L821.8 1978.6 L823.8 1979.5 L825.8 1980.4 L827.8 1981.2 L829.8 1982 L831.8 1982.8 L833.8 1983.5 L835.8 1984.2 L837.8 1984.9 L839.8 1985.6 L841.8 1986.3 L843.8 1986.9 L845.8 1987.5 L847.8 1988.1 L849.8 1988.6 L851.8 1989.2 L853.8 1989.7 L855.8 1990.2 L857.8 1990.7 L859.8 1991.1 L861.8 1991.6 L863.8 1992 L865.8 1992.4 L867.8 1992.8 L869.8 1993.2 L871.8 1993.6 L873.8 1994 L875.8 1994.4 L877.8 1994.7 L879.8 1995.1 L881.8 1995.4 L883.8 1995.7 L885.8 1996 L887.8 1996.4 L889.8 1996.7 L891.8 1997 L893.8 1997.3 L895.8 1997.6 L897.8 1997.9 L899.8 1998.2 L901.8 1998.5 L903.8 1998.8 L905.8 1999.1 L907.8 1999.4 L909.8 1999.7 L911.8 2000 L913.8 2000.3 L915.8 2000.6 L917.8 2000.9 L919.8 2001.2 L921.8 2001.5 L923.8 2001.8 L925.8 2002.1 L927.8 2002.5 L929.8 2002.8 L931.8 2003.1 L933.8 2003.5 L935.8 2003.8 L937.8 2004.1 L939.8 2004.5 L941.8 2004.9 L943.8 2005.2 L945.8 2005.6 L947.8 2006 L949.8 2006.4 L951.8 2006.8 L953.8 2007.2 L955.8 2007.6 L957.8 2008 L959.8 2008.4 L961.8 2008.8 L963.8 2009.2 L965.8 2009.7 L967.8 2010.1 L969.8 2010.6 L971.8 2011 L973.8 2011.5 L975.8 2012 L977.8 2012.4 L979.8 2012.9 L981.8 2013.4 L983.8 2013.9 L985.8 2014.4 L987.8 2014.8 L989.8 2015.3 L991.8 2015.8 L993.8 2016.4 L995.8 2016.9 L997.8 2017.4 L999.8 2017.9 L1001.8 2018.4 L1003.8 2018.9 L1005.8 2019.5 L1007.8 2020 L1009.8 2020.5 L1011.8 2021.1 L1013.8 2021.6 L1015.8 2022.1 L1017.8 2022.7 L1019.8 2023.2 L1021.8 2023.7 L1023.8 2024.3 L1025.8 2024.8 L1027.8 2025.3 L1029.8 2025.9 L1031.8 2026.4 L1033.8 2027 L1035.8 2027.5 L1037.8 2028 L1039.8 2028.6 L1041.8 2029.1 L1043.8 2029.6 L1045.8 2030.1 L1047.8 2030.7 L1049.8 2031.2 L1051.8 2031.7 L1053.8 2032.2 L1055.8 2032.7 L1057.8 2033.2 L1059.8 2033.7 L1061.8 2034.2 L1063.8 2034.7 L1065.8 2035.2 L1067.8 2035.7 L1069.8 2036.2 L1071.8 2036.7 L1073.8 2037.2 L1075.8 2037.6 L1077.8 2038.1 L1079.8 2038.6 L1081.8 2039 L1083.8 2039.5 L1085.8 2039.9 L1087.8 2040.4 L1089.8 2040.8 L1091.8 2041.2 L1093.8 2041.7 L1095.8 2042.1 L1097.8 2042.5 L1099.8 2042.9 L1101.8 2043.3 L1103.8 2043.7 L1105.8 2044.1 L1107.8 2044.5 L1109.8 2044.9 L1111.8 2045.3 L1113.8 2045.6 L1115.8 2046 L1117.8 2046.4 L1119.8 2046.7 L1121.8 2047.1 L1123.8 2047.4 L1125.8 2047.7 L1127.8 2048.1 L1129.8 2048.4 L1131.8 2048.7 L1133.8 2049 L1135.8 2049.4 L1137.8 2049.7 L1139.8 2050 L1141.8 2050.3 L1143.8 2050.5 L1145.8 2050.8 L1147.8 2051.1 L1149.8 2051.4 L1151.8 2051.7 L1153.8 2051.9 L1155.8 2052.2 L1157.8 2052.4 L1159.8 2052.7 L1161.8 2052.9 L1163.8 2053.2 L1165.8 2053.4 L1167.8 2053.7 L1169.8 2053.9 L1171.8 2054.1 L1173.8 2054.3 L1175.8 2054.5 L1177.8 2054.8 L1179.8 2055 L1181.8 2055.2 L1183.8 2055.4 L1185.8 2055.6 L1187.8 2055.8 L1189.8 2056 L1191.8 2056.2 L1193.8 2056.3 L1195.8 2056.5 L1197.8 2056.7 L1199.8 2056.9 L1201.8 2057.1 L1203.8 2057.2 L1205.8 2057.4 L1207.8 2057.6 L1209.8 2057.7 L1211.8 2057.9 L1213.8 2058 L1215.8 2058.2 L1217.8 2058.4 L1219.8 2058.5 L1221.8 2058.7 L1223.8 2058.8 L1225.8 2058.9 L1227.8 2059.1 L1229.8 2059.2 L1231.8 2059.4 L1233.8 2059.5 L1235.8 2059.6 L1237.8 2059.8 L1239.8 2059.9 L1241.8 2060 L1243.8 2060.2 L1245.8 2060.3 L1247.8 2060.4 L1249.8 2060.6 L1251.8 2060.7 L1253.8 2060.8 L1255.8 2060.9 L1257.8 2061 L1259.8 2061.2 L1261.8 2061.3 L1263.8 2061.4 L1265.8 2061.5 L1267.8 2061.6 L1269.8 2061.7 L1271.8 2061.8 L1273.8 2062 L1275.8 2062.1 L1277.8 2062.2 L1279.8 2062.3 L1281.8 2062.4 L1283.8 2062.5 L1285.8 2062.6 L1287.8 2062.7 L1289.8 2062.8 L1291.8 2062.9 L1293.8 2063 L1295.8 2063.1 L1297.8 2063.2 L1299.8 2063.3 L1301.8 2063.4 L1303.8 2063.5 L1305.8 2063.6 L1307.8 2063.7 L1309.8 2063.8 L1311.8 2063.9 L1313.8 2064 L1315.8 2064.1 L1317.8 2064.2 L1319.8 2064.3 L1321.8 2064.4 L1323.8 2064.5 L1325.8 2064.6 L1327.8 2064.7 L1329.8 2064.8 L1331.8 2064.9 L1333.8 2065 L1335.8 2065.1 L1337.8 2065.2 L1339.8 2065.3 L1341.8 2065.4 L1343.8 2065.5 L1345.8 2065.5 L1347.8 2065.6 L1349.8 2065.7 L1351.8 2065.8 L1353.8 2065.9 L1355.8 2066 L1357.8 2066.1 L1359.8 2066.2 L1361.8 2066.3 L1363.8 2066.3 L1365.8 2066.4 L1367.8 2066.5 L1369.8 2066.6 L1371.8 2066.7 L1373.8 2066.8 L1375.8 2066.8 L1377.8 2066.9 L1379.8 2067 L1381.8 2067.1 L1383.8 2067.2 L1385.8 2067.2 L1387.8 2067.3 L1389.8 2067.4 L1391.8 2067.5 L1393.8 2067.6 L1395.8 2067.6 L1397.8 2067.7 L1399.8 2067.8 L1401.8 2067.9 L1403.8 2067.9 L1405.8 2068 L1407.8 2068.1 L1409.8 2068.2 L1411.8 2068.2 L1413.8 2068.3 L1415.8 2068.4 L1417.8 2068.4 L1419.8 2068.5 L1421.8 2068.6 L1423.8 2068.6 L1425.8 2068.7 L1427.8 2068.8 L1429.8 2068.8 L1431.8 2068.9 L1433.8 2069 L1435.8 2069 L1437.8 2069.1 L1439.8 2069.1 L1441.8 2069.2 L1443.8 2069.3 L1445.8 2069.3 L1447.8 2069.4 L1449.8 2069.4 L1451.8 2069.5 L1453.8 2069.5 L1455.8 2069.6 L1457.8 2069.6 L1459.8 2069.7 L1461.8 2069.7 L1463.8 2069.8 L1465.8 2069.8 L1467.8 2069.9 L1469.8 2069.9 L1471.8 2070 L1473.8 2070 L1475.8 2070.1 L1477.8 2070.1 L1479.8 2070.2 L1481.8 2070.2 L1483.8 2070.3 L1485.8 2070.3 L1487.8 2070.3 L1489.8 2070.4 L1491.8 2070.4 L1493.8 2070.5 L1495.8 2070.5 L1497.8 2070.5 L1499.8 2070.6 L1501.8 2070.6 L1503.8 2070.6 L1505.8 2070.7 L1507.8 2070.7 L1509.8 2070.8 L1511.8 2070.8 L1513.8 2070.8 L1515.8 2070.9 L1517.8 2070.9 L1519.8 2070.9 L1521.8 2071 L1523.8 2071 L1525.8 2071 L1527.8 2071 L1529.8 2071.1 L1531.8 2071.1 L1533.8 2071.1 L1535.8 2071.2 L1537.8 2071.2 L1539.8 2071.2 L1541.8 2071.3 L1543.8 2071.3 L1545.8 2071.3 L1547.8 2071.4 L1549.8 2071.4 L1551.8 2071.4 L1553.8 2071.4 L1555.8 2071.5 L1557.8 2071.5 L1559.8 2071.5 L1561.8 2071.6 L1563.8 2071.6 L1565.8 2071.6 L1567.8 2071.7 L1569.8 2071.7 L1571.8 2071.7 L1573.8 2071.8 L1575.8 2071.8 L1577.8 2071.8 L1579.8 2071.9 L1581.8 2071.9 L1583.8 2071.9 L1585.8 2072 L1587.8 2072 L1589.8 2072 L1591.8 2072.1 L1593.8 2072.1 L1595.8 2072.2 L1597.8 2072.2 L1599.8 2072.2 L1601.8 2072.3 L1603.8 2072.3 L1605.8 2072.4 L1607.8 2072.4 L1609.8 2072.5 L1611.8 2072.5 L1613.8 2072.5 L1615.8 2072.6 L1617.8 2072.6 L1619.8 2072.7 L1621.8 2072.7 L1623.8 2072.8 L1625.8 2072.8 L1627.8 2072.9 L1629.8 2072.9 L1631.8 2073 L1633.8 2073.1 L1635.8 2073.1 L1637.8 2073.2 L1639.8 2073.2 L1641.8 2073.3 L1643.8 2073.3 L1645.8 2073.4 L1647.8 2073.5 L1649.8 2073.5 L1651.8 2073.6" fill="none" stroke="#0000ff" stroke-width="9.5" stroke-linejoin="round" stroke-linecap="round"/>
<path d="M235.8 2073.5 L237.8 2073.1 L239.8 2072.7 L241.8 2072.2 L243.8 2071.8 L245.8 2071.2 L247.8 2070.7 L249.8 2070.1 L251.8 2069.4 L253.8 2068.8 L255.8 2068 L257.8 2067.3 L259.8 2066.4 L261.8 2065.6 L263.8 2064.6 L265.8 2063.7 L267.8 2062.6 L269.8 2061.5 L271.8 2060.3 L273.8 2059.1 L275.8 2057.8 L277.8 2056.4 L279.8 2055 L281.8 2053.4 L283.8 2051.8 L285.8 2050.1 L287.8 2048.3 L289.8 2046.4 L291.8 2044.5 L293.8 2042.4 L295.8 2040.2 L297.8 2038 L299.8 2035.6 L301.8 2033.1 L303.8 2030.5 L305.8 2027.8 L307.8 2025 L309.8 2022.1 L311.8 2019.1 L313.8 2015.9 L315.8 2012.7 L317.8 2009.3 L319.8 2005.8 L321.8 2002.1 L323.8 1998.3 L325.8 1994.5 L327.8 1990.4 L329.8 1986.3 L331.8 1982 L333.8 1977.6 L335.8 1973 L337.8 1968.4 L339.8 1963.6 L341.8 1958.7 L343.8 1953.6 L345.8 1948.5 L347.8 1943.2 L349.8 1937.8 L351.8 1932.3 L353.8 1926.8 L355.8 1921.1 L357.8 1915.4 L359.8 1909.6 L361.8 1903.8 L363.8 1897.9 L365.8 1892 L367.8 1886.1 L369.8 1880.2 L371.8 1874.4 L373.8 1868.6 L375.8 1862.9 L377.8 1857.2 L379.8 1851.7 L381.8 1846.3 L383.8 1841.1 L385.8 1836 L387.8 1831.1 L389.8 1826.4 L391.8 1821.9 L393.8 1817.7 L395.8 1813.7 L397.8 1809.9 L399.8 1806.4 L401.8 1803.2 L403.8 1800.2 L405.8 1797.6 L407.8 1795.2 L409.8 1793 L411.8 1791.2 L413.8 1789.6 L415.8 1788.2 L417.8 1787.2 L419.8 1786.3 L421.8 1785.7 L423.8 1785.4 L425.8 1785.2 L427.8 1785.3 L429.8 1785.6 L431.8 1786.1 L433.8 1786.7 L435.8 1787.6 L437.8 1788.6 L439.8 1789.7 L441.8 1791 L443.8 1792.5 L445.8 1794.1 L447.8 1795.9 L449.8 1797.7 L451.8 1799.7 L453.8 1801.8 L455.8 1804 L457.8 1806.3 L459.8 1808.8 L461.8 1811.3 L463.8 1813.9 L465.8 1816.5 L467.8 1819.3 L469.8 1822.1 L471.8 1824.9 L473.8 1827.9 L475.8 1830.8 L477.8 1833.8 L479.8 1836.8 L481.8 1839.9 L483.8 1843 L485.8 1846 L487.8 1849.1 L489.8 1852.2 L491.8 1855.2 L493.8 1858.2 L495.8 1861.2 L497.8 1864.2 L499.8 1867.1 L501.8 1869.9 L503.8 1872.7 L505.8 1875.4 L507.8 1878.1 L509.8 1880.6 L511.8 1883.1 L513.8 1885.5 L515.8 1887.9 L517.8 1890.1 L519.8 1892.2 L521.8 1894.3 L523.8 1896.2 L525.8 1898 L527.8 1899.7 L529.8 1901.4 L531.8 1902.9 L533.8 1904.3 L535.8 1905.6 L537.8 1906.8 L539.8 1907.9 L541.8 1908.8 L543.8 1909.7 L545.8 1910.5 L547.8 1911.2 L549.8 1911.8 L551.8 1912.3 L553.8 1912.7 L555.8 1913 L557.8 1913.3 L559.8 1913.4 L561.8 1913.5 L563.8 1913.5 L565.8 1913.5 L567.8 1913.4 L569.8 1913.2 L571.8 1913 L573.8 1912.7 L575.8 1912.4 L577.8 1912 L579.8 1911.6 L581.8 1911.2 L583.8 1910.8 L585.8 1910.3 L587.8 1909.8 L589.8 1909.3 L591.8 1908.8 L593.8 1908.3 L595.8 1907.8 L597.8 1907.2 L599.8 1906.7 L601.8 1906.2 L603.8 1905.7 L605.8 1905.3 L607.8 1904.8 L609.8 1904.4 L611.8 1904 L613.8 1903.6 L615.8 1903.3 L617.8 1903 L619.8 1902.7 L621.8 1902.5 L623.8 1902.3 L625.8 1902.2 L627.8 1902.1 L629.8 1902 L631.8 1902 L633.8 1902.1 L635.8 1902.2 L637.8 1902.4 L639.8 1902.6 L641.8 1902.8 L643.8 1903.1 L645.8 1903.5 L647.8 1903.9 L649.8 1904.4 L651.8 1904.9 L653.8 1905.5 L655.8 1906.1 L657.8 1906.8 L659.8 1907.5 L661.8 1908.3 L663.8 1909.1 L665.8 1910 L667.8 1911 L669.8 1911.9 L671.8 1913 L673.8 1914.1 L675.8 1915.2 L677.8 1916.3 L679.8 1917.5 L681.8 1918.8 L683.8 1920 L685.8 1921.4 L687.8 1922.7 L689.8 1924.1 L691.8 1925.5 L693.8 1926.9 L695.8 1928.4 L697.8 1929.9 L699.8 1931.4 L701.8 1932.9 L703.8 1934.5 L705.8 1936 L707.8 1937.6 L709.8 1939.2 L711.8 1940.8 L713.8 1942.5 L715.8 1944.1 L717.8 1945.7 L719.8 1947.4 L721.8 1949 L723.8 1950.6 L725.8 1952.3 L727.8 1953.9 L729.8 1955.5 L731.8 1957.1 L733.8 1958.8 L735.8 1960.4 L737.8 1961.9 L739.8 1963.5 L741.8 1965.1 L743.8 1966.6 L745.8 1968.2 L747.8 1969.7 L749.8 1971.2 L751.8 1972.6 L753.8 1974.1 L755.8 1975.5 L757.8 1976.9 L759.8 1978.3 L761.8 1979.6 L763.8 1981 L765.8 1982.3 L767.8 1983.5 L769.8 1984.8 L771.8 1986 L773.8 1987.2 L775.8 1988.3 L777.8 1989.5 L779.8 1990.6 L781.8 1991.6 L783.8 1992.7 L785.8 1993.7 L787.8 1994.6 L789.8 1995.6 L791.8 1996.5 L793.8 1997.4 L795.8 1998.3 L797.8 1999.1 L799.8 1999.9 L801.8 2000.6 L803.8 2001.4 L805.8 2002.1 L807.8 2002.8 L809.8 2003.4 L811.8 2004.1 L813.8 2004.7 L815.8 2005.3 L817.8 2005.8 L819.8 2006.3 L821.8 2006.8 L823.8 2007.3 L825.8 2007.8 L827.8 2008.2 L829.8 2008.7 L831.8 2009.1 L833.8 2009.4 L835.8 2009.8 L837.8 2010.1 L839.8 2010.5 L841.8 2010.8 L843.8 2011.1 L845.8 2011.4 L847.8 2011.6 L849.8 2011.9 L851.8 2012.2 L853.8 2012.4 L855.8 2012.6 L857.8 2012.8 L859.8 2013.1 L861.8 2013.3 L863.8 2013.4 L865.8 2013.6 L867.8 2013.8 L869.8 2014 L871.8 2014.2 L873.8 2014.4 L875.8 2014.5 L877.8 2014.7 L879.8 2014.9 L881.8 2015 L883.8 2015.2 L885.8 2015.4 L887.8 2015.5 L889.8 2015.7 L891.8 2015.9 L893.8 2016.1 L895.8 2016.2 L897.8 2016.4 L899.8 2016.6 L901.8 2016.8 L903.8 2017 L905.8 2017.2 L907.8 2017.4 L909.8 2017.6 L911.8 2017.8 L913.8 2018.1 L915.8 2018.3 L917.8 2018.5 L919.8 2018.8 L921.8 2019 L923.8 2019.3 L925.8 2019.5 L927.8 2019.8 L929.8 2020.1 L931.8 2020.4 L933.8 2020.7 L935.8 2020.9 L937.8 2021.3 L939.8 2021.6 L941.8 2021.9 L943.8 2022.2 L945.8 2022.5 L947.8 2022.9 L949.8 2023.2 L951.8 2023.6 L953.8 2023.9 L955.8 2024.3 L957.8 2024.7 L959.8 2025 L961.8 2025.4 L963.8 2025.8 L965.8 2026.2 L967.8 2026.6 L969.8 2027 L971.8 2027.4 L973.8 2027.8 L975.8 2028.2 L977.8 2028.6 L979.8 2029.1 L981.8 2029.5 L983.8 2029.9 L985.8 2030.3 L987.8 2030.8 L989.8 2031.2 L991.8 2031.6 L993.8 2032 L995.8 2032.5 L997.8 2032.9 L999.8 2033.3 L1001.8 2033.8 L1003.8 2034.2 L1005.8 2034.6 L1007.8 2035.1 L1009.8 2035.5 L1011.8 2035.9 L1013.8 2036.4 L1015.8 2036.8 L1017.8 2037.2 L1019.8 2037.7 L1021.8 2038.1 L1023.8 2038.5 L1025.8 2038.9 L1027.8 2039.3 L1029.8 2039.8 L1031.8 2040.2 L1033.8 2040.6 L1035.8 2041 L1037.8 2041.4 L1039.8 2041.8 L1041.8 2042.2 L1043.8 2042.5 L1045.8 2042.9 L1047.8 2043.3 L1049.8 2043.7 L1051.8 2044.1 L1053.8 2044.4 L1055.8 2044.8 L1057.8 2045.1 L1059.8 2045.5 L1061.8 2045.8 L1063.8 2046.2 L1065.8 2046.5 L1067.8 2046.9 L1069.8 2047.2 L1071.8 2047.5 L1073.8 2047.8 L1075.8 2048.1 L1077.8 2048.4 L1079.8 2048.8 L1081.8 2049 L1083.8 2049.3 L1085.8 2049.6 L1087.8 2049.9 L1089.8 2050.2 L1091.8 2050.5 L1093.8 2050.7 L1095.8 2051 L1097.8 2051.3 L1099.8 2051.5 L1101.8 2051.8 L1103.8 2052 L1105.8 2052.3 L1107.8 2052.5 L1109.8 2052.7 L1111.8 2053 L1113.8 2053.2 L1115.8 2053.4 L1117.8 2053.6 L1119.8 2053.9 L1121.8 2054.1 L1123.8 2054.3 L1125.8 2054.5 L1127.8 2054.7 L1129.8 2054.9 L1131.8 2055.1 L1133.8 2055.2 L1135.8 2055.4 L1137.8 2055.6 L1139.8 2055.8 L1141.8 2056 L1143.8 2056.2 L1145.8 2056.3 L1147.8 2056.5 L1149.8 2056.7 L1151.8 2056.8 L1153.8 2057 L1155.8 2057.1 L1157.8 2057.3 L1159.8 2057.5 L1161.8 2057.6 L1163.8 2057.8 L1165.8 2057.9 L1167.8 2058 L1169.8 2058.2 L1171.8 2058.3 L1173.8 2058.5 L1175.8 2058.6 L1177.8 2058.8 L1179.8 2058.9 L1181.8 2059 L1183.8 2059.2 L1185.8 2059.3 L1187.8 2059.4 L1189.8 2059.5 L1191.8 2059.7 L1193.8 2059.8 L1195.8 2059.9 L1197.8 2060.1 L1199.8 2060.2 L1201.8 2060.3 L1203.8 2060.4 L1205.8 2060.5 L1207.8 2060.7 L1209.8 2060.8 L1211.8 2060.9 L1213.8 2061 L1215.8 2061.1 L1217.8 2061.3 L1219.8 2061.4 L1221.8 2061.5 L1223.8 2061.6 L1225.8 2061.7 L1227.8 2061.8 L1229.8 2061.9 L1231.8 2062.1 L1233.8 2062.2 L1235.8 2062.3 L1237.8 2062.4 L1239.8 2062.5 L1241.8 2062.6 L1243.8 2062.7 L1245.8 2062.8 L1247.8 2062.9 L1249.8 2063 L1251.8 2063.2 L1253.8 2063.3 L1255.8 2063.4 L1257.8 2063.5 L1259.8 2063.6 L1261.8 2063.7 L1263.8 2063.8 L1265.8 2063.9 L1267.8 2064 L1269.8 2064.1 L1271.8 2064.2 L1273.8 2064.3 L1275.8 2064.4 L1277.8 2064.5 L1279.8 2064.6 L1281.8 2064.7 L1283.8 2064.9 L1285.8 2065 L1287.8 2065.1 L1289.8 2065.2 L1291.8 2065.3 L1293.8 2065.4 L1295.8 2065.5 L1297.8 2065.6 L1299.8 2065.7 L1301.8 2065.8 L1303.8 2065.9 L1305.8 2066 L1307.8 2066.1 L1309.8 2066.2 L1311.8 2066.3 L1313.8 2066.4 L1315.8 2066.5 L1317.8 2066.6 L1319.8 2066.7 L1321.8 2066.8 L1323.8 2066.9 L1325.8 2067 L1327.8 2067.1 L1329.8 2067.2 L1331.8 2067.2 L1333.8 2067.3 L1335.8 2067.4 L1337.8 2067.5 L1339.8 2067.6 L1341.8 2067.7 L1343.8 2067.8 L1345.8 2067.9 L1347.8 2068 L1349.8 2068.1 L1351.8 2068.2 L1353.8 2068.3 L1355.8 2068.4 L1357.8 2068.4 L1359.8 2068.5 L1361.8 2068.6 L1363.8 2068.7 L1365.8 2068.8 L1367.8 2068.9 L1369.8 2069 L1371.8 2069 L1373.8 2069.1 L1375.8 2069.2 L1377.8 2069.3 L1379.8 2069.4 L1381.8 2069.4 L1383.8 2069.5 L1385.8 2069.6 L1387.8 2069.7 L1389.8 2069.8 L1391.8 2069.8 L1393.8 2069.9 L1395.8 2070 L1397.8 2070.1 L1399.8 2070.1 L1401.8 2070.2 L1403.8 2070.3 L1405.8 2070.3 L1407.8 2070.4 L1409.8 2070.5 L1411.8 2070.5 L1413.8 2070.6 L1415.8 2070.7 L1417.8 2070.7 L1419.8 2070.8 L1421.8 2070.8 L1423.8 2070.9 L1425.8 2071 L1427.8 2071 L1429.8 2071.1 L1431.8 2071.1 L1433.8 2071.2 L1435.8 2071.2 L1437.8 2071.3 L1439.8 2071.4 L1441.8 2071.4 L1443.8 2071.5 L1445.8 2071.5 L1447.8 2071.6 L1449.8 2071.6 L1451.8 2071.6 L1453.8 2071.7 L1455.8 2071.7 L1457.8 2071.8 L1459.8 2071.8 L1461.8 2071.9 L1463.8 2071.9 L1465.8 2071.9 L1467.8 2072 L1469.8 2072 L1471.8 2072 L1473.8 2072.1 L1475.8 2072.1 L1477.8 2072.1 L1479.8 2072.2 L1481.8 2072.2 L1483.8 2072.2 L1485.8 2072.3 L1487.8 2072.3 L1489.8 2072.3 L1491.8 2072.3 L1493.8 2072.4 L1495.8 2072.4 L1497.8 2072.4 L1499.8 2072.4 L1501.8 2072.5 L1503.8 2072.5 L1505.8 2072.5 L1507.8 2072.5 L1509.8 2072.5 L1511.8 2072.6 L1513.8 2072.6 L1515.8 2072.6 L1517.8 2072.6 L1519.8 2072.6 L1521.8 2072.7 L1523.8 2072.7 L1525.8 2072.7 L1527.8 2072.7 L1529.8 2072.7 L1531.8 2072.7 L1533.8 2072.8 L1535.8 2072.8 L1537.8 2072.8 L1539.8 2072.8 L1541.8 2072.8 L1543.8 2072.8 L1545.8 2072.8 L1547.8 2072.9 L1549.8 2072.9 L1551.8 2072.9 L1553.8 2072.9 L1555.8 2072.9 L1557.8 2072.9 L1559.8 2073 L1561.8 2073 L1563.8 2073 L1565.8 2073 L1567.8 2073 L1569.8 2073 L1571.8 2073.1 L1573.8 2073.1 L1575.8 2073.1 L1577.8 2073.1 L1579.8 2073.1 L1581.8 2073.2 L1583.8 2073.2 L1585.8 2073.2 L1587.8 2073.2 L1589.8 2073.3 L1591.8 2073.3 L1593.8 2073.3 L1595.8 2073.3 L1597.8 2073.4 L1599.8 2073.4 L1601.8 2073.4 L1603.8 2073.5 L1605.8 2073.5 L1607.8 2073.5 L1609.8 2073.6 L1611.8 2073.6 L1613.8 2073.6 L1615.8 2073.7 L1617.8 2073.7 L1619.8 2073.7 L1621.8 2073.8 L1623.8 2073.8 L1625.8 2073.9 L1627.8 2073.9 L1629.8 2074 L1631.8 2074 L1633.8 2074.1 L1635.8 2074.1 L1637.8 2074.2 L1639.8 2074.2 L1641.8 2074.3 L1643.8 2074.3 L1645.8 2074.4 L1647.8 2074.4 L1649.8 2074.5 L1651.8 2074.5" fill="none" stroke="#00ffff" stroke-width="9.5" stroke-linejoin="round" stroke-linecap="round"/>
<path d="M239.9 2078.8 L241.9 2078.6 L243.9 2078.3 L245.9 2078.1 L247.9 2077.8 L249.9 2077.5 L251.9 2077.1 L253.9 2076.8 L255.9 2076.4 L257.9 2076 L259.9 2075.5 L261.9 2075 L263.9 2074.5 L265.9 2073.9 L267.9 2073.2 L269.9 2072.5 L271.9 2071.8 L273.9 2071 L275.9 2070.2 L277.9 2069.2 L279.9 2068.2 L281.9 2067.2 L283.9 2066 L285.9 2064.8 L287.9 2063.5 L289.9 2062.1 L291.9 2060.7 L293.9 2059.1 L295.9 2057.4 L297.9 2055.6 L299.9 2053.7 L301.9 2051.7 L303.9 2049.6 L305.9 2047.4 L307.9 2045.1 L309.9 2042.6 L311.9 2040 L313.9 2037.3 L315.9 2034.5 L317.9 2031.6 L319.9 2028.5 L321.9 2025.4 L323.9 2022.1 L325.9 2018.7 L327.9 2015.2 L329.9 2011.6 L331.9 2007.8 L333.9 2004 L335.9 2000.1 L337.9 1996.1 L339.9 1992.1 L341.9 1987.9 L343.9 1983.7 L345.9 1979.5 L347.9 1975.2 L349.9 1970.9 L351.9 1966.5 L353.9 1962.1 L355.9 1957.8 L357.9 1953.4 L359.9 1949.1 L361.9 1944.8 L363.9 1940.5 L365.9 1936.3 L367.9 1932.2 L369.9 1928.1 L371.9 1924.1 L373.9 1920.2 L375.9 1916.3 L377.9 1912.6 L379.9 1909 L381.9 1905.6 L383.9 1902.2 L385.9 1899 L387.9 1896 L389.9 1893.1 L391.9 1890.3 L393.9 1887.7 L395.9 1885.3 L397.9 1883 L399.9 1880.9 L401.9 1878.9 L403.9 1877.1 L405.9 1875.5 L407.9 1874.1 L409.9 1872.8 L411.9 1871.7 L413.9 1870.7 L415.9 1869.9 L417.9 1869.3 L419.9 1868.8 L421.9 1868.5 L423.9 1868.4 L425.9 1868.4 L427.9 1868.5 L429.9 1868.8 L431.9 1869.2 L433.9 1869.8 L435.9 1870.5 L437.9 1871.3 L439.9 1872.2 L441.9 1873.3 L443.9 1874.5 L445.9 1875.8 L447.9 1877.2 L449.9 1878.7 L451.9 1880.3 L453.9 1881.9 L455.9 1883.7 L457.9 1885.5 L459.9 1887.4 L461.9 1889.4 L463.9 1891.4 L465.9 1893.5 L467.9 1895.6 L469.9 1897.8 L471.9 1900 L473.9 1902.2 L475.9 1904.4 L477.9 1906.7 L479.9 1909 L481.9 1911.2 L483.9 1913.5 L485.9 1915.7 L487.9 1918 L489.9 1920.2 L491.9 1922.3 L493.9 1924.5 L495.9 1926.6 L497.9 1928.7 L499.9 1930.7 L501.9 1932.6 L503.9 1934.5 L505.9 1936.4 L507.9 1938.1 L509.9 1939.8 L511.9 1941.5 L513.9 1943 L515.9 1944.5 L517.9 1946 L519.9 1947.3 L521.9 1948.5 L523.9 1949.7 L525.9 1950.8 L527.9 1951.8 L529.9 1952.8 L531.9 1953.6 L533.9 1954.4 L535.9 1955.1 L537.9 1955.7 L539.9 1956.3 L541.9 1956.8 L543.9 1957.2 L545.9 1957.5 L547.9 1957.8 L549.9 1958 L551.9 1958.1 L553.9 1958.2 L555.9 1958.3 L557.9 1958.2 L559.9 1958.2 L561.9 1958.1 L563.9 1957.9 L565.9 1957.7 L567.9 1957.5 L569.9 1957.2 L571.9 1956.9 L573.9 1956.6 L575.9 1956.3 L577.9 1955.9 L579.9 1955.5 L581.9 1955.1 L583.9 1954.7 L585.9 1954.3 L587.9 1953.9 L589.9 1953.5 L591.9 1953.1 L593.9 1952.7 L595.9 1952.3 L597.9 1951.9 L599.9 1951.5 L601.9 1951.1 L603.9 1950.8 L605.9 1950.4 L607.9 1950.1 L609.9 1949.8 L611.9 1949.6 L613.9 1949.3 L615.9 1949.1 L617.9 1948.9 L619.9 1948.7 L621.9 1948.6 L623.9 1948.5 L625.9 1948.4 L627.9 1948.4 L629.9 1948.4 L631.9 1948.4 L633.9 1948.5 L635.9 1948.6 L637.9 1948.7 L639.9 1948.9 L641.9 1949.1 L643.9 1949.3 L645.9 1949.6 L647.9 1949.9 L649.9 1950.3 L651.9 1950.7 L653.9 1951.1 L655.9 1951.6 L657.9 1952.1 L659.9 1952.6 L661.9 1953.2 L663.9 1953.8 L665.9 1954.4 L667.9 1955.1 L669.9 1955.8 L671.9 1956.5 L673.9 1957.2 L675.9 1958 L677.9 1958.8 L679.9 1959.7 L681.9 1960.6 L683.9 1961.5 L685.9 1962.4 L687.9 1963.3 L689.9 1964.3 L691.9 1965.3 L693.9 1966.3 L695.9 1967.3 L697.9 1968.4 L699.9 1969.4 L701.9 1970.5 L703.9 1971.6 L705.9 1972.7 L707.9 1973.9 L709.9 1975 L711.9 1976.1 L713.9 1977.3 L715.9 1978.5 L717.9 1979.6 L719.9 1980.8 L721.9 1982 L723.9 1983.2 L725.9 1984.3 L727.9 1985.5 L729.9 1986.7 L731.9 1987.9 L733.9 1989.1 L735.9 1990.3 L737.9 1991.4 L739.9 1992.6 L741.9 1993.8 L743.9 1994.9 L745.9 1996.1 L747.9 1997.2 L749.9 1998.3 L751.9 1999.4 L753.9 2000.5 L755.9 2001.6 L757.9 2002.7 L759.9 2003.8 L761.9 2004.8 L763.9 2005.9 L765.9 2006.9 L767.9 2007.9 L769.9 2008.9 L771.9 2009.8 L773.9 2010.8 L775.9 2011.7 L777.9 2012.6 L779.9 2013.5 L781.9 2014.4 L783.9 2015.3 L785.9 2016.1 L787.9 2016.9 L789.9 2017.7 L791.9 2018.5 L793.9 2019.2 L795.9 2020 L797.9 2020.7 L799.9 2021.4 L801.9 2022.1 L803.9 2022.7 L805.9 2023.3 L807.9 2024 L809.9 2024.5 L811.9 2025.1 L813.9 2025.7 L815.9 2026.2 L817.9 2026.7 L819.9 2027.2 L821.9 2027.7 L823.9 2028.2 L825.9 2028.6 L827.9 2029 L829.9 2029.5 L831.9 2029.8 L833.9 2030.2 L835.9 2030.6 L837.9 2030.9 L839.9 2031.3 L841.9 2031.6 L843.9 2031.9 L845.9 2032.2 L847.9 2032.5 L849.9 2032.8 L851.9 2033 L853.9 2033.3 L855.9 2033.5 L857.9 2033.7 L859.9 2034 L861.9 2034.2 L863.9 2034.4 L865.9 2034.6 L867.9 2034.8 L869.9 2035 L871.9 2035.2 L873.9 2035.4 L875.9 2035.5 L877.9 2035.7 L879.9 2035.9 L881.9 2036 L883.9 2036.2 L885.9 2036.4 L887.9 2036.5 L889.9 2036.7 L891.9 2036.9 L893.9 2037 L895.9 2037.2 L897.9 2037.4 L899.9 2037.5 L901.9 2037.7 L903.9 2037.9 L905.9 2038.1 L907.9 2038.3 L909.9 2038.4 L911.9 2038.6 L913.9 2038.8 L915.9 2039 L917.9 2039.2 L919.9 2039.4 L921.9 2039.6 L923.9 2039.8 L925.9 2040 L927.9 2040.3 L929.9 2040.5 L931.9 2040.7 L933.9 2041 L935.9 2041.2 L937.9 2041.5 L939.9 2041.7 L941.9 2042 L943.9 2042.2 L945.9 2042.5 L947.9 2042.8 L949.9 2043.1 L951.9 2043.3 L953.9 2043.6 L955.9 2043.9 L957.9 2044.2 L959.9 2044.5 L961.9 2044.8 L963.9 2045.1 L965.9 2045.5 L967.9 2045.8 L969.9 2046.1 L971.9 2046.4 L973.9 2046.7 L975.9 2047.1 L977.9 2047.4 L979.9 2047.7 L981.9 2048.1 L983.9 2048.4 L985.9 2048.7 L987.9 2049.1 L989.9 2049.4 L991.9 2049.8 L993.9 2050.1 L995.9 2050.5 L997.9 2050.8 L999.9 2051.1 L1001.9 2051.5 L1003.9 2051.8 L1005.9 2052.2 L1007.9 2052.5 L1009.9 2052.8 L1011.9 2053.2 L1013.9 2053.5 L1015.9 2053.8 L1017.9 2054.2 L1019.9 2054.5 L1021.9 2054.8 L1023.9 2055.1 L1025.9 2055.5 L1027.9 2055.8 L1029.9 2056.1 L1031.9 2056.4 L1033.9 2056.7 L1035.9 2057 L1037.9 2057.3 L1039.9 2057.6 L1041.9 2057.9 L1043.9 2058.2 L1045.9 2058.5 L1047.9 2058.8 L1049.9 2059 L1051.9 2059.3 L1053.9 2059.6 L1055.9 2059.9 L1057.9 2060.1 L1059.9 2060.4 L1061.9 2060.6 L1063.9 2060.9 L1065.9 2061.1 L1067.9 2061.3 L1069.9 2061.6 L1071.9 2061.8 L1073.9 2062 L1075.9 2062.3 L1077.9 2062.5 L1079.9 2062.7 L1081.9 2062.9 L1083.9 2063.1 L1085.9 2063.3 L1087.9 2063.5 L1089.9 2063.7 L1091.9 2063.9 L1093.9 2064 L1095.9 2064.2 L1097.9 2064.4 L1099.9 2064.6 L1101.9 2064.7 L1103.9 2064.9 L1105.9 2065.1 L1107.9 2065.2 L1109.9 2065.4 L1111.9 2065.5 L1113.9 2065.7 L1115.9 2065.8 L1117.9 2066 L1119.9 2066.1 L1121.9 2066.2 L1123.9 2066.4 L1125.9 2066.5 L1127.9 2066.6 L1129.9 2066.7 L1131.9 2066.9 L1133.9 2067 L1135.9 2067.1 L1137.9 2067.2 L1139.9 2067.3 L1141.9 2067.4 L1143.9 2067.5 L1145.9 2067.7 L1147.9 2067.8 L1149.9 2067.9 L1151.9 2068 L1153.9 2068.1 L1155.9 2068.2 L1157.9 2068.3 L1159.9 2068.4 L1161.9 2068.4 L1163.9 2068.5 L1165.9 2068.6 L1167.9 2068.7 L1169.9 2068.8 L1171.9 2068.9 L1173.9 2069 L1175.9 2069.1 L1177.9 2069.2 L1179.9 2069.2 L1181.9 2069.3 L1183.9 2069.4 L1185.9 2069.5 L1187.9 2069.6 L1189.9 2069.7 L1191.9 2069.7 L1193.9 2069.8 L1195.9 2069.9 L1197.9 2070 L1199.9 2070.1 L1201.9 2070.1 L1203.9 2070.2 L1205.9 2070.3 L1207.9 2070.4 L1209.9 2070.4 L1211.9 2070.5 L1213.9 2070.6 L1215.9 2070.7 L1217.9 2070.7 L1219.9 2070.8 L1221.9 2070.9 L1223.9 2071 L1225.9 2071 L1227.9 2071.1 L1229.9 2071.2 L1231.9 2071.3 L1233.9 2071.3 L1235.9 2071.4 L1237.9 2071.5 L1239.9 2071.5 L1241.9 2071.6 L1243.9 2071.7 L1245.9 2071.8 L1247.9 2071.8 L1249.9 2071.9 L1251.9 2072 L1253.9 2072 L1255.9 2072.1 L1257.9 2072.2 L1259.9 2072.2 L1261.9 2072.3 L1263.9 2072.4 L1265.9 2072.4 L1267.9 2072.5 L1269.9 2072.6 L1271.9 2072.7 L1273.9 2072.7 L1275.9 2072.8 L1277.9 2072.9 L1279.9 2072.9 L1281.9 2073 L1283.9 2073.1 L1285.9 2073.1 L1287.9 2073.2 L1289.9 2073.3 L1291.9 2073.3 L1293.9 2073.4 L1295.9 2073.5 L1297.9 2073.5 L1299.9 2073.6 L1301.9 2073.7 L1303.9 2073.7 L1305.9 2073.8 L1307.9 2073.8 L1309.9 2073.9 L1311.9 2074 L1313.9 2074 L1315.9 2074.1 L1317.9 2074.2 L1319.9 2074.2 L1321.9 2074.3 L1323.9 2074.3 L1325.9 2074.4 L1327.9 2074.5 L1329.9 2074.5 L1331.9 2074.6 L1333.9 2074.6 L1335.9 2074.7 L1337.9 2074.8 L1339.9 2074.8 L1341.9 2074.9 L1343.9 2074.9 L1345.9 2075 L1347.9 2075.1 L1349.9 2075.1 L1351.9 2075.2 L1353.9 2075.2 L1355.9 2075.3 L1357.9 2075.3 L1359.9 2075.4 L1361.9 2075.4 L1363.9 2075.5 L1365.9 2075.5 L1367.9 2075.6 L1369.9 2075.6 L1371.9 2075.7 L1373.9 2075.7 L1375.9 2075.8 L1377.9 2075.8 L1379.9 2075.9 L1381.9 2075.9 L1383.9 2076 L1385.9 2076 L1387.9 2076.1 L1389.9 2076.1 L1391.9 2076.2 L1393.9 2076.2 L1395.9 2076.3 L1397.9 2076.3 L1399.9 2076.3 L1401.9 2076.4 L1403.9 2076.4 L1405.9 2076.5 L1407.9 2076.5 L1409.9 2076.5 L1411.9 2076.6 L1413.9 2076.6 L1415.9 2076.7 L1417.9 2076.7 L1419.9 2076.7 L1421.9 2076.8 L1423.9 2076.8 L1425.9 2076.8 L1427.9 2076.9 L1429.9 2076.9 L1431.9 2076.9 L1433.9 2077 L1435.9 2077 L1437.9 2077 L1439.9 2077.1 L1441.9 2077.1 L1443.9 2077.1 L1445.9 2077.1 L1447.9 2077.2 L1449.9 2077.2 L1451.9 2077.2 L1453.9 2077.2 L1455.9 2077.3 L1457.9 2077.3 L1459.9 2077.3 L1461.9 2077.3 L1463.9 2077.3 L1465.9 2077.4 L1467.9 2077.4 L1469.9 2077.4 L1471.9 2077.4 L1473.9 2077.4 L1475.9 2077.4 L1477.9 2077.5 L1479.9 2077.5 L1481.9 2077.5 L1483.9 2077.5 L1485.9 2077.5 L1487.9 2077.5 L1489.9 2077.5 L1491.9 2077.6 L1493.9 2077.6 L1495.9 2077.6 L1497.9 2077.6 L1499.9 2077.6 L1501.9 2077.6 L1503.9 2077.6 L1505.9 2077.6 L1507.9 2077.6 L1509.9 2077.6 L1511.9 2077.6 L1513.9 2077.7 L1515.9 2077.7 L1517.9 2077.7 L1519.9 2077.7 L1521.9 2077.7 L1523.9 2077.7 L1525.9 2077.7 L1527.9 2077.7 L1529.9 2077.7 L1531.9 2077.7 L1533.9 2077.7 L1535.9 2077.7 L1537.9 2077.7 L1539.9 2077.7 L1541.9 2077.7 L1543.9 2077.7 L1545.9 2077.7 L1547.9 2077.7 L1549.9 2077.7 L1551.9 2077.7 L1553.9 2077.7 L1555.9 2077.8 L1557.9 2077.8 L1559.9 2077.8 L1561.9 2077.8 L1563.9 2077.8 L1565.9 2077.8 L1567.9 2077.8 L1569.9 2077.8 L1571.9 2077.8 L1573.9 2077.8 L1575.9 2077.8 L1577.9 2077.8 L1579.9 2077.8 L1581.9 2077.8 L1583.9 2077.8 L1585.9 2077.8 L1587.9 2077.9 L1589.9 2077.9 L1591.9 2077.9 L1593.9 2077.9 L1595.9 2077.9 L1597.9 2077.9 L1599.9 2077.9 L1601.9 2077.9 L1603.9 2078 L1605.9 2078 L1607.9 2078 L1609.9 2078 L1611.9 2078 L1613.9 2078 L1615.9 2078 L1617.9 2078.1 L1619.9 2078.1 L1621.9 2078.1 L1623.9 2078.1 L1625.9 2078.1 L1627.9 2078.2 L1629.9 2078.2 L1631.9 2078.2 L1633.9 2078.2 L1635.9 2078.3 L1637.9 2078.3 L1639.9 2078.3 L1641.9 2078.3 L1643.9 2078.4 L1645.9 2078.4 L1647.9 2078.4 L1649.9 2078.4 L1651.9 2078.5" fill="none" stroke="#880088" stroke-width="9.5" stroke-linejoin="round" stroke-linecap="round"/>
</g>
<text x="197.6" y="1028.7" font-family="'Liberation Sans', Arial, Helvetica, sans-serif" font-size="64" font-weight="bold" text-anchor="end" fill="#000">0.0</text>
<text x="197.6" y="747.3" font-family="'Liberation Sans', Arial, Helvetica, sans-serif" font-size="64" font-weight="bold" text-anchor="end" fill="#000">0.4</text>
<text x="197.6" y="465.9" font-family="'Liberation Sans', Arial, Helvetica, sans-serif" font-size="64" font-weight="bold" text-anchor="end" fill="#000">0.8</text>
<text x="197.6" y="184.5" font-family="'Liberation Sans', Arial, Helvetica, sans-serif" font-size="64" font-weight="bold" text-anchor="end" fill="#000">1.2</text>
<text x="347.3" y="1080" font-family="'Liberation Sans', Arial, Helvetica, sans-serif" font-size="64" font-weight="bold" text-anchor="middle" fill="#000">350</text>
<text x="675.1" y="1080" font-family="'Liberation Sans', Arial, Helvetica, sans-serif" font-size="64" font-weight="bold" text-anchor="middle" fill="#000">400</text>
<text x="1002.9" y="1080" font-family="'Liberation Sans', Arial, Helvetica, sans-serif" font-size="64" font-weight="bold" text-anchor="middle" fill="#000">450</text>
<text x="1330.7" y="1080" font-family="'Liberation Sans', Arial, Helvetica, sans-serif" font-size="64" font-weight="bold" text-anchor="middle" fill="#000">500</text>
<text x="1658.5" y="1080" font-family="'Liberation Sans', Arial, Helvetica, sans-serif" font-size="64" font-weight="bold" text-anchor="middle" fill="#000">550</text>
<text x="0" y="0" font-family="'Liberation Sans', Arial, Helvetica, sans-serif" font-size="72" font-weight="bold" text-anchor="middle" fill="#000" transform="translate(92.7 544.3) rotate(-90)">Absorbance</text>
<text x="236" y="115" font-family="'Liberation Sans', Arial, Helvetica, sans-serif" font-size="80" font-weight="bold" text-anchor="start" fill="#000">(A)</text>
<line x1="341.2" y1="533" x2="341.2" y2="250" stroke="#0000ff" stroke-width="8" stroke-linecap="round"/>
<path d="M341.2 216.5 L353.4 257 L341.2 252 L329 257 Z" fill="#0000ff" stroke="#0000ff" stroke-width="1.5" stroke-linejoin="round"/>
<text x="343.1" y="213" font-family="'Liberation Sans', Arial, Helvetica, sans-serif" font-size="64" font-weight="bold" text-anchor="start" fill="#000">0.24M</text>
<text x="340.8" y="603" font-family="'Liberation Sans', Arial, Helvetica, sans-serif" font-size="64" font-weight="bold" text-anchor="middle" fill="#000">0</text>
<text x="294.2" y="918.5" font-family="'Liberation Sans', Arial, Helvetica, sans-serif" font-size="59" font-weight="bold" text-anchor="start" fill="#000">[DCB]= 0.24M</text>
<line x1="563.5" y1="939.5" x2="356" y2="972.5" stroke="#000000" stroke-width="4.2" stroke-linecap="round"/>
<path d="M343.5 975.5 L381 958.5 L372.5 972 L382.5 981.5 Z" fill="#000" stroke="#000" stroke-width="2" stroke-linejoin="round"/>
<text x="193.3" y="2102.6" font-family="'Liberation Sans', Arial, Helvetica, sans-serif" font-size="64" font-weight="bold" text-anchor="end" fill="#000">0.0</text>
<text x="193.3" y="1903.2" font-family="'Liberation Sans', Arial, Helvetica, sans-serif" font-size="64" font-weight="bold" text-anchor="end" fill="#000">2.0</text>
<text x="193.3" y="1703.8" font-family="'Liberation Sans', Arial, Helvetica, sans-serif" font-size="64" font-weight="bold" text-anchor="end" fill="#000">4.0</text>
<text x="193.3" y="1504.4" font-family="'Liberation Sans', Arial, Helvetica, sans-serif" font-size="64" font-weight="bold" text-anchor="end" fill="#000">6.0</text>
<text x="193.3" y="1305" font-family="'Liberation Sans', Arial, Helvetica, sans-serif" font-size="64" font-weight="bold" text-anchor="end" fill="#000">8.0</text>
<text x="212" y="2150.8" font-family="'Liberation Sans', Arial, Helvetica, sans-serif" font-size="64" font-weight="bold" text-anchor="middle" fill="#000">400</text>
<text x="662.5" y="2150.8" font-family="'Liberation Sans', Arial, Helvetica, sans-serif" font-size="64" font-weight="bold" text-anchor="middle" fill="#000">450</text>
<text x="1113" y="2150.8" font-family="'Liberation Sans', Arial, Helvetica, sans-serif" font-size="64" font-weight="bold" text-anchor="middle" fill="#000">500</text>
<text x="1563.5" y="2150.8" font-family="'Liberation Sans', Arial, Helvetica, sans-serif" font-size="64" font-weight="bold" text-anchor="middle" fill="#000">550</text>
<text x="913.7" y="2226.8" font-family="'Liberation Sans', Arial, Helvetica, sans-serif" font-size="70" font-weight="bold" text-anchor="middle" fill="#000">Wavelength (nm)</text>
<text transform="translate(90.8 1897.3) rotate(-90)" font-family="'Liberation Sans', Arial, Helvetica, sans-serif" font-size="71" font-weight="bold" fill="#000">Intensity x 10<tspan dy="-24.5">6</tspan><tspan dy="24.5"> (cps)</tspan></text>
<text x="240" y="1180.3" font-family="'Liberation Sans', Arial, Helvetica, sans-serif" font-size="80" font-weight="bold" text-anchor="start" fill="#000">(B)</text>
<text x="630.9" y="1160.2" font-family="'Liberation Sans', Arial, Helvetica, sans-serif" font-size="62" font-weight="bold" text-anchor="middle" fill="#000">0</text>
<line x1="632.6" y1="1171" x2="632.6" y2="1330" stroke="#0000ff" stroke-width="7.5" stroke-linecap="round"/>
<path d="M632.6 1359.3 L644.5 1319.5 L632.6 1325 L620.7 1319.5 Z" fill="#0000ff" stroke="#0000ff" stroke-width="1.5" stroke-linejoin="round"/>
<text x="566.9" y="1429.6" font-family="'Liberation Sans', Arial, Helvetica, sans-serif" font-size="64" font-weight="bold" text-anchor="start" fill="#000">0.24M</text>
<rect x="970" y="452" width="666.7" height="405.5" fill="#fff" stroke="none"/>
<line x1="1048" y1="822.5" x2="1584.8" y2="503.8" stroke="#0000ff" stroke-width="8" stroke-linecap="round"/>
<circle cx="1049.6" cy="807.7" r="23" fill="#00ff00" stroke="#ff0000" stroke-width="7.5"/>
<circle cx="1156.2" cy="761.9" r="23" fill="#00ff00" stroke="#ff0000" stroke-width="7.5"/>
<circle cx="1289.5" cy="689.5" r="23" fill="#00ff00" stroke="#ff0000" stroke-width="7.5"/>
<circle cx="1449.5" cy="600" r="23" fill="#00ff00" stroke="#ff0000" stroke-width="7.5"/>
<circle cx="1582.9" cy="487.1" r="23" fill="#00ff00" stroke="#ff0000" stroke-width="7.5"/>
<line x1="1048" y1="822.5" x2="1584.8" y2="503.8" stroke="#0000ff" stroke-width="8" stroke-linecap="round"/>
<rect x="970" y="452" width="666.7" height="405.5" fill="none" stroke="#000" stroke-width="8.5" stroke-linejoin="miter"/>
<line x1="970" y1="831.6" x2="981" y2="831.6" stroke="#000" stroke-width="8" stroke-linecap="round"/>
<line x1="970" y1="777.3" x2="977" y2="777.3" stroke="#000" stroke-width="8" stroke-linecap="round"/>
<line x1="970" y1="723" x2="981" y2="723" stroke="#000" stroke-width="8" stroke-linecap="round"/>
<line x1="970" y1="668.7" x2="977" y2="668.7" stroke="#000" stroke-width="8" stroke-linecap="round"/>
<line x1="970" y1="614.4" x2="981" y2="614.4" stroke="#000" stroke-width="8" stroke-linecap="round"/>
<line x1="970" y1="560.1" x2="977" y2="560.1" stroke="#000" stroke-width="8" stroke-linecap="round"/>
<line x1="970" y1="505.8" x2="981" y2="505.8" stroke="#000" stroke-width="8" stroke-linecap="round"/>
<line x1="1104.3" y1="857.5" x2="1104.3" y2="851.5" stroke="#000" stroke-width="8" stroke-linecap="round"/>
<line x1="1237.7" y1="857.5" x2="1237.7" y2="848" stroke="#000" stroke-width="8" stroke-linecap="round"/>
<line x1="1371" y1="857.5" x2="1371" y2="851.5" stroke="#000" stroke-width="8" stroke-linecap="round"/>
<line x1="1504.4" y1="857.5" x2="1504.4" y2="848" stroke="#000" stroke-width="8" stroke-linecap="round"/>
<text x="961" y="845.3" font-family="'Liberation Sans', Arial, Helvetica, sans-serif" font-size="45" font-weight="bold" text-anchor="end" fill="#000">1</text>
<text x="961" y="736.7" font-family="'Liberation Sans', Arial, Helvetica, sans-serif" font-size="45" font-weight="bold" text-anchor="end" fill="#000">2</text>
<text x="961" y="628.1" font-family="'Liberation Sans', Arial, Helvetica, sans-serif" font-size="45" font-weight="bold" text-anchor="end" fill="#000">3</text>
<text x="961" y="519.5" font-family="'Liberation Sans', Arial, Helvetica, sans-serif" font-size="45" font-weight="bold" text-anchor="end" fill="#000">4</text>
<text x="975.5" y="906" font-family="'Liberation Sans', Arial, Helvetica, sans-serif" font-size="45" font-weight="bold" text-anchor="middle" fill="#000">0.0</text>
<text x="1242.2" y="906" font-family="'Liberation Sans', Arial, Helvetica, sans-serif" font-size="45" font-weight="bold" text-anchor="middle" fill="#000">0.1</text>
<text x="1508.9" y="906" font-family="'Liberation Sans', Arial, Helvetica, sans-serif" font-size="45" font-weight="bold" text-anchor="middle" fill="#000">0.2</text>
<text x="1303.5" y="959.8" font-family="'Liberation Sans', Arial, Helvetica, sans-serif" font-size="56" font-weight="bold" text-anchor="middle" fill="#000">Concentration (M)</text>
<text transform="translate(914.3 698) rotate(-90) scale(0.95 1)" font-family="'Liberation Sans', Arial, Helvetica, sans-serif" font-size="58" font-weight="bold" fill="#000">F<tspan dy="13">0</tspan><tspan dy="-13">/F</tspan></text>
<text x="1006.1" y="503.5" font-family="'Liberation Sans', Arial, Helvetica, sans-serif" font-size="46" font-weight="bold" fill="#000">K<tspan font-size="27.5" dy="16">SV</tspan><tspan dy="-16">= 14.51</tspan></text>
<text x="1006.1" y="582.4" font-family="'Liberation Sans', Arial, Helvetica, sans-serif" font-size="46" font-weight="bold" fill="#000">K<tspan font-size="28" dy="15">q</tspan><tspan dy="-15">= 3.37x10</tspan><tspan font-size="28.5" dy="-22">10</tspan></text>
<rect x="970.5" y="1195" width="666.5" height="407" fill="#fff" stroke="none"/>
<line x1="970.5" y1="1589.5" x2="981" y2="1589.5" stroke="#000" stroke-width="8" stroke-linecap="round"/>
<line x1="970.5" y1="1506" x2="977" y2="1506" stroke="#000" stroke-width="8" stroke-linecap="round"/>
<line x1="970.5" y1="1422.6" x2="981" y2="1422.6" stroke="#000" stroke-width="8" stroke-linecap="round"/>
<line x1="970.5" y1="1339.2" x2="977" y2="1339.2" stroke="#000" stroke-width="8" stroke-linecap="round"/>
<line x1="970.5" y1="1255.7" x2="981" y2="1255.7" stroke="#000" stroke-width="8" stroke-linecap="round"/>
<line x1="1076.7" y1="1602" x2="1076.7" y2="1597" stroke="#000" stroke-width="8" stroke-linecap="round"/>
<line x1="1136.2" y1="1602" x2="1136.2" y2="1593.5" stroke="#000" stroke-width="8" stroke-linecap="round"/>
<line x1="1195.7" y1="1602" x2="1195.7" y2="1597" stroke="#000" stroke-width="8" stroke-linecap="round"/>
<line x1="1255.2" y1="1602" x2="1255.2" y2="1593.5" stroke="#000" stroke-width="8" stroke-linecap="round"/>
<line x1="1314.7" y1="1602" x2="1314.7" y2="1597" stroke="#000" stroke-width="8" stroke-linecap="round"/>
<line x1="1374.2" y1="1602" x2="1374.2" y2="1593.5" stroke="#000" stroke-width="8" stroke-linecap="round"/>
<line x1="1433.7" y1="1602" x2="1433.7" y2="1597" stroke="#000" stroke-width="8" stroke-linecap="round"/>
<line x1="1493.2" y1="1602" x2="1493.2" y2="1593.5" stroke="#000" stroke-width="8" stroke-linecap="round"/>
<line x1="1552.7" y1="1602" x2="1552.7" y2="1597" stroke="#000" stroke-width="8" stroke-linecap="round"/>
<line x1="1612.2" y1="1602" x2="1612.2" y2="1593.5" stroke="#000" stroke-width="8" stroke-linecap="round"/>
<g clip-path="url(#clipIB)">
<circle cx="972" cy="1577" r="25.5" fill="#00ff00" stroke="#d2321e" stroke-width="2"/>
<circle cx="981.5" cy="1587.4" r="25.5" fill="#00ff00" stroke="#d2321e" stroke-width="2"/>
<circle cx="993.4" cy="1593.7" r="25.5" fill="#00ff00" stroke="#d2321e" stroke-width="2"/>
<circle cx="1000.5" cy="1581.2" r="25.5" fill="#00ff00" stroke="#d2321e" stroke-width="2"/>
<circle cx="1010.1" cy="1551.9" r="25.5" fill="#00ff00" stroke="#d2321e" stroke-width="2"/>
<circle cx="1024.3" cy="1506" r="25.5" fill="#00ff00" stroke="#d2321e" stroke-width="2"/>
<circle cx="1035" cy="1418.4" r="25.5" fill="#00ff00" stroke="#d2321e" stroke-width="2"/>
<circle cx="1045.8" cy="1326.6" r="25.5" fill="#00ff00" stroke="#d2321e" stroke-width="2"/>
<circle cx="1052.9" cy="1293.3" r="25.5" fill="#00ff00" stroke="#d2321e" stroke-width="2"/>
<circle cx="1060" cy="1272.4" r="25.5" fill="#00ff00" stroke="#d2321e" stroke-width="2"/>
<circle cx="1069.6" cy="1255.7" r="25.5" fill="#00ff00" stroke="#d2321e" stroke-width="2"/>
<circle cx="1079.1" cy="1247.4" r="25.5" fill="#00ff00" stroke="#d2321e" stroke-width="2"/>
<circle cx="1083.8" cy="1278.6" r="25.5" fill="#00ff00" stroke="#d2321e" stroke-width="2"/>
<circle cx="1098.1" cy="1314.1" r="25.5" fill="#00ff00" stroke="#d2321e" stroke-width="2"/>
<circle cx="1105.3" cy="1280.7" r="25.5" fill="#00ff00" stroke="#d2321e" stroke-width="2"/>
<circle cx="1119.5" cy="1297.4" r="25.5" fill="#00ff00" stroke="#d2321e" stroke-width="2"/>
<circle cx="1126.7" cy="1315.7" r="25.5" fill="#00ff00" stroke="#d2321e" stroke-width="2"/>
<circle cx="1134.8" cy="1351.2" r="25.5" fill="#00ff00" stroke="#d2321e" stroke-width="2"/>
<circle cx="1142.9" cy="1349.2" r="25.5" fill="#00ff00" stroke="#d2321e" stroke-width="2"/>
<circle cx="1151" cy="1383.8" r="25.5" fill="#00ff00" stroke="#d2321e" stroke-width="2"/>
<circle cx="1159" cy="1380.5" r="25.5" fill="#00ff00" stroke="#d2321e" stroke-width="2"/>
<circle cx="1167.1" cy="1413.8" r="25.5" fill="#00ff00" stroke="#d2321e" stroke-width="2"/>
<circle cx="1175.2" cy="1409.4" r="25.5" fill="#00ff00" stroke="#d2321e" stroke-width="2"/>
<circle cx="1183.3" cy="1439.1" r="25.5" fill="#00ff00" stroke="#d2321e" stroke-width="2"/>
<circle cx="1191.4" cy="1432.3" r="25.5" fill="#00ff00" stroke="#d2321e" stroke-width="2"/>
<circle cx="1199.5" cy="1459.9" r="25.5" fill="#00ff00" stroke="#d2321e" stroke-width="2"/>
<circle cx="1207.6" cy="1451.8" r="25.5" fill="#00ff00" stroke="#d2321e" stroke-width="2"/>
<circle cx="1215.7" cy="1476.4" r="25.5" fill="#00ff00" stroke="#d2321e" stroke-width="2"/>
<circle cx="1223.8" cy="1466.9" r="25.5" fill="#00ff00" stroke="#d2321e" stroke-width="2"/>
<circle cx="1231.9" cy="1495.8" r="25.5" fill="#00ff00" stroke="#d2321e" stroke-width="2"/>
<circle cx="1240" cy="1483" r="25.5" fill="#00ff00" stroke="#d2321e" stroke-width="2"/>
<circle cx="1248.1" cy="1506.3" r="25.5" fill="#00ff00" stroke="#d2321e" stroke-width="2"/>
<circle cx="1256.2" cy="1493" r="25.5" fill="#00ff00" stroke="#d2321e" stroke-width="2"/>
<circle cx="1264.2" cy="1521.5" r="25.5" fill="#00ff00" stroke="#d2321e" stroke-width="2"/>
<circle cx="1272.3" cy="1504.1" r="25.5" fill="#00ff00" stroke="#d2321e" stroke-width="2"/>
<circle cx="1280.4" cy="1528.8" r="25.5" fill="#00ff00" stroke="#d2321e" stroke-width="2"/>
<circle cx="1288.5" cy="1511.4" r="25.5" fill="#00ff00" stroke="#d2321e" stroke-width="2"/>
<circle cx="1296.6" cy="1535.7" r="25.5" fill="#00ff00" stroke="#d2321e" stroke-width="2"/>
<circle cx="1304.7" cy="1520" r="25.5" fill="#00ff00" stroke="#d2321e" stroke-width="2"/>
<circle cx="1312.8" cy="1544.4" r="25.5" fill="#00ff00" stroke="#d2321e" stroke-width="2"/>
<circle cx="1320.9" cy="1530.5" r="25.5" fill="#00ff00" stroke="#d2321e" stroke-width="2"/>
<circle cx="1329" cy="1546.7" r="25.5" fill="#00ff00" stroke="#d2321e" stroke-width="2"/>
<circle cx="1337.1" cy="1539.3" r="25.5" fill="#00ff00" stroke="#d2321e" stroke-width="2"/>
<circle cx="1345.2" cy="1554.3" r="25.5" fill="#00ff00" stroke="#d2321e" stroke-width="2"/>
<circle cx="1353.3" cy="1544.8" r="25.5" fill="#00ff00" stroke="#d2321e" stroke-width="2"/>
<circle cx="1361.3" cy="1558.4" r="25.5" fill="#00ff00" stroke="#d2321e" stroke-width="2"/>
<circle cx="1369.4" cy="1547.8" r="25.5" fill="#00ff00" stroke="#d2321e" stroke-width="2"/>
<circle cx="1377.5" cy="1561.9" r="25.5" fill="#00ff00" stroke="#d2321e" stroke-width="2"/>
<circle cx="1385.6" cy="1551.9" r="25.5" fill="#00ff00" stroke="#d2321e" stroke-width="2"/>
<circle cx="1393.7" cy="1564.5" r="25.5" fill="#00ff00" stroke="#d2321e" stroke-width="2"/>
<circle cx="1401.8" cy="1556.7" r="25.5" fill="#00ff00" stroke="#d2321e" stroke-width="2"/>
<circle cx="1409.9" cy="1568" r="25.5" fill="#00ff00" stroke="#d2321e" stroke-width="2"/>
<circle cx="1418" cy="1557.6" r="25.5" fill="#00ff00" stroke="#d2321e" stroke-width="2"/>
<circle cx="1426.1" cy="1571.2" r="25.5" fill="#00ff00" stroke="#d2321e" stroke-width="2"/>
<circle cx="1434.2" cy="1561.2" r="25.5" fill="#00ff00" stroke="#d2321e" stroke-width="2"/>
<circle cx="1442.3" cy="1574" r="25.5" fill="#00ff00" stroke="#d2321e" stroke-width="2"/>
<circle cx="1450.4" cy="1564.8" r="25.5" fill="#00ff00" stroke="#d2321e" stroke-width="2"/>
<circle cx="1458.5" cy="1573.3" r="25.5" fill="#00ff00" stroke="#d2321e" stroke-width="2"/>
<circle cx="1466.5" cy="1566" r="25.5" fill="#00ff00" stroke="#d2321e" stroke-width="2"/>
<circle cx="1474.6" cy="1575.8" r="25.5" fill="#00ff00" stroke="#d2321e" stroke-width="2"/>
<circle cx="1482.7" cy="1568.6" r="25.5" fill="#00ff00" stroke="#d2321e" stroke-width="2"/>
<circle cx="1490.8" cy="1577" r="25.5" fill="#00ff00" stroke="#d2321e" stroke-width="2"/>
<circle cx="1498.9" cy="1569.4" r="25.5" fill="#00ff00" stroke="#d2321e" stroke-width="2"/>
<circle cx="1507" cy="1578.8" r="25.5" fill="#00ff00" stroke="#d2321e" stroke-width="2"/>
<circle cx="1515.1" cy="1570.2" r="25.5" fill="#00ff00" stroke="#d2321e" stroke-width="2"/>
<circle cx="1523.2" cy="1578.7" r="25.5" fill="#00ff00" stroke="#d2321e" stroke-width="2"/>
<circle cx="1531.3" cy="1570.7" r="25.5" fill="#00ff00" stroke="#d2321e" stroke-width="2"/>
<circle cx="1539.4" cy="1579.3" r="25.5" fill="#00ff00" stroke="#d2321e" stroke-width="2"/>
<circle cx="1547.5" cy="1572.6" r="25.5" fill="#00ff00" stroke="#d2321e" stroke-width="2"/>
<circle cx="1555.6" cy="1581.4" r="25.5" fill="#00ff00" stroke="#d2321e" stroke-width="2"/>
<circle cx="1563.6" cy="1573.9" r="25.5" fill="#00ff00" stroke="#d2321e" stroke-width="2"/>
<circle cx="1571.7" cy="1581.6" r="25.5" fill="#00ff00" stroke="#d2321e" stroke-width="2"/>
<circle cx="1579.8" cy="1574.8" r="25.5" fill="#00ff00" stroke="#d2321e" stroke-width="2"/>
<circle cx="1587.9" cy="1582.5" r="25.5" fill="#00ff00" stroke="#d2321e" stroke-width="2"/>
<circle cx="1596" cy="1573.9" r="25.5" fill="#00ff00" stroke="#d2321e" stroke-width="2"/>
<circle cx="1604.1" cy="1582.8" r="25.5" fill="#00ff00" stroke="#d2321e" stroke-width="2"/>
<circle cx="1612.2" cy="1574.2" r="25.5" fill="#00ff00" stroke="#d2321e" stroke-width="2"/>
<circle cx="1620.3" cy="1582.8" r="25.5" fill="#00ff00" stroke="#d2321e" stroke-width="2"/>
<circle cx="1628.4" cy="1574.9" r="25.5" fill="#00ff00" stroke="#d2321e" stroke-width="2"/>
<circle cx="1636.5" cy="1583.7" r="25.5" fill="#00ff00" stroke="#d2321e" stroke-width="2"/>
<circle cx="1644.6" cy="1575.5" r="25.5" fill="#00ff00" stroke="#d2321e" stroke-width="2"/>
<path d="M964.8 1586.8 L966 1586.7 L967.2 1586.5 L968.4 1586.3 L969.6 1586.1 L970.8 1585.9 L972 1585.6 L973.2 1585.3 L974.4 1585 L975.6 1584.6 L976.7 1584.2 L977.9 1583.7 L979.1 1583.2 L980.3 1582.6 L981.5 1582 L982.7 1581.3 L983.9 1580.5 L985.1 1579.7 L986.3 1578.7 L987.5 1577.7 L988.6 1576.6 L989.8 1575.4 L991 1574.1 L992.2 1572.7 L993.4 1571.1 L994.6 1569.5 L995.8 1567.7 L997 1565.7 L998.2 1563.6 L999.4 1561.4 L1000.5 1559 L1001.7 1556.4 L1002.9 1553.7 L1004.1 1550.8 L1005.3 1547.7 L1006.5 1544.4 L1007.7 1541 L1008.9 1537.3 L1010.1 1533.5 L1011.2 1529.4 L1012.4 1525.2 L1013.6 1520.7 L1014.8 1516.1 L1016 1511.3 L1017.2 1506.2 L1018.4 1501 L1019.6 1495.5 L1020.8 1489.9 L1022 1484.1 L1023.2 1478.2 L1024.3 1472 L1025.5 1465.7 L1026.7 1459.3 L1027.9 1452.7 L1029.1 1446 L1030.3 1439.2 L1031.5 1432.3 L1032.7 1425.3 L1033.9 1418.2 L1035 1411.1 L1036.2 1404 L1037.4 1396.8 L1038.6 1389.6 L1039.8 1382.4 L1041 1375.3 L1042.2 1368.2 L1043.4 1361.2 L1044.6 1354.2 L1045.8 1347.4 L1047 1340.7 L1048.1 1334.1 L1049.3 1327.7 L1050.5 1321.4 L1051.7 1315.3 L1052.9 1309.4 L1054.1 1303.7 L1055.3 1298.2 L1056.5 1292.9 L1057.7 1287.9 L1058.9 1283.2 L1060 1278.7 L1061.2 1274.4 L1062.4 1270.4 L1063.6 1266.7 L1064.8 1263.3 L1066 1260.1 L1067.2 1257.3 L1068.4 1254.7 L1069.6 1252.3 L1070.8 1250.3 L1071.9 1248.5 L1073.1 1247 L1074.3 1245.8 L1075.5 1244.8 L1076.7 1244.1 L1077.9 1243.6 L1079.1 1243.3 L1080.3 1243.3 L1081.5 1243.5 L1082.7 1243.9 L1083.8 1244.5 L1085 1245.3 L1086.2 1246.3 L1087.4 1247.5 L1088.6 1248.8 L1089.8 1250.3 L1091 1251.9 L1092.2 1253.7 L1093.4 1255.6 L1094.5 1257.6 L1095.7 1259.7 L1096.9 1261.9 L1098.1 1264.2 L1099.3 1266.6 L1100.5 1269 L1101.7 1271.6 L1102.9 1274.1 L1104.1 1276.8 L1105.3 1279.4 L1106.5 1282.1 L1107.6 1284.9 L1108.8 1287.7 L1110 1290.5 L1111.2 1293.3 L1112.4 1296.1 L1113.6 1298.9 L1114.8 1301.8 L1116 1304.6 L1117.2 1307.5 L1118.4 1310.3 L1119.5 1313.1 L1120.7 1315.9 L1121.9 1318.8 L1123.1 1321.6 L1124.3 1324.3 L1125.5 1327.1 L1126.7 1329.8 L1127.9 1332.6 L1129.1 1335.3 L1130.2 1338 L1131.4 1340.6 L1132.6 1343.3 L1133.8 1345.9 L1135 1348.5 L1136.2 1351.1 L1137.4 1353.6 L1138.6 1356.1 L1139.8 1358.6 L1141 1361.1 L1142.2 1363.6 L1143.3 1366 L1144.5 1368.4 L1145.7 1370.8 L1146.9 1373.1 L1148.1 1375.4 L1149.3 1377.7 L1150.5 1380 L1151.7 1382.3 L1152.9 1384.5 L1154 1386.7 L1155.2 1388.9 L1156.4 1391 L1157.6 1393.2 L1158.8 1395.3 L1160 1397.4 L1161.2 1399.4 L1162.4 1401.5 L1163.6 1403.5 L1164.8 1405.5 L1166 1407.5 L1167.1 1409.4 L1168.3 1411.4 L1169.5 1413.3 L1170.7 1415.2 L1171.9 1417 L1173.1 1418.9 L1174.3 1420.7 L1175.5 1422.5 L1176.7 1424.3 L1177.9 1426.1 L1179 1427.9 L1180.2 1429.6 L1181.4 1431.3 L1182.6 1433 L1183.8 1434.7 L1185 1436.3 L1186.2 1438 L1187.4 1439.6 L1188.6 1441.2 L1189.8 1442.8 L1190.9 1444.4 L1192.1 1445.9 L1193.3 1447.5 L1194.5 1449 L1195.7 1450.5 L1196.9 1452 L1198.1 1453.4 L1199.3 1454.9 L1200.5 1456.3 L1201.7 1457.8 L1202.8 1459.2 L1204 1460.6 L1205.2 1461.9 L1206.4 1463.3 L1207.6 1464.6 L1208.8 1466 L1210 1467.3 L1211.2 1468.6 L1212.4 1469.9 L1213.5 1471.2 L1214.7 1472.4 L1215.9 1473.7 L1217.1 1474.9 L1218.3 1476.1 L1219.5 1477.3 L1220.7 1478.5 L1221.9 1479.7 L1223.1 1480.9 L1224.3 1482 L1225.5 1483.2 L1226.6 1484.3 L1227.8 1485.4 L1229 1486.5 L1230.2 1487.6 L1231.4 1488.7 L1232.6 1489.8 L1233.8 1490.8 L1235 1491.9 L1236.2 1492.9 L1237.4 1493.9 L1238.5 1494.9 L1239.7 1495.9 L1240.9 1496.9 L1242.1 1497.9 L1243.3 1498.9 L1244.5 1499.8 L1245.7 1500.8 L1246.9 1501.7 L1248.1 1502.6 L1249.2 1503.6 L1250.4 1504.5 L1251.6 1505.4 L1252.8 1506.3 L1254 1507.1 L1255.2 1508 L1256.4 1508.9 L1257.6 1509.7 L1258.8 1510.5 L1260 1511.4 L1261.2 1512.2 L1262.3 1513 L1263.5 1513.8 L1264.7 1514.6 L1265.9 1515.4 L1267.1 1516.2 L1268.3 1517 L1269.5 1517.7 L1270.7 1518.5 L1271.9 1519.2 L1273 1519.9 L1274.2 1520.7 L1275.4 1521.4 L1276.6 1522.1 L1277.8 1522.8 L1279 1523.5 L1280.2 1524.2 L1281.4 1524.9 L1282.6 1525.6 L1283.8 1526.2 L1285 1526.9 L1286.1 1527.5 L1287.3 1528.2 L1288.5 1528.8 L1289.7 1529.5 L1290.9 1530.1 L1292.1 1530.7 L1293.3 1531.3 L1294.5 1531.9 L1295.7 1532.5 L1296.9 1533.1 L1298 1533.7 L1299.2 1534.3 L1300.4 1534.8 L1301.6 1535.4 L1302.8 1536 L1304 1536.5 L1305.2 1537.1 L1306.4 1537.6 L1307.6 1538.1 L1308.8 1538.7 L1309.9 1539.2 L1311.1 1539.7 L1312.3 1540.2 L1313.5 1540.7 L1314.7 1541.2 L1315.9 1541.7 L1317.1 1542.2 L1318.3 1542.7 L1319.5 1543.2 L1320.7 1543.7 L1321.8 1544.1 L1323 1544.6 L1324.2 1545.1 L1325.4 1545.5 L1326.6 1546 L1327.8 1546.4 L1329 1546.9 L1330.2 1547.3 L1331.4 1547.7 L1332.5 1548.1 L1333.7 1548.6 L1334.9 1549 L1336.1 1549.4 L1337.3 1549.8 L1338.5 1550.2 L1339.7 1550.6 L1340.9 1551 L1342.1 1551.4 L1343.3 1551.8 L1344.5 1552.2 L1345.6 1552.5 L1346.8 1552.9 L1348 1553.3 L1349.2 1553.6 L1350.4 1554 L1351.6 1554.4 L1352.8 1554.7 L1354 1555.1 L1355.2 1555.4 L1356.4 1555.7 L1357.5 1556.1 L1358.7 1556.4 L1359.9 1556.8 L1361.1 1557.1 L1362.3 1557.4 L1363.5 1557.7 L1364.7 1558 L1365.9 1558.4 L1367.1 1558.7 L1368.2 1559 L1369.4 1559.3 L1370.6 1559.6 L1371.8 1559.9 L1373 1560.2 L1374.2 1560.5 L1375.4 1560.7 L1376.6 1561 L1377.8 1561.3 L1379 1561.6 L1380.2 1561.9 L1381.3 1562.1 L1382.5 1562.4 L1383.7 1562.7 L1384.9 1562.9 L1386.1 1563.2 L1387.3 1563.4 L1388.5 1563.7 L1389.7 1564 L1390.9 1564.2 L1392 1564.4 L1393.2 1564.7 L1394.4 1564.9 L1395.6 1565.2 L1396.8 1565.4 L1398 1565.6 L1399.2 1565.9 L1400.4 1566.1 L1401.6 1566.3 L1402.8 1566.5 L1404 1566.8 L1405.1 1567 L1406.3 1567.2 L1407.5 1567.4 L1408.7 1567.6 L1409.9 1567.8 L1411.1 1568 L1412.3 1568.2 L1413.5 1568.4 L1414.7 1568.6 L1415.9 1568.8 L1417 1569 L1418.2 1569.2 L1419.4 1569.4 L1420.6 1569.6 L1421.8 1569.8 L1423 1570 L1424.2 1570.2 L1425.4 1570.4 L1426.6 1570.5 L1427.8 1570.7 L1428.9 1570.9 L1430.1 1571.1 L1431.3 1571.2 L1432.5 1571.4 L1433.7 1571.6 L1434.9 1571.7 L1436.1 1571.9 L1437.3 1572.1 L1438.5 1572.2 L1439.7 1572.4 L1440.8 1572.5 L1442 1572.7 L1443.2 1572.9 L1444.4 1573 L1445.6 1573.2 L1446.8 1573.3 L1448 1573.5 L1449.2 1573.6 L1450.4 1573.7 L1451.5 1573.9 L1452.7 1574 L1453.9 1574.2 L1455.1 1574.3 L1456.3 1574.4 L1457.5 1574.6 L1458.7 1574.7 L1459.9 1574.8 L1461.1 1575 L1462.3 1575.1 L1463.5 1575.2 L1464.6 1575.4 L1465.8 1575.5 L1467 1575.6 L1468.2 1575.7 L1469.4 1575.8 L1470.6 1576 L1471.8 1576.1 L1473 1576.2 L1474.2 1576.3 L1475.4 1576.4 L1476.5 1576.5 L1477.7 1576.7 L1478.9 1576.8 L1480.1 1576.9 L1481.3 1577 L1482.5 1577.1 L1483.7 1577.2 L1484.9 1577.3 L1486.1 1577.4 L1487.2 1577.5 L1488.4 1577.6 L1489.6 1577.7 L1490.8 1577.8 L1492 1577.9 L1493.2 1578 L1494.4 1578.1 L1495.6 1578.2 L1496.8 1578.3 L1498 1578.4 L1499.2 1578.5 L1500.3 1578.6 L1501.5 1578.7 L1502.7 1578.8 L1503.9 1578.8 L1505.1 1578.9 L1506.3 1579 L1507.5 1579.1 L1508.7 1579.2 L1509.9 1579.3 L1511.1 1579.4 L1512.2 1579.4 L1513.4 1579.5 L1514.6 1579.6 L1515.8 1579.7 L1517 1579.8 L1518.2 1579.8 L1519.4 1579.9 L1520.6 1580 L1521.8 1580.1 L1523 1580.1 L1524.1 1580.2 L1525.3 1580.3 L1526.5 1580.4 L1527.7 1580.4 L1528.9 1580.5 L1530.1 1580.6 L1531.3 1580.6 L1532.5 1580.7 L1533.7 1580.8 L1534.8 1580.8 L1536 1580.9 L1537.2 1581 L1538.4 1581 L1539.6 1581.1 L1540.8 1581.2 L1542 1581.2 L1543.2 1581.3 L1544.4 1581.3 L1545.6 1581.4 L1546.8 1581.5 L1547.9 1581.5 L1549.1 1581.6 L1550.3 1581.6 L1551.5 1581.7 L1552.7 1581.8 L1553.9 1581.8 L1555.1 1581.9 L1556.3 1581.9 L1557.5 1582 L1558.7 1582 L1559.8 1582.1 L1561 1582.1 L1562.2 1582.2 L1563.4 1582.2 L1564.6 1582.3 L1565.8 1582.3 L1567 1582.4 L1568.2 1582.4 L1569.4 1582.5 L1570.6 1582.5 L1571.7 1582.6 L1572.9 1582.6 L1574.1 1582.7 L1575.3 1582.7 L1576.5 1582.8 L1577.7 1582.8 L1578.9 1582.9 L1580.1 1582.9 L1581.3 1582.9 L1582.5 1583 L1583.6 1583 L1584.8 1583.1 L1586 1583.1 L1587.2 1583.2 L1588.4 1583.2 L1589.6 1583.2 L1590.8 1583.3 L1592 1583.3 L1593.2 1583.4 L1594.3 1583.4 L1595.5 1583.4 L1596.7 1583.5 L1597.9 1583.5 L1599.1 1583.5 L1600.3 1583.6 L1601.5 1583.6 L1602.7 1583.7 L1603.9 1583.7 L1605.1 1583.7 L1606.2 1583.8 L1607.4 1583.8 L1608.6 1583.8 L1609.8 1583.9 L1611 1583.9 L1612.2 1583.9 L1613.4 1584 L1614.6 1584 L1615.8 1584 L1617 1584.1 L1618.2 1584.1 L1619.3 1584.1 L1620.5 1584.2 L1621.7 1584.2 L1622.9 1584.2 L1624.1 1584.2 L1625.3 1584.3 L1626.5 1584.3 L1627.7 1584.3 L1628.9 1584.4 L1630.1 1584.4 L1631.2 1584.4 L1632.4 1584.4 L1633.6 1584.5 L1634.8 1584.5 L1636 1584.5 L1637.2 1584.5 L1638.4 1584.6 L1639.6 1584.6" fill="none" stroke="#ff0000" stroke-width="7.5" stroke-linejoin="round" stroke-linecap="round"/>
</g>
<rect x="970.5" y="1195" width="666.5" height="407" fill="none" stroke="#000" stroke-width="8.5" stroke-linejoin="miter"/>
<text x="961" y="1605" font-family="'Liberation Sans', Arial, Helvetica, sans-serif" font-size="45" font-weight="bold" text-anchor="end" fill="#000">0.0</text>
<text x="961" y="1438.1" font-family="'Liberation Sans', Arial, Helvetica, sans-serif" font-size="45" font-weight="bold" text-anchor="end" fill="#000">0.4</text>
<text x="961" y="1271.2" font-family="'Liberation Sans', Arial, Helvetica, sans-serif" font-size="45" font-weight="bold" text-anchor="end" fill="#000">0.8</text>
<text x="1023.5" y="1650.3" font-family="'Liberation Sans', Arial, Helvetica, sans-serif" font-size="45" font-weight="bold" text-anchor="middle" fill="#000">0.0</text>
<text x="1142.7" y="1650.3" font-family="'Liberation Sans', Arial, Helvetica, sans-serif" font-size="45" font-weight="bold" text-anchor="middle" fill="#000">0.5</text>
<text x="1261.8" y="1650.3" font-family="'Liberation Sans', Arial, Helvetica, sans-serif" font-size="45" font-weight="bold" text-anchor="middle" fill="#000">1.0</text>
<text x="1381" y="1650.3" font-family="'Liberation Sans', Arial, Helvetica, sans-serif" font-size="45" font-weight="bold" text-anchor="middle" fill="#000">1.5</text>
<text x="1500.1" y="1650.3" font-family="'Liberation Sans', Arial, Helvetica, sans-serif" font-size="45" font-weight="bold" text-anchor="middle" fill="#000">2.0</text>
<text x="1619.2" y="1650.3" font-family="'Liberation Sans', Arial, Helvetica, sans-serif" font-size="45" font-weight="bold" text-anchor="middle" fill="#000">2.5</text>
<text x="0" y="0" font-family="'Liberation Serif', 'Times New Roman', serif" font-size="49.7" font-weight="bold" text-anchor="middle" fill="#000" transform="translate(1304 1715.4) scale(1.105 1)">time (ns)</text>
<text transform="translate(883.5 1748.8) rotate(-90) scale(0.94 1)" font-family="'Liberation Sans', Arial, Helvetica, sans-serif" font-size="60" font-weight="bold" fill="#000">Intensity (counts) x 10<tspan dy="-23.5" font-size="48">3</tspan></text>
<circle cx="1254.4" cy="1253" r="25.8" fill="#00ff00" stroke="#e8281e" stroke-width="2"/>
<text x="1326" y="1270.5" font-family="'Liberation Sans', Arial, Helvetica, sans-serif" font-size="52" font-weight="bold" text-anchor="start" fill="#000">PFN</text>
<line x1="1198" y1="1318.3" x2="1311.6" y2="1318.3" stroke="#ff0000" stroke-width="10" stroke-linecap="round"/>
<text x="1341" y="1335.5" font-family="'Liberation Sans', Arial, Helvetica, sans-serif" font-size="52" font-weight="bold" text-anchor="start" fill="#000">Fitting</text>
<g>
<path d="M982.3 171 L1008.5 125.5 L1061 125.5 L1087.3 171 L1061 216.5 L1008.5 216.5 Z" fill="none" stroke="#1e1e1e" stroke-width="3.7" stroke-linejoin="round"/>
<line x1="1016.3" y1="137.2" x2="1053.2" y2="137.2" stroke="#1e1e1e" stroke-width="3.7" stroke-linecap="round"/>
<line x1="996.3" y1="171.9" x2="1014.8" y2="203.9" stroke="#1e1e1e" stroke-width="3.7" stroke-linecap="round"/>
<line x1="1073.3" y1="171.9" x2="1054.8" y2="203.9" stroke="#1e1e1e" stroke-width="3.7" stroke-linecap="round"/>
<path d="M1139.3 171 L1165.5 125.5 L1218 125.5 L1244.3 171 L1218 216.5 L1165.5 216.5 Z" fill="none" stroke="#1e1e1e" stroke-width="3.7" stroke-linejoin="round"/>
<line x1="1173.3" y1="137.2" x2="1210.2" y2="137.2" stroke="#1e1e1e" stroke-width="3.7" stroke-linecap="round"/>
<line x1="1153.3" y1="171.9" x2="1171.8" y2="203.9" stroke="#1e1e1e" stroke-width="3.7" stroke-linecap="round"/>
<line x1="1230.3" y1="171.9" x2="1211.8" y2="203.9" stroke="#1e1e1e" stroke-width="3.7" stroke-linecap="round"/>
<path d="M1297 171 L1323.2 125.5 L1375.8 125.5 L1402 171 L1375.8 216.5 L1323.2 216.5 Z" fill="none" stroke="#1e1e1e" stroke-width="3.7" stroke-linejoin="round"/>
<line x1="1331" y1="204.8" x2="1368" y2="204.8" stroke="#1e1e1e" stroke-width="3.7" stroke-linecap="round"/>
<line x1="1311" y1="170.1" x2="1329.5" y2="138.1" stroke="#1e1e1e" stroke-width="3.7" stroke-linecap="round"/>
<line x1="1388" y1="170.1" x2="1369.5" y2="138.1" stroke="#1e1e1e" stroke-width="3.7" stroke-linecap="round"/>
<path d="M1456.2 171 L1482.5 125.5 L1535 125.5 L1561.2 171 L1535 216.5 L1482.5 216.5 Z" fill="none" stroke="#1e1e1e" stroke-width="3.7" stroke-linejoin="round"/>
<line x1="1490.2" y1="204.8" x2="1527.2" y2="204.8" stroke="#1e1e1e" stroke-width="3.7" stroke-linecap="round"/>
<line x1="1470.2" y1="170.1" x2="1488.7" y2="138.1" stroke="#1e1e1e" stroke-width="3.7" stroke-linecap="round"/>
<line x1="1547.2" y1="170.1" x2="1528.7" y2="138.1" stroke="#1e1e1e" stroke-width="3.7" stroke-linecap="round"/>
<line x1="1087.3" y1="171" x2="1139.3" y2="171" stroke="#1e1e1e" stroke-width="3.7" stroke-linecap="round"/>
<line x1="1244.3" y1="171" x2="1297" y2="171" stroke="#1e1e1e" stroke-width="3.7" stroke-linecap="round"/>
<line x1="1402" y1="171" x2="1456.2" y2="171" stroke="#1e1e1e" stroke-width="3.7" stroke-linecap="round"/>
<line x1="1061" y1="216.5" x2="1113.3" y2="243" stroke="#1e1e1e" stroke-width="3.7" stroke-linecap="round"/>
<line x1="1165.5" y1="216.5" x2="1113.3" y2="243" stroke="#1e1e1e" stroke-width="3.7" stroke-linecap="round"/>
<line x1="1375.8" y1="125.5" x2="1429.1" y2="98" stroke="#1e1e1e" stroke-width="3.7" stroke-linecap="round"/>
<line x1="1482.5" y1="125.5" x2="1429.1" y2="98" stroke="#1e1e1e" stroke-width="3.7" stroke-linecap="round"/>
<line x1="1429.1" y1="98" x2="1392" y2="80" stroke="#1e1e1e" stroke-width="3.7" stroke-linecap="round"/>
<line x1="1429.1" y1="98" x2="1457.4" y2="81.5" stroke="#1e1e1e" stroke-width="3.7" stroke-linecap="round"/>
<line x1="930" y1="171" x2="982.3" y2="171" stroke="#1e1e1e" stroke-width="3.7" stroke-linecap="round"/>
<line x1="1561.2" y1="171" x2="1613.6" y2="171" stroke="#1e1e1e" stroke-width="3.7" stroke-linecap="round"/>
<path d="M955.3 144.2 Q953.3 145 953.3 147.5 L953.3 195 Q953.3 197.6 955.3 198.6" fill="none" stroke="#1e1e1e" stroke-width="3.7" stroke-linecap="round"/>
<path d="M1581.9 145.2 Q1583.9 146 1583.9 148.5 L1583.9 194.5 Q1583.9 197 1581.9 198" fill="none" stroke="#1e1e1e" stroke-width="3.7" stroke-linecap="round"/>
<text x="1593.6" y="207.7" font-family="'Liberation Sans', Arial, Helvetica, sans-serif" font-size="33" font-weight="bold" text-anchor="start" fill="#000">n</text>
<path d="M1113.3 243 L1062.1 243 L1036 288.1 L983.6 288.1 L969.3 314.3" fill="none" stroke="#1e1e1e" stroke-width="3.7" stroke-linejoin="round" stroke-linecap="round"/>
<path d="M1113.3 243 L1167.9 243.2 L1193.75 288.75 L1246.4 288.75 L1267.9 309.3" fill="none" stroke="#1e1e1e" stroke-width="3.7" stroke-linejoin="round" stroke-linecap="round"/>
</g>
<text x="1278.7" y="88.7" font-family="'Liberation Sans', Arial, Helvetica, sans-serif" font-size="39" font-weight="bold" fill="#1e1e1e">C<tspan font-size="29" dy="7">8</tspan><tspan dy="-7">H</tspan><tspan font-size="29" dy="7">17</tspan></text>
<text x="1458.8" y="88.7" font-family="'Liberation Sans', Arial, Helvetica, sans-serif" font-size="39" font-weight="bold" fill="#1e1e1e">C<tspan font-size="29" dy="7">8</tspan><tspan dy="-7">H</tspan><tspan font-size="29" dy="7">17</tspan></text>
<text x="841.7" y="348.3" font-family="'Liberation Sans', Arial, Helvetica, sans-serif" font-size="39" font-weight="bold" fill="#007f35">H<tspan font-size="30" dy="8">3</tspan><tspan dy="-8">C</tspan></text>
<line x1="922.9" y1="334.5" x2="939.5" y2="334.5" stroke="#1e1e1e" stroke-width="3.7" stroke-linecap="round"/>
<text x="955.6" y="347.6" font-family="'Liberation Sans', Arial, Helvetica, sans-serif" font-size="39" font-weight="bold" text-anchor="middle" fill="#000">N</text>
<line x1="945.2" y1="304.8" x2="967.2" y2="304.8" stroke="#ff2035" stroke-width="3.2" stroke-linecap="butt"/>
<line x1="956.2" y1="294.8" x2="956.2" y2="314.8" stroke="#ff2035" stroke-width="3.2" stroke-linecap="butt"/>
<line x1="974" y1="334.5" x2="1015.7" y2="334.5" stroke="#1e1e1e" stroke-width="3.7" stroke-linecap="round"/>
<text x="1017.7" y="348.3" font-family="'Liberation Sans', Arial, Helvetica, sans-serif" font-size="39" font-weight="bold" fill="#007f35">CH<tspan font-size="30" dy="8">3</tspan></text>
<line x1="957.9" y1="356" x2="957.9" y2="390.5" stroke="#1e1e1e" stroke-width="3.7" stroke-linecap="round"/>
<text x="941.4" y="425" font-family="'Liberation Sans', Arial, Helvetica, sans-serif" font-size="39" font-weight="bold" fill="#007f35">CH<tspan font-size="30" dy="8">3</tspan></text>
<text x="1168.8" y="340.3" font-family="'Liberation Sans', Arial, Helvetica, sans-serif" font-size="39" font-weight="bold" fill="#007f35">H<tspan font-size="30" dy="8">3</tspan><tspan dy="-8">C</tspan></text>
<line x1="1249" y1="326.3" x2="1267" y2="326.3" stroke="#1e1e1e" stroke-width="3.7" stroke-linecap="round"/>
<text x="1283" y="339.6" font-family="'Liberation Sans', Arial, Helvetica, sans-serif" font-size="39" font-weight="bold" text-anchor="middle" fill="#000">N</text>
<line x1="1272.9" y1="295.9" x2="1294.9" y2="295.9" stroke="#ff2035" stroke-width="3.2" stroke-linecap="butt"/>
<line x1="1283.9" y1="285.9" x2="1283.9" y2="305.9" stroke="#ff2035" stroke-width="3.2" stroke-linecap="butt"/>
<line x1="1301" y1="326.3" x2="1342" y2="326.3" stroke="#1e1e1e" stroke-width="3.7" stroke-linecap="round"/>
<text x="1344.8" y="340.3" font-family="'Liberation Sans', Arial, Helvetica, sans-serif" font-size="39" font-weight="bold" fill="#007f35">CH<tspan font-size="30" dy="8">3</tspan></text>
<line x1="1283.9" y1="346.8" x2="1283.9" y2="381.6" stroke="#1e1e1e" stroke-width="3.7" stroke-linecap="round"/>
<text x="1268.9" y="417.3" font-family="'Liberation Sans', Arial, Helvetica, sans-serif" font-size="39" font-weight="bold" fill="#007f35">CH<tspan font-size="30" dy="8">3</tspan></text>
</svg>
</body></html>
